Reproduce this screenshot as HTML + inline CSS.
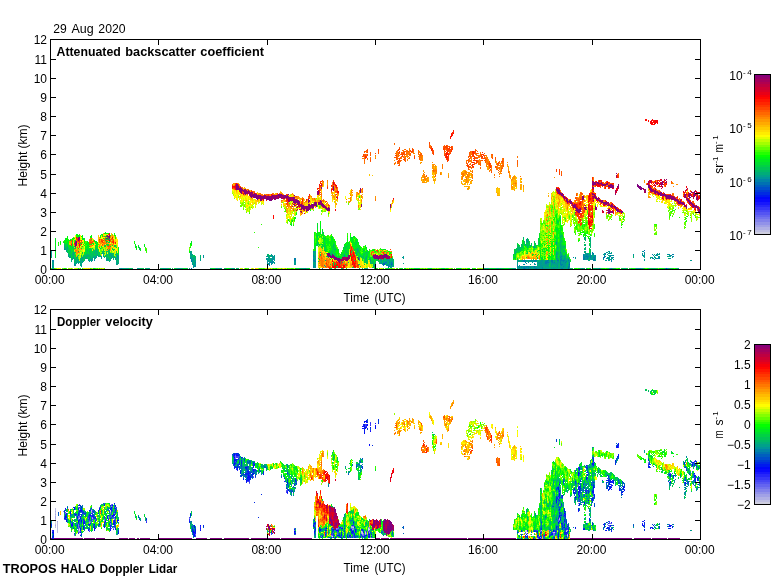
<!DOCTYPE html>
<html><head><meta charset="utf-8"><title>TROPOS HALO Doppler Lidar</title>
<style>html,body{margin:0;padding:0;background:#fff}svg{display:block;will-change:transform}text{font-family:"Liberation Sans",sans-serif;font-size:12px;fill:#000}.b{font-weight:bold}.s{font-size:8px}</style></head><body>
<svg width="780" height="580" viewBox="0 0 780 580">
<rect width="780" height="580" fill="#fff"/>
<defs><linearGradient id="cb" x1="0" y1="1" x2="0" y2="0">
<stop offset="0.0000" stop-color="#cecedf"/><stop offset="0.0156" stop-color="#cecedf"/>
<stop offset="0.0156" stop-color="#bfbfe2"/><stop offset="0.0312" stop-color="#bfbfe2"/>
<stop offset="0.0312" stop-color="#b0b0e4"/><stop offset="0.0469" stop-color="#b0b0e4"/>
<stop offset="0.0469" stop-color="#a1a1e6"/><stop offset="0.0625" stop-color="#a1a1e6"/>
<stop offset="0.0625" stop-color="#9292e9"/><stop offset="0.0781" stop-color="#9292e9"/>
<stop offset="0.0781" stop-color="#8282eb"/><stop offset="0.0938" stop-color="#8282eb"/>
<stop offset="0.0938" stop-color="#7373ed"/><stop offset="0.1094" stop-color="#7373ed"/>
<stop offset="0.1094" stop-color="#6464f0"/><stop offset="0.1250" stop-color="#6464f0"/>
<stop offset="0.1250" stop-color="#5555f2"/><stop offset="0.1406" stop-color="#5555f2"/>
<stop offset="0.1406" stop-color="#4646f4"/><stop offset="0.1562" stop-color="#4646f4"/>
<stop offset="0.1562" stop-color="#3636f7"/><stop offset="0.1719" stop-color="#3636f7"/>
<stop offset="0.1719" stop-color="#2727f9"/><stop offset="0.1875" stop-color="#2727f9"/>
<stop offset="0.1875" stop-color="#1818fb"/><stop offset="0.2031" stop-color="#1818fb"/>
<stop offset="0.2031" stop-color="#0909fe"/><stop offset="0.2188" stop-color="#0909fe"/>
<stop offset="0.2188" stop-color="#0007fa"/><stop offset="0.2344" stop-color="#0007fa"/>
<stop offset="0.2344" stop-color="#0019ee"/><stop offset="0.2500" stop-color="#0019ee"/>
<stop offset="0.2500" stop-color="#002be2"/><stop offset="0.2656" stop-color="#002be2"/>
<stop offset="0.2656" stop-color="#003cd6"/><stop offset="0.2812" stop-color="#003cd6"/>
<stop offset="0.2812" stop-color="#004eca"/><stop offset="0.2969" stop-color="#004eca"/>
<stop offset="0.2969" stop-color="#005fbe"/><stop offset="0.3125" stop-color="#005fbe"/>
<stop offset="0.3125" stop-color="#0071b2"/><stop offset="0.3281" stop-color="#0071b2"/>
<stop offset="0.3281" stop-color="#0083a7"/><stop offset="0.3438" stop-color="#0083a7"/>
<stop offset="0.3438" stop-color="#00949b"/><stop offset="0.3594" stop-color="#00949b"/>
<stop offset="0.3594" stop-color="#00a18a"/><stop offset="0.3750" stop-color="#00a18a"/>
<stop offset="0.3750" stop-color="#00ad79"/><stop offset="0.3906" stop-color="#00ad79"/>
<stop offset="0.3906" stop-color="#00b967"/><stop offset="0.4062" stop-color="#00b967"/>
<stop offset="0.4062" stop-color="#00c555"/><stop offset="0.4219" stop-color="#00c555"/>
<stop offset="0.4219" stop-color="#00d144"/><stop offset="0.4375" stop-color="#00d144"/>
<stop offset="0.4375" stop-color="#00dd32"/><stop offset="0.4531" stop-color="#00dd32"/>
<stop offset="0.4531" stop-color="#00e921"/><stop offset="0.4688" stop-color="#00e921"/>
<stop offset="0.4688" stop-color="#00f50f"/><stop offset="0.4844" stop-color="#00f50f"/>
<stop offset="0.4844" stop-color="#04ff00"/><stop offset="0.5000" stop-color="#04ff00"/>
<stop offset="0.5000" stop-color="#24ff00"/><stop offset="0.5156" stop-color="#24ff00"/>
<stop offset="0.5156" stop-color="#44ff00"/><stop offset="0.5312" stop-color="#44ff00"/>
<stop offset="0.5312" stop-color="#64ff00"/><stop offset="0.5469" stop-color="#64ff00"/>
<stop offset="0.5469" stop-color="#84ff00"/><stop offset="0.5625" stop-color="#84ff00"/>
<stop offset="0.5625" stop-color="#a4ff00"/><stop offset="0.5781" stop-color="#a4ff00"/>
<stop offset="0.5781" stop-color="#c4ff00"/><stop offset="0.5938" stop-color="#c4ff00"/>
<stop offset="0.5938" stop-color="#e4ff00"/><stop offset="0.6094" stop-color="#e4ff00"/>
<stop offset="0.6094" stop-color="#fffd00"/><stop offset="0.6250" stop-color="#fffd00"/>
<stop offset="0.6250" stop-color="#ffec00"/><stop offset="0.6406" stop-color="#ffec00"/>
<stop offset="0.6406" stop-color="#ffdc00"/><stop offset="0.6562" stop-color="#ffdc00"/>
<stop offset="0.6562" stop-color="#ffcb00"/><stop offset="0.6719" stop-color="#ffcb00"/>
<stop offset="0.6719" stop-color="#ffbb00"/><stop offset="0.6875" stop-color="#ffbb00"/>
<stop offset="0.6875" stop-color="#ffaa00"/><stop offset="0.7031" stop-color="#ffaa00"/>
<stop offset="0.7031" stop-color="#ff9900"/><stop offset="0.7188" stop-color="#ff9900"/>
<stop offset="0.7188" stop-color="#ff8900"/><stop offset="0.7344" stop-color="#ff8900"/>
<stop offset="0.7344" stop-color="#ff7800"/><stop offset="0.7500" stop-color="#ff7800"/>
<stop offset="0.7500" stop-color="#ff6800"/><stop offset="0.7656" stop-color="#ff6800"/>
<stop offset="0.7656" stop-color="#ff5800"/><stop offset="0.7812" stop-color="#ff5800"/>
<stop offset="0.7812" stop-color="#ff4700"/><stop offset="0.7969" stop-color="#ff4700"/>
<stop offset="0.7969" stop-color="#ff3700"/><stop offset="0.8125" stop-color="#ff3700"/>
<stop offset="0.8125" stop-color="#ff2600"/><stop offset="0.8281" stop-color="#ff2600"/>
<stop offset="0.8281" stop-color="#ff1600"/><stop offset="0.8438" stop-color="#ff1600"/>
<stop offset="0.8438" stop-color="#ff0600"/><stop offset="0.8594" stop-color="#ff0600"/>
<stop offset="0.8594" stop-color="#f60009"/><stop offset="0.8750" stop-color="#f60009"/>
<stop offset="0.8750" stop-color="#e80017"/><stop offset="0.8906" stop-color="#e80017"/>
<stop offset="0.8906" stop-color="#da0025"/><stop offset="0.9062" stop-color="#da0025"/>
<stop offset="0.9062" stop-color="#cc0033"/><stop offset="0.9219" stop-color="#cc0033"/>
<stop offset="0.9219" stop-color="#be0041"/><stop offset="0.9375" stop-color="#be0041"/>
<stop offset="0.9375" stop-color="#b1004f"/><stop offset="0.9531" stop-color="#b1004f"/>
<stop offset="0.9531" stop-color="#a3005d"/><stop offset="0.9688" stop-color="#a3005d"/>
<stop offset="0.9688" stop-color="#95006b"/><stop offset="0.9844" stop-color="#95006b"/>
<stop offset="0.9844" stop-color="#870079"/><stop offset="1.0000" stop-color="#870079"/>
</linearGradient></defs>
<g shape-rendering="crispEdges">
<g fill="none" stroke-width="1"><path stroke="#0046d0" d="M384.5 264v1M666.5 268v1"/><path stroke="#0063bc" d="M191.5 268v1M383.5 263v2M384.5 263v1M388.5 267v1M391.5 264v1M524.5 261v1M524.5 268v1M534.5 266v1M568.5 268v1M569.5 264v1M594.5 259v1M604.5 257v1M644.5 250v1"/><path stroke="#0080a9" d="M52.5 260v1M52.5 266v1M53.5 260v2M64.5 249v1M74.5 264v1M94.5 260v1M121.5 268v1M190.5 258v1M191.5 259v3M194.5 266v1M195.5 262v1M195.5 266v1M203.5 255v1M266.5 258v1M267.5 262v1M269.5 263v3M270.5 262v1M271.5 262v1M272.5 259v4M294.5 258v3M295.5 258v3M305.5 268v1M313.5 251v1M313.5 255v2M313.5 259v2M313.5 266v2M314.5 260v2M315.5 261v1M322.5 268v1M325.5 266v1M344.5 256v1M370.5 260v1M381.5 263v1M383.5 265v1M385.5 262v2M386.5 262v1M387.5 265v1M388.5 265v2M389.5 262v1M389.5 264v1M389.5 266v1M391.5 262v2M391.5 265v1M392.5 263v2M517.5 265v2M519.5 267v1M521.5 266v2M523.5 260v2M523.5 267v2M524.5 260v1M524.5 264v1M524.5 266v2M525.5 260v1M525.5 262v1M525.5 268v1M526.5 239v1M526.5 266v2M527.5 266v1M528.5 266v3M530.5 267v1M531.5 260v1M534.5 260v2M534.5 267v1M535.5 260v2M535.5 268v1M536.5 260v1M536.5 268v1M542.5 267v2M545.5 261v3M546.5 261v3M547.5 260v3M548.5 260v1M548.5 262v1M551.5 260v2M552.5 260v3M554.5 262v1M557.5 260v1M558.5 260v1M560.5 252v1M560.5 257v1M560.5 259v6M561.5 256v1M561.5 258v3M561.5 264v2M561.5 268v1M562.5 260v1M562.5 264v1M562.5 268v1M563.5 260v2M563.5 266v1M564.5 260v1M565.5 262v1M566.5 261v1M568.5 259v2M568.5 266v2M569.5 262v2M569.5 265v2M573.5 257v1M582.5 268v1M583.5 254v6M584.5 257v3M585.5 256v1M586.5 255v2M587.5 254v1M587.5 256v3M588.5 256v1M590.5 255v3M592.5 252v2M593.5 253v1M593.5 257v1M593.5 259v2M594.5 257v2M594.5 260v1M595.5 256v1M599.5 268v1M603.5 257v2M604.5 256v1M605.5 253v2M605.5 256v1M606.5 258v1M608.5 260v1M610.5 253v1M610.5 255v2M611.5 257v1M611.5 260v2M611.5 268v1M613.5 255v1M613.5 257v1M633.5 254v1M640.5 268v1M642.5 254v1M643.5 251v1M644.5 252v1M652.5 254v1M652.5 257v1M653.5 255v1M653.5 258v1M656.5 254v2M656.5 258v1M658.5 258v1M659.5 257v2M668.5 254v1M671.5 255v1M672.5 254v1M673.5 254v1M673.5 256v1"/><path stroke="#009b94" d="M51.5 251v6M52.5 261v2M52.5 264v2M52.5 267v2M53.5 262v4M53.5 268v1M64.5 247v2M66.5 250v1M67.5 247v1M68.5 254v2M69.5 257v1M70.5 257v1M72.5 259v1M73.5 253v1M73.5 257v2M74.5 263v1M74.5 265v1M75.5 264v2M76.5 263v1M77.5 257v1M77.5 261v2M78.5 263v1M80.5 261v1M80.5 263v1M81.5 264v3M82.5 257v2M82.5 261v2M86.5 258v1M88.5 260v1M89.5 260v2M90.5 259v1M91.5 259v3M92.5 259v2M93.5 257v1M94.5 257v1M94.5 259v1M95.5 256v3M96.5 256v2M97.5 255v1M100.5 255v2M101.5 257v2M106.5 259v2M107.5 259v1M108.5 259v2M109.5 254v1M110.5 253v1M110.5 260v1M111.5 255v1M111.5 257v2M115.5 258v2M116.5 262v3M117.5 255v4M118.5 256v3M118.5 263v1M120.5 268v1M123.5 268v1M126.5 268v1M128.5 268v1M137.5 268v1M138.5 268v1M148.5 268v1M163.5 268v1M165.5 268v1M178.5 268v1M179.5 268v1M189.5 268v1M190.5 251v4M190.5 257v1M191.5 253v3M191.5 257v2M192.5 259v6M193.5 258v3M193.5 264v4M194.5 260v1M194.5 262v1M194.5 264v2M195.5 261v1M195.5 263v3M200.5 259v2M203.5 256v2M216.5 268v1M217.5 268v1M219.5 268v1M220.5 268v1M221.5 268v1M232.5 268v1M233.5 268v1M266.5 256v1M266.5 259v1M267.5 256v1M267.5 258v4M267.5 263v1M268.5 257v5M268.5 263v2M269.5 259v1M269.5 261v2M270.5 259v1M270.5 261v1M271.5 254v3M271.5 258v4M271.5 263v2M272.5 255v4M272.5 263v1M273.5 256v4M273.5 261v2M274.5 255v6M274.5 262v2M294.5 261v4M295.5 261v4M301.5 268v1M303.5 268v1M313.5 252v3M313.5 257v2M313.5 261v2M313.5 264v2M314.5 251v1M314.5 256v4M314.5 264v4M315.5 251v2M315.5 256v1M315.5 258v3M315.5 262v6M324.5 265v1M342.5 268v1M344.5 255v1M359.5 268v1M365.5 268v1M366.5 268v1M374.5 265v1M380.5 259v2M380.5 263v1M381.5 259v4M382.5 264v1M383.5 261v2M384.5 262v1M385.5 261v1M386.5 259v1M386.5 261v1M386.5 263v1M386.5 265v1M387.5 259v2M387.5 264v1M388.5 259v2M388.5 264v1M389.5 260v2M389.5 263v1M389.5 265v1M390.5 262v3M390.5 266v2M391.5 261v1M391.5 266v2M392.5 259v1M392.5 261v2M392.5 265v1M393.5 266v1M402.5 257v1M403.5 256v3M403.5 263v1M485.5 268v1M487.5 268v1M512.5 268v1M514.5 268v1M517.5 260v2M517.5 263v2M517.5 267v2M518.5 260v1M518.5 266v2M519.5 261v1M519.5 265v2M519.5 268v1M520.5 266v3M521.5 260v2M521.5 268v1M522.5 260v2M522.5 266v3M523.5 264v1M523.5 266v1M525.5 244v1M525.5 261v1M525.5 266v2M526.5 240v2M526.5 260v2M526.5 263v1M526.5 268v1M527.5 240v2M527.5 261v1M527.5 267v2M528.5 260v3M529.5 260v1M529.5 266v3M530.5 245v1M530.5 260v2M530.5 266v1M530.5 268v1M531.5 261v1M531.5 267v2M532.5 260v3M532.5 266v2M533.5 260v2M533.5 266v3M534.5 247v1M534.5 263v2M534.5 268v1M535.5 264v1M535.5 266v2M536.5 261v1M536.5 267v1M537.5 263v6M538.5 262v2M538.5 266v3M539.5 262v2M539.5 266v3M540.5 261v8M541.5 260v9M542.5 260v2M542.5 263v1M542.5 265v2M543.5 262v1M543.5 264v2M543.5 268v1M544.5 262v3M544.5 268v1M545.5 260v1M545.5 264v5M546.5 260v1M546.5 264v2M546.5 268v1M547.5 263v4M547.5 268v1M548.5 261v1M548.5 263v2M548.5 266v1M548.5 268v1M549.5 262v1M551.5 262v4M551.5 267v2M552.5 263v1M552.5 268v1M553.5 262v3M553.5 267v2M554.5 260v2M554.5 263v1M554.5 267v2M555.5 263v2M555.5 268v1M556.5 242v2M556.5 253v2M556.5 256v1M556.5 258v1M556.5 263v1M556.5 265v1M556.5 267v1M557.5 261v8M558.5 261v2M560.5 253v1M560.5 255v2M560.5 258v1M560.5 265v4M561.5 254v2M561.5 257v1M561.5 261v3M561.5 266v2M562.5 256v1M562.5 261v3M562.5 265v1M562.5 267v1M563.5 259v1M563.5 262v4M563.5 267v2M564.5 256v4M564.5 261v7M565.5 258v1M565.5 260v2M565.5 263v6M566.5 260v1M566.5 262v1M567.5 267v2M568.5 258v1M568.5 261v2M568.5 264v2M569.5 260v2M569.5 267v1M570.5 268v1M575.5 257v2M584.5 237v2M584.5 254v3M585.5 247v1M585.5 249v1M585.5 251v1M585.5 253v3M585.5 257v3M586.5 253v2M586.5 257v3M587.5 253v1M587.5 255v1M587.5 259v1M588.5 255v1M588.5 257v2M588.5 260v1M589.5 254v3M590.5 237v2M590.5 253v2M590.5 258v2M591.5 255v5M592.5 254v1M592.5 258v2M593.5 254v3M593.5 258v1M594.5 255v2M594.5 268v1M595.5 255v1M595.5 257v2M595.5 260v1M596.5 268v1M603.5 254v1M603.5 259v1M604.5 253v3M605.5 260v1M606.5 252v1M606.5 260v1M607.5 252v1M607.5 254v1M607.5 257v2M608.5 251v1M608.5 253v1M608.5 258v2M609.5 251v3M609.5 255v5M609.5 268v1M610.5 259v1M610.5 268v1M611.5 253v1M611.5 255v1M611.5 258v2M612.5 255v1M612.5 258v1M613.5 259v1M625.5 268v1M636.5 268v1M637.5 268v1M638.5 268v1M639.5 268v1M642.5 251v1M642.5 253v1M642.5 255v1M642.5 268v1M643.5 255v2M644.5 253v5M644.5 259v2M650.5 258v1M652.5 258v1M654.5 257v1M654.5 259v1M655.5 255v1M655.5 258v1M657.5 253v1M657.5 255v1M657.5 258v1M658.5 254v1M658.5 256v2M659.5 253v2M659.5 256v1M667.5 254v1M667.5 268v1M668.5 256v1M668.5 268v1M669.5 254v2M669.5 258v1M670.5 255v2M670.5 258v1M672.5 256v2M678.5 268v1M690.5 260v1M691.5 260v1"/><path stroke="#00af77" d="M51.5 250v1M51.5 257v1M52.5 263v1M53.5 266v2M64.5 245v2M65.5 248v2M66.5 248v2M66.5 251v1M67.5 246v1M67.5 248v2M67.5 252v1M68.5 253v1M68.5 256v1M69.5 256v1M70.5 251v1M70.5 255v2M71.5 259v3M72.5 254v1M72.5 258v1M73.5 252v1M73.5 254v3M74.5 259v1M75.5 259v5M76.5 260v3M77.5 256v1M77.5 258v3M78.5 255v1M78.5 259v4M79.5 261v2M80.5 259v2M80.5 262v1M80.5 264v2M81.5 256v8M82.5 259v2M83.5 256v2M83.5 261v1M85.5 256v3M86.5 255v3M87.5 255v2M87.5 258v1M88.5 255v2M89.5 256v1M89.5 259v1M90.5 256v3M90.5 260v1M91.5 258v1M92.5 257v2M93.5 253v1M93.5 255v2M94.5 256v1M94.5 258v1M95.5 250v4M96.5 249v3M96.5 253v1M96.5 255v1M97.5 251v4M98.5 255v2M99.5 256v1M100.5 248v1M101.5 246v1M101.5 256v1M102.5 251v3M103.5 253v4M104.5 253v1M104.5 257v1M105.5 255v2M106.5 258v1M107.5 255v1M107.5 257v2M107.5 260v1M108.5 258v1M109.5 253v1M109.5 255v2M109.5 261v1M110.5 254v3M110.5 258v1M111.5 253v2M111.5 256v1M112.5 253v1M112.5 255v3M113.5 256v2M113.5 259v1M114.5 256v2M115.5 254v1M115.5 257v1M116.5 254v3M116.5 258v4M117.5 259v6M118.5 255v1M118.5 259v4M119.5 268v1M122.5 268v1M124.5 268v1M125.5 268v1M127.5 268v1M132.5 268v1M139.5 268v1M146.5 268v1M147.5 268v1M149.5 268v1M161.5 268v1M162.5 268v1M164.5 268v1M166.5 268v1M167.5 268v1M168.5 268v1M176.5 268v1M177.5 268v1M180.5 268v1M181.5 268v1M182.5 268v1M190.5 255v2M191.5 251v2M191.5 256v1M192.5 254v5M193.5 257v1M193.5 261v3M194.5 257v3M194.5 261v1M194.5 263v1M195.5 256v3M195.5 260v1M200.5 256v3M210.5 268v1M215.5 268v1M225.5 268v1M231.5 268v1M237.5 268v1M267.5 254v2M268.5 255v2M269.5 255v4M269.5 260v1M270.5 255v2M270.5 258v1M270.5 260v1M299.5 268v1M304.5 268v1M308.5 268v1M313.5 263v1M314.5 252v4M314.5 262v2M315.5 253v3M315.5 257v1M317.5 241v1M317.5 243v1M325.5 260v1M326.5 256v1M331.5 268v1M333.5 245v1M334.5 255v1M335.5 249v1M340.5 261v1M342.5 262v1M343.5 256v1M344.5 254v1M348.5 262v1M354.5 260v1M356.5 253v2M357.5 249v3M358.5 251v1M358.5 257v1M359.5 252v1M359.5 258v2M359.5 264v1M365.5 258v1M366.5 257v4M367.5 268v1M369.5 259v1M370.5 259v1M370.5 261v2M371.5 263v1M372.5 267v1M373.5 264v2M374.5 264v1M374.5 266v1M375.5 262v3M378.5 261v1M379.5 263v1M380.5 261v2M382.5 263v1M383.5 259v2M384.5 259v3M386.5 260v1M386.5 264v1M387.5 261v3M388.5 261v1M388.5 263v1M389.5 259v1M390.5 259v3M390.5 265v1M391.5 260v1M392.5 258v1M392.5 260v1M392.5 266v1M393.5 265v1M488.5 268v1M497.5 268v1M498.5 268v1M500.5 268v1M513.5 268v1M515.5 251v3M515.5 268v1M517.5 247v1M517.5 249v1M517.5 262v1M518.5 247v1M518.5 249v1M518.5 261v1M518.5 268v1M519.5 248v2M519.5 260v1M520.5 260v2M522.5 245v1M523.5 237v1M525.5 245v1M527.5 238v2M527.5 242v1M527.5 245v1M527.5 260v1M528.5 241v2M529.5 261v1M530.5 264v1M531.5 266v1M532.5 268v1M533.5 246v2M534.5 245v2M535.5 243v1M536.5 266v1M537.5 260v3M538.5 260v2M538.5 264v2M539.5 261v1M539.5 264v2M540.5 260v1M542.5 262v1M542.5 264v1M543.5 260v2M543.5 263v1M543.5 266v2M544.5 260v2M544.5 265v3M546.5 266v2M547.5 267v1M548.5 265v1M548.5 267v1M549.5 260v2M549.5 267v2M550.5 260v3M550.5 264v1M550.5 266v3M551.5 266v1M552.5 264v2M552.5 267v1M553.5 260v2M553.5 265v2M554.5 264v3M555.5 260v3M555.5 265v3M556.5 252v1M556.5 255v1M556.5 257v1M556.5 259v4M556.5 264v1M556.5 266v1M556.5 268v1M557.5 247v1M557.5 252v3M557.5 256v1M557.5 258v2M558.5 258v2M558.5 263v6M559.5 257v1M559.5 261v4M559.5 266v3M560.5 236v2M560.5 241v1M560.5 243v1M560.5 245v4M560.5 250v2M560.5 254v1M561.5 240v1M561.5 253v1M562.5 255v1M562.5 257v3M562.5 266v1M563.5 246v1M563.5 250v2M563.5 256v1M563.5 258v1M564.5 247v1M564.5 251v1M564.5 255v1M564.5 268v1M565.5 254v4M565.5 259v1M566.5 259v1M566.5 263v6M567.5 259v3M567.5 264v3M568.5 263v1M569.5 268v1M580.5 268v1M581.5 268v1M584.5 249v1M584.5 251v2M584.5 268v1M585.5 238v3M585.5 244v2M585.5 252v1M586.5 268v1M588.5 253v2M588.5 259v1M589.5 253v1M589.5 257v4M590.5 239v4M590.5 244v3M590.5 268v1M592.5 255v3M595.5 259v1M597.5 268v1M598.5 268v1M600.5 268v1M608.5 255v1M608.5 257v1M609.5 260v1M611.5 252v1M612.5 257v1M624.5 268v1M633.5 255v3M641.5 268v1M649.5 268v1M650.5 257v1M651.5 257v1M651.5 268v1M654.5 254v1M654.5 256v1M654.5 268v1M655.5 257v1M657.5 254v1M665.5 268v1M667.5 256v1M668.5 258v1M669.5 256v1"/><path stroke="#00c25a" d="M64.5 244v1M65.5 245v3M66.5 247v1M67.5 244v2M67.5 250v2M68.5 248v2M69.5 251v2M69.5 255v1M70.5 250v1M70.5 252v1M70.5 254v1M71.5 254v1M71.5 258v1M72.5 252v2M72.5 255v3M73.5 247v1M73.5 251v1M74.5 246v1M74.5 252v3M74.5 257v2M74.5 260v3M75.5 252v1M75.5 255v1M75.5 258v1M76.5 257v3M80.5 258v1M81.5 255v1M82.5 252v2M83.5 255v1M83.5 258v3M84.5 254v1M84.5 256v5M85.5 255v1M86.5 254v1M87.5 249v3M87.5 253v2M87.5 257v1M88.5 254v1M88.5 258v2M89.5 251v2M89.5 254v2M89.5 257v2M90.5 248v2M90.5 251v5M91.5 249v1M91.5 253v5M92.5 253v4M93.5 249v4M93.5 254v1M94.5 251v3M94.5 255v1M95.5 248v2M95.5 254v2M96.5 248v1M96.5 252v1M96.5 254v1M97.5 249v2M99.5 252v4M101.5 253v1M103.5 249v4M104.5 251v1M104.5 256v1M105.5 246v1M106.5 251v7M107.5 249v1M107.5 251v1M107.5 254v1M107.5 256v1M108.5 250v3M108.5 257v1M109.5 242v1M109.5 251v2M109.5 258v1M109.5 260v1M110.5 257v1M110.5 259v1M112.5 254v1M113.5 253v3M113.5 258v1M114.5 245v1M114.5 249v1M116.5 247v1M116.5 253v1M116.5 257v1M117.5 254v1M130.5 268v1M131.5 268v1M139.5 247v2M140.5 268v1M141.5 268v1M142.5 268v1M143.5 268v1M145.5 268v1M160.5 268v1M170.5 268v1M172.5 268v1M185.5 268v1M187.5 268v1M193.5 255v2M194.5 256v1M195.5 259v1M200.5 255v1M218.5 268v1M234.5 268v1M236.5 268v1M268.5 254v1M296.5 268v1M300.5 268v1M302.5 268v1M306.5 268v1M307.5 268v1M316.5 245v1M317.5 236v2M317.5 242v1M317.5 244v2M318.5 244v1M318.5 261v1M319.5 259v1M320.5 252v1M320.5 255v1M322.5 231v2M322.5 245v1M324.5 245v3M325.5 249v2M327.5 256v1M328.5 257v1M330.5 253v2M330.5 264v1M331.5 252v4M332.5 251v1M332.5 253v1M333.5 244v1M333.5 246v2M333.5 258v1M334.5 249v1M334.5 253v2M335.5 248v1M335.5 256v1M335.5 263v1M337.5 266v1M338.5 257v1M340.5 263v1M341.5 258v1M343.5 255v1M345.5 250v2M345.5 255v2M346.5 251v2M347.5 252v1M347.5 254v1M348.5 254v1M351.5 237v1M352.5 267v1M353.5 267v1M355.5 249v1M355.5 253v1M356.5 249v1M356.5 252v1M356.5 255v1M357.5 248v1M357.5 252v1M358.5 248v3M358.5 264v1M359.5 253v2M359.5 256v2M359.5 260v1M360.5 256v1M362.5 256v2M363.5 250v1M363.5 254v1M363.5 256v3M364.5 250v1M364.5 260v3M364.5 264v1M364.5 268v1M365.5 257v1M365.5 259v2M365.5 262v1M366.5 252v1M366.5 256v1M366.5 262v1M367.5 254v3M367.5 261v2M370.5 258v1M370.5 263v1M371.5 262v1M372.5 260v4M373.5 261v3M373.5 266v1M375.5 265v1M376.5 260v1M376.5 268v1M377.5 259v2M379.5 260v1M382.5 260v1M382.5 262v1M385.5 259v2M387.5 268v1M388.5 262v1M391.5 258v2M393.5 260v5M443.5 268v1M460.5 268v1M484.5 268v1M486.5 268v1M491.5 268v1M496.5 268v1M501.5 268v1M503.5 268v1M509.5 268v1M510.5 268v1M513.5 254v1M514.5 253v1M514.5 257v1M515.5 249v2M516.5 248v1M516.5 251v2M517.5 245v1M517.5 248v1M517.5 250v1M517.5 259v1M518.5 245v2M518.5 248v1M518.5 250v2M519.5 246v2M519.5 250v1M520.5 247v4M521.5 244v4M522.5 244v1M522.5 246v2M523.5 238v1M524.5 241v3M526.5 242v1M526.5 244v1M526.5 253v1M527.5 243v2M527.5 246v2M527.5 253v1M528.5 240v1M528.5 243v1M528.5 245v3M529.5 243v3M530.5 252v1M531.5 243v2M533.5 250v1M534.5 241v1M535.5 247v1M536.5 245v1M536.5 247v1M537.5 251v1M538.5 242v2M539.5 260v1M541.5 258v1M542.5 258v1M549.5 255v1M549.5 263v2M549.5 266v1M550.5 263v1M550.5 265v1M552.5 266v1M555.5 242v1M556.5 238v1M556.5 241v1M556.5 244v1M556.5 251v1M557.5 221v1M557.5 243v1M557.5 245v2M557.5 248v2M557.5 251v1M557.5 255v1M557.5 257v1M558.5 247v3M558.5 252v3M559.5 245v1M559.5 255v2M559.5 260v1M559.5 265v1M560.5 217v1M560.5 235v1M560.5 242v1M560.5 244v1M560.5 249v1M561.5 235v2M561.5 241v2M561.5 244v7M561.5 252v1M562.5 235v2M562.5 246v4M562.5 252v3M563.5 247v1M563.5 255v1M563.5 257v1M564.5 246v1M564.5 250v1M565.5 253v1M566.5 258v1M567.5 258v1M567.5 262v2M568.5 257v1M571.5 268v1M583.5 268v1M584.5 239v1M584.5 242v1M584.5 244v2M584.5 248v1M585.5 237v1M585.5 248v1M589.5 244v1M590.5 243v1M590.5 247v1M590.5 249v4M595.5 268v1M612.5 268v1M613.5 268v1M622.5 268v1M623.5 268v1M627.5 268v1M631.5 268v1M635.5 268v1M652.5 268v1M653.5 268v1M655.5 268v1M657.5 268v1M664.5 268v1M669.5 268v1M670.5 268v1M677.5 268v1"/><path stroke="#00d63d" d="M55.5 247v4M55.5 256v1M63.5 242v1M64.5 243v1M65.5 244v1M66.5 244v3M67.5 242v2M68.5 247v1M68.5 250v3M69.5 249v2M69.5 253v2M70.5 245v2M70.5 249v1M70.5 253v1M71.5 247v2M71.5 252v2M71.5 255v3M72.5 242v1M72.5 246v3M72.5 250v2M73.5 248v3M74.5 248v1M74.5 255v2M75.5 240v1M75.5 247v2M75.5 256v2M78.5 243v1M78.5 248v1M78.5 251v1M81.5 248v1M82.5 246v1M84.5 253v1M84.5 255v1M85.5 254v1M86.5 249v5M87.5 252v1M88.5 251v1M88.5 253v1M88.5 257v1M89.5 248v3M89.5 253v1M90.5 250v1M91.5 250v3M92.5 248v1M92.5 251v2M93.5 268v1M94.5 250v1M94.5 254v1M95.5 245v3M96.5 244v1M96.5 246v2M97.5 248v1M98.5 251v4M101.5 234v1M104.5 245v2M105.5 245v1M106.5 241v2M106.5 244v1M107.5 241v1M108.5 242v1M108.5 253v4M109.5 241v1M109.5 250v1M109.5 257v1M109.5 259v1M110.5 246v1M112.5 245v1M112.5 248v2M113.5 249v2M114.5 246v1M115.5 245v2M116.5 251v2M117.5 253v1M118.5 254v1M129.5 268v1M138.5 246v1M139.5 249v1M169.5 268v1M174.5 268v1M175.5 268v1M184.5 268v1M191.5 241v1M194.5 255v1M211.5 268v1M212.5 268v1M214.5 268v1M224.5 268v1M229.5 268v1M230.5 268v1M238.5 268v1M291.5 225v1M314.5 239v2M315.5 248v1M316.5 235v1M316.5 244v1M317.5 226v2M317.5 235v1M317.5 238v3M319.5 244v2M319.5 268v1M320.5 254v1M321.5 244v1M321.5 246v1M322.5 233v1M322.5 238v1M322.5 242v1M322.5 244v1M322.5 246v1M322.5 248v1M323.5 232v2M323.5 237v2M324.5 238v7M324.5 250v1M325.5 236v1M325.5 238v1M325.5 243v1M325.5 245v4M326.5 253v1M330.5 252v1M330.5 259v1M330.5 268v1M331.5 237v2M331.5 246v1M331.5 250v2M332.5 246v5M332.5 252v1M333.5 243v1M333.5 248v2M333.5 251v1M333.5 253v2M333.5 262v4M334.5 243v6M334.5 250v2M335.5 247v1M335.5 250v1M335.5 253v3M335.5 268v1M336.5 256v1M337.5 267v1M338.5 256v1M340.5 257v2M341.5 253v2M341.5 268v1M342.5 254v1M343.5 248v1M343.5 254v1M344.5 246v4M344.5 253v1M345.5 246v4M345.5 252v2M345.5 264v1M346.5 246v3M346.5 250v1M346.5 255v2M347.5 245v2M347.5 250v1M347.5 253v1M347.5 256v1M348.5 243v1M348.5 245v1M348.5 250v1M348.5 252v2M349.5 244v1M349.5 248v1M351.5 251v2M352.5 237v5M352.5 250v1M354.5 242v1M354.5 250v1M355.5 243v3M355.5 248v1M355.5 250v1M356.5 241v4M356.5 248v1M356.5 250v2M357.5 241v1M357.5 245v1M357.5 247v1M357.5 253v1M357.5 255v1M358.5 252v1M358.5 256v1M359.5 245v3M359.5 251v1M359.5 255v1M360.5 254v2M360.5 266v1M361.5 255v3M362.5 258v2M362.5 268v1M363.5 253v1M363.5 255v1M364.5 253v3M364.5 259v1M365.5 252v2M365.5 256v1M365.5 261v1M366.5 247v1M366.5 253v3M366.5 261v1M367.5 250v4M367.5 260v1M367.5 263v1M368.5 252v1M369.5 257v2M370.5 257v1M371.5 261v1M372.5 256v2M373.5 258v3M373.5 267v1M374.5 249v2M374.5 259v2M374.5 263v1M374.5 267v2M375.5 259v1M375.5 261v1M378.5 260v1M379.5 261v2M381.5 249v1M382.5 261v1M384.5 249v1M384.5 258v1M385.5 258v1M385.5 264v1M390.5 258v1M393.5 259v1M401.5 268v1M414.5 268v1M416.5 268v1M417.5 268v1M430.5 268v1M489.5 268v1M492.5 268v1M494.5 268v1M495.5 268v1M499.5 268v1M502.5 268v1M506.5 268v1M508.5 268v1M511.5 268v1M513.5 255v1M513.5 257v1M514.5 249v4M515.5 254v1M515.5 257v1M515.5 259v1M516.5 249v2M517.5 243v2M517.5 246v1M517.5 251v1M517.5 258v1M518.5 252v1M519.5 251v1M521.5 248v3M522.5 240v1M522.5 242v2M523.5 239v1M523.5 241v1M523.5 243v1M523.5 247v2M524.5 244v1M526.5 243v1M526.5 245v2M527.5 249v1M528.5 239v1M528.5 244v1M529.5 251v1M530.5 246v1M531.5 245v2M534.5 242v3M535.5 244v2M537.5 257v2M538.5 238v4M538.5 244v1M539.5 241v3M539.5 250v1M542.5 249v1M544.5 248v1M544.5 251v1M549.5 253v1M549.5 265v1M550.5 235v1M551.5 255v1M555.5 243v1M555.5 254v1M555.5 256v1M555.5 258v1M556.5 229v1M556.5 240v1M556.5 249v2M557.5 220v1M557.5 222v1M557.5 229v1M557.5 238v1M557.5 240v3M557.5 244v1M558.5 221v2M558.5 250v2M558.5 256v1M559.5 243v2M559.5 246v2M559.5 251v4M559.5 258v2M560.5 218v2M560.5 230v1M560.5 232v3M560.5 238v3M561.5 234v1M561.5 237v3M561.5 251v1M562.5 237v1M562.5 240v3M562.5 244v2M562.5 250v2M563.5 245v1M563.5 248v2M563.5 252v1M563.5 254v1M564.5 245v1M564.5 248v2M564.5 252v1M565.5 246v1M565.5 252v1M566.5 254v4M567.5 257v1M568.5 256v1M569.5 259v1M570.5 261v1M572.5 268v1M578.5 268v1M589.5 238v1M589.5 240v1M589.5 245v1M589.5 248v1M589.5 268v1M593.5 268v1M607.5 268v1M614.5 268v1M615.5 268v1M621.5 268v1M629.5 268v1M643.5 268v1M644.5 268v1M650.5 268v1M659.5 268v1M662.5 268v1M672.5 268v1M676.5 268v1"/><path stroke="#00e920" d="M55.5 238v7M55.5 246v1M55.5 251v2M55.5 254v2M55.5 257v1M58.5 245v1M64.5 242v1M65.5 238v3M65.5 243v1M65.5 268v1M66.5 243v1M67.5 240v2M68.5 246v1M69.5 245v4M70.5 239v2M70.5 247v2M71.5 246v1M71.5 249v3M72.5 241v1M72.5 243v3M72.5 249v1M78.5 268v1M79.5 236v1M80.5 243v1M80.5 245v1M81.5 243v1M82.5 238v2M82.5 242v1M83.5 238v2M83.5 244v1M84.5 238v1M84.5 243v1M84.5 252v1M85.5 249v5M86.5 247v2M87.5 241v2M87.5 245v4M88.5 245v6M88.5 252v1M89.5 246v1M90.5 237v1M90.5 244v1M91.5 244v1M94.5 268v1M95.5 241v3M96.5 241v3M96.5 245v1M97.5 242v1M97.5 246v2M98.5 249v2M99.5 247v1M100.5 236v2M103.5 238v1M104.5 236v1M105.5 233v1M105.5 236v1M105.5 238v3M106.5 235v1M106.5 239v1M107.5 239v1M107.5 244v2M108.5 244v2M109.5 239v1M109.5 249v1M118.5 247v1M118.5 251v3M135.5 244v1M135.5 246v2M136.5 246v1M136.5 249v1M138.5 245v1M138.5 247v1M140.5 248v3M144.5 245v2M183.5 268v1M186.5 268v1M191.5 242v2M213.5 268v1M226.5 268v1M228.5 268v1M288.5 219v2M291.5 224v1M292.5 220v2M294.5 220v1M295.5 268v1M297.5 268v1M298.5 268v1M314.5 232v1M314.5 234v1M314.5 241v2M314.5 246v5M315.5 245v3M315.5 249v2M316.5 233v2M316.5 236v2M316.5 239v1M316.5 243v1M317.5 223v3M317.5 228v1M317.5 232v2M318.5 232v1M318.5 235v1M318.5 243v1M318.5 246v1M318.5 258v1M319.5 235v3M320.5 225v3M320.5 232v3M320.5 236v1M321.5 237v1M321.5 247v1M322.5 230v1M322.5 234v2M322.5 247v1M323.5 234v3M323.5 239v2M323.5 242v1M323.5 244v3M324.5 237v1M324.5 248v2M325.5 237v1M325.5 239v2M325.5 242v1M325.5 244v1M325.5 251v1M326.5 240v1M326.5 248v4M327.5 239v5M327.5 245v1M328.5 239v5M329.5 250v1M329.5 252v1M330.5 242v3M330.5 250v2M331.5 239v7M331.5 247v2M331.5 258v1M332.5 236v6M332.5 245v1M333.5 241v2M333.5 250v1M333.5 252v1M334.5 242v1M334.5 252v1M335.5 245v2M335.5 251v1M335.5 264v1M336.5 249v1M336.5 255v1M336.5 266v1M337.5 257v1M338.5 249v7M339.5 256v2M340.5 256v1M341.5 255v1M341.5 257v1M342.5 252v2M342.5 255v2M343.5 247v1M343.5 249v5M344.5 244v2M344.5 250v3M345.5 243v1M345.5 245v1M345.5 254v1M346.5 242v2M346.5 245v1M346.5 249v1M346.5 253v1M347.5 240v1M347.5 243v2M347.5 247v3M347.5 251v1M347.5 255v1M348.5 242v1M348.5 244v1M348.5 246v4M348.5 251v1M349.5 245v3M350.5 237v1M350.5 256v1M351.5 238v2M351.5 242v1M352.5 242v1M352.5 244v1M352.5 246v1M352.5 255v1M353.5 242v3M353.5 246v1M354.5 236v2M354.5 244v1M354.5 246v1M354.5 248v2M355.5 239v4M355.5 246v2M355.5 251v2M356.5 238v3M356.5 246v2M357.5 242v1M357.5 246v1M357.5 254v1M358.5 242v1M358.5 244v1M358.5 246v2M358.5 253v1M358.5 255v1M359.5 197v1M359.5 248v3M360.5 248v2M362.5 255v1M362.5 260v1M363.5 249v1M363.5 251v2M364.5 249v1M364.5 251v2M364.5 256v3M365.5 247v1M365.5 254v2M366.5 251v1M366.5 263v1M367.5 257v1M368.5 251v1M368.5 253v1M369.5 256v1M371.5 260v1M372.5 258v2M373.5 249v1M374.5 261v2M375.5 251v1M375.5 260v1M375.5 268v1M376.5 259v1M383.5 249v1M386.5 268v1M389.5 268v1M400.5 268v1M409.5 268v1M415.5 268v1M418.5 268v1M419.5 268v1M428.5 268v1M429.5 268v1M431.5 268v1M441.5 268v1M442.5 268v1M444.5 268v1M456.5 268v1M458.5 268v1M472.5 268v1M490.5 268v1M493.5 268v1M504.5 268v1M505.5 268v1M507.5 268v1M513.5 256v1M513.5 258v1M514.5 254v3M514.5 258v1M515.5 255v2M515.5 258v1M517.5 252v1M518.5 244v1M519.5 245v1M520.5 251v1M522.5 241v1M522.5 248v3M522.5 252v1M523.5 240v1M523.5 242v1M523.5 244v3M523.5 249v1M524.5 245v1M526.5 247v1M526.5 257v1M527.5 248v1M527.5 251v2M529.5 241v2M530.5 247v1M532.5 255v1M533.5 254v1M534.5 248v2M535.5 246v1M535.5 254v1M536.5 246v1M537.5 255v1M538.5 245v1M539.5 233v8M539.5 244v3M540.5 245v1M540.5 250v1M540.5 252v2M540.5 255v3M541.5 257v1M541.5 259v1M542.5 245v1M542.5 250v2M542.5 253v1M542.5 259v1M543.5 248v1M543.5 251v1M544.5 244v1M544.5 252v1M544.5 254v1M544.5 256v1M545.5 258v1M546.5 233v1M546.5 248v1M546.5 250v1M548.5 259v1M549.5 256v1M550.5 237v1M551.5 254v1M551.5 256v4M552.5 243v2M552.5 258v2M553.5 248v1M554.5 219v1M554.5 235v3M555.5 236v1M555.5 244v1M555.5 251v3M555.5 255v1M555.5 257v1M556.5 215v3M556.5 223v1M556.5 227v2M556.5 230v2M556.5 236v2M556.5 239v1M556.5 245v1M556.5 248v1M557.5 223v1M557.5 228v1M557.5 230v6M557.5 237v1M557.5 239v1M557.5 250v1M558.5 220v1M558.5 223v1M558.5 230v1M558.5 242v5M558.5 255v1M558.5 257v1M559.5 219v1M559.5 232v6M559.5 241v2M559.5 248v1M559.5 250v1M560.5 220v1M560.5 227v3M560.5 231v1M561.5 225v1M561.5 228v2M561.5 233v1M561.5 243v1M562.5 234v1M562.5 238v2M562.5 243v1M563.5 241v2M563.5 244v1M563.5 253v1M564.5 242v1M564.5 253v2M565.5 245v1M565.5 247v1M565.5 251v1M566.5 253v1M567.5 256v1M568.5 255v1M569.5 258v1M570.5 260v1M574.5 268v1M579.5 268v1M583.5 236v1M585.5 234v2M587.5 268v1M589.5 239v1M589.5 241v1M589.5 243v1M589.5 249v4M601.5 268v1M602.5 268v1M604.5 268v1M608.5 268v1M626.5 268v1M648.5 268v1M656.5 268v1M671.5 268v1M675.5 268v1"/><path stroke="#00fd03" d="M55.5 245v1M55.5 253v1M58.5 242v1M60.5 241v3M64.5 240v2M64.5 268v1M65.5 241v2M66.5 238v5M67.5 236v4M68.5 240v6M69.5 240v1M72.5 238v3M73.5 238v1M74.5 238v1M74.5 242v1M76.5 234v2M77.5 234v4M78.5 235v2M79.5 235v1M80.5 268v1M81.5 236v1M82.5 235v3M84.5 239v4M84.5 245v1M85.5 244v1M85.5 246v3M86.5 243v2M86.5 246v1M87.5 243v2M88.5 242v3M89.5 244v1M90.5 236v1M91.5 235v3M91.5 239v1M92.5 243v1M93.5 243v2M94.5 240v2M97.5 243v3M100.5 235v1M102.5 234v3M104.5 233v1M105.5 232v1M106.5 233v1M107.5 233v1M107.5 237v1M108.5 233v1M108.5 238v1M110.5 235v1M114.5 233v1M114.5 235v1M115.5 235v1M115.5 237v2M118.5 248v3M134.5 241v1M134.5 243v1M135.5 245v1M136.5 247v2M144.5 244v1M189.5 251v2M190.5 243v2M190.5 247v1M191.5 244v2M227.5 268v1M245.5 268v1M276.5 268v1M290.5 224v1M291.5 223v1M293.5 225v1M294.5 217v3M295.5 217v2M296.5 213v2M309.5 268v1M310.5 210v1M314.5 233v1M314.5 235v4M314.5 243v3M315.5 243v2M316.5 238v1M316.5 240v3M317.5 229v3M317.5 234v1M318.5 233v2M318.5 238v2M318.5 242v1M319.5 232v3M320.5 221v4M320.5 228v4M321.5 235v2M322.5 229v1M323.5 241v1M323.5 243v1M324.5 235v1M325.5 241v1M326.5 238v2M326.5 241v3M326.5 245v3M327.5 236v1M327.5 238v1M327.5 244v1M327.5 249v1M327.5 251v1M328.5 213v1M328.5 238v1M328.5 244v2M328.5 252v1M329.5 241v3M329.5 246v1M329.5 248v1M329.5 251v1M330.5 237v1M330.5 241v1M330.5 245v1M330.5 248v2M331.5 234v1M331.5 236v1M331.5 249v1M332.5 242v3M333.5 239v2M334.5 239v3M335.5 241v1M335.5 244v1M335.5 252v1M336.5 248v1M336.5 250v5M337.5 249v5M337.5 256v1M340.5 254v1M341.5 252v1M341.5 256v1M342.5 250v1M345.5 244v1M346.5 244v1M346.5 254v1M346.5 268v1M347.5 236v1M347.5 238v2M347.5 241v2M349.5 242v2M350.5 233v1M350.5 235v2M350.5 238v3M351.5 240v2M352.5 243v1M352.5 245v1M353.5 236v2M353.5 239v3M353.5 245v1M353.5 247v2M354.5 238v1M354.5 243v1M354.5 245v1M354.5 247v1M356.5 245v1M357.5 239v2M357.5 243v2M358.5 243v1M358.5 245v1M358.5 254v1M360.5 247v1M360.5 250v1M360.5 252v2M361.5 247v1M361.5 254v1M362.5 249v1M362.5 251v1M362.5 253v2M363.5 246v1M363.5 248v1M364.5 248v1M365.5 245v2M365.5 248v1M365.5 251v1M366.5 248v3M367.5 258v2M368.5 254v4M368.5 259v1M369.5 249v1M369.5 251v5M371.5 257v3M372.5 250v1M373.5 250v1M381.5 254v1M384.5 251v1M385.5 249v1M388.5 251v1M388.5 255v1M388.5 268v1M389.5 251v1M389.5 253v2M390.5 252v2M402.5 268v1M404.5 268v1M405.5 268v1M411.5 268v1M446.5 268v1M447.5 268v1M457.5 268v1M459.5 268v1M468.5 268v1M469.5 268v1M474.5 268v1M483.5 268v1M513.5 259v1M519.5 252v1M523.5 250v2M524.5 248v1M525.5 246v1M526.5 250v2M529.5 246v2M532.5 254v1M533.5 249v1M533.5 259v1M536.5 256v1M537.5 245v1M538.5 250v1M538.5 254v1M540.5 243v2M540.5 246v1M540.5 248v1M540.5 251v1M540.5 254v1M541.5 244v1M542.5 243v1M542.5 256v2M543.5 235v1M543.5 259v1M544.5 241v1M544.5 245v1M544.5 249v1M544.5 257v2M545.5 225v1M545.5 248v1M545.5 251v1M546.5 225v1M546.5 235v1M546.5 243v1M546.5 249v1M547.5 245v1M547.5 247v1M547.5 250v1M547.5 257v1M548.5 245v7M548.5 255v1M548.5 257v2M549.5 235v1M549.5 238v1M549.5 245v1M549.5 247v1M549.5 257v2M550.5 233v1M550.5 239v1M550.5 241v1M550.5 246v1M550.5 252v1M550.5 256v2M551.5 243v4M552.5 207v1M552.5 222v2M552.5 242v1M552.5 245v1M552.5 249v3M552.5 254v4M553.5 219v1M553.5 241v1M553.5 245v2M553.5 255v2M553.5 258v1M554.5 218v1M554.5 239v1M554.5 241v1M554.5 244v11M554.5 259v1M555.5 215v2M555.5 227v4M555.5 237v2M555.5 240v2M555.5 250v1M555.5 259v1M556.5 214v1M556.5 218v5M556.5 225v1M556.5 232v4M556.5 247v1M557.5 219v1M557.5 224v1M557.5 227v1M557.5 236v1M558.5 224v1M558.5 228v2M558.5 231v3M558.5 237v2M559.5 217v2M559.5 220v1M559.5 228v1M559.5 230v2M559.5 238v3M559.5 249v1M560.5 216v1M560.5 221v6M561.5 226v2M561.5 230v1M561.5 232v1M562.5 228v3M562.5 233v1M563.5 232v1M563.5 237v4M563.5 243v1M564.5 240v2M564.5 243v2M565.5 241v1M565.5 244v1M565.5 248v1M565.5 250v1M566.5 252v1M575.5 268v1M576.5 226v2M576.5 268v1M578.5 240v1M579.5 240v1M580.5 232v1M581.5 232v1M581.5 234v1M582.5 225v2M582.5 232v1M583.5 228v1M583.5 231v2M583.5 234v2M584.5 224v3M584.5 233v2M585.5 233v1M585.5 236v1M586.5 222v1M586.5 224v1M586.5 235v1M587.5 231v3M587.5 236v1M588.5 237v2M589.5 236v1M590.5 235v1M594.5 234v1M603.5 268v1M606.5 268v1M618.5 268v1M619.5 268v1M621.5 227v1M623.5 221v1M632.5 268v1M633.5 268v1M634.5 268v1M647.5 268v1M660.5 268v1M661.5 268v1M663.5 268v1M670.5 215v1M673.5 268v1M686.5 221v1M687.5 216v1"/><path stroke="#2fff00" d="M51.5 268v1M54.5 268v1M58.5 243v2M60.5 244v1M63.5 241v1M68.5 239v1M71.5 239v1M73.5 237v1M73.5 239v1M73.5 246v1M74.5 240v2M75.5 254v1M76.5 236v1M79.5 234v1M82.5 268v1M85.5 241v3M85.5 245v1M86.5 242v1M86.5 245v1M90.5 268v1M91.5 248v1M95.5 268v1M97.5 268v1M98.5 244v1M99.5 268v1M101.5 247v2M101.5 251v1M102.5 247v1M104.5 268v1M114.5 234v1M115.5 236v1M134.5 242v1M145.5 247v4M146.5 249v4M189.5 250v1M190.5 245v2M246.5 268v1M248.5 268v1M249.5 213v1M254.5 232v1M258.5 247v1M259.5 268v1M260.5 268v1M261.5 224v1M261.5 268v1M263.5 268v1M273.5 268v1M275.5 268v1M281.5 207v1M285.5 209v1M285.5 211v1M287.5 268v1M289.5 203v1M289.5 221v1M291.5 220v3M291.5 268v1M292.5 268v1M293.5 224v1M296.5 212v1M310.5 209v1M313.5 249v2M315.5 232v4M315.5 238v5M317.5 205v2M319.5 206v2M320.5 244v1M321.5 210v1M321.5 234v1M324.5 236v1M326.5 236v2M326.5 244v1M327.5 235v1M327.5 237v1M327.5 246v3M327.5 250v1M328.5 235v3M328.5 246v4M328.5 251v1M329.5 237v1M329.5 239v1M329.5 244v2M329.5 247v1M329.5 249v1M330.5 236v1M330.5 238v3M330.5 246v2M331.5 235v1M333.5 238v1M335.5 242v2M336.5 247v1M337.5 248v1M337.5 254v2M339.5 255v1M340.5 255v1M342.5 251v1M347.5 233v3M347.5 237v1M349.5 241v1M350.5 234v1M353.5 238v1M354.5 240v2M355.5 237v2M359.5 196v1M360.5 246v1M360.5 251v1M361.5 248v4M361.5 253v1M362.5 248v1M362.5 250v1M364.5 246v1M365.5 249v1M368.5 258v1M369.5 250v1M371.5 250v1M372.5 249v1M374.5 251v2M375.5 252v1M376.5 251v1M378.5 250v2M379.5 268v1M380.5 248v2M380.5 251v1M381.5 251v1M382.5 249v2M383.5 268v1M385.5 251v1M385.5 268v1M386.5 252v2M387.5 250v1M389.5 252v1M391.5 252v1M391.5 268v1M392.5 257v1M397.5 268v1M399.5 268v1M412.5 268v1M413.5 268v1M422.5 268v1M425.5 268v1M427.5 268v1M436.5 268v1M439.5 268v1M440.5 268v1M445.5 268v1M448.5 268v1M451.5 268v1M461.5 268v1M465.5 268v1M467.5 268v1M473.5 268v1M475.5 268v1M514.5 259v1M516.5 253v2M519.5 254v2M523.5 253v1M524.5 247v1M524.5 249v2M525.5 247v3M526.5 248v2M528.5 248v2M530.5 251v1M533.5 248v1M535.5 248v2M536.5 248v1M538.5 246v1M540.5 237v1M540.5 241v2M540.5 247v1M540.5 249v1M540.5 258v2M541.5 223v2M541.5 234v1M541.5 245v3M541.5 249v1M541.5 255v1M542.5 223v2M542.5 239v1M542.5 246v1M543.5 222v1M543.5 231v1M543.5 241v1M543.5 243v1M543.5 249v1M544.5 223v1M544.5 237v1M544.5 250v1M544.5 259v1M545.5 233v2M545.5 244v1M545.5 253v1M545.5 256v1M546.5 237v1M546.5 241v1M547.5 220v2M547.5 225v2M547.5 237v1M547.5 249v1M547.5 254v1M548.5 235v3M548.5 240v3M548.5 256v1M549.5 216v1M549.5 232v1M549.5 243v1M549.5 248v1M549.5 250v2M549.5 259v1M550.5 258v2M551.5 209v3M551.5 221v3M551.5 228v4M551.5 235v1M551.5 241v2M551.5 247v1M551.5 249v3M551.5 253v1M552.5 206v1M552.5 221v1M552.5 231v1M552.5 239v1M552.5 241v1M552.5 246v1M552.5 248v1M552.5 252v2M553.5 217v1M553.5 231v1M553.5 239v1M553.5 257v1M553.5 259v1M554.5 206v3M554.5 217v1M554.5 220v2M554.5 229v3M554.5 234v1M554.5 238v1M554.5 240v1M554.5 242v2M554.5 255v1M554.5 258v1M555.5 211v2M555.5 214v1M555.5 217v1M555.5 223v1M555.5 226v1M555.5 231v1M555.5 235v1M555.5 239v1M555.5 249v1M556.5 211v1M556.5 213v1M556.5 224v1M556.5 226v1M556.5 246v1M557.5 213v2M557.5 218v1M557.5 225v2M558.5 218v2M558.5 225v1M558.5 234v3M558.5 239v3M559.5 216v1M559.5 221v1M559.5 224v4M559.5 229v1M561.5 231v1M562.5 225v1M562.5 227v1M562.5 231v2M563.5 233v1M563.5 236v1M564.5 238v2M565.5 218v1M565.5 220v1M565.5 242v2M565.5 249v1M567.5 255v1M568.5 254v1M569.5 216v2M569.5 257v1M570.5 259v1M572.5 215v2M572.5 219v1M574.5 225v1M574.5 231v2M575.5 226v3M575.5 233v2M576.5 221v1M576.5 225v1M576.5 228v2M577.5 225v1M577.5 228v4M577.5 268v1M578.5 224v1M578.5 241v1M579.5 224v3M579.5 230v1M580.5 230v2M580.5 233v1M582.5 220v1M582.5 222v3M582.5 227v2M582.5 230v1M583.5 222v1M583.5 224v4M583.5 229v1M584.5 220v1M584.5 222v1M584.5 230v3M584.5 235v1M585.5 224v2M585.5 232v1M586.5 218v1M586.5 223v1M586.5 225v1M586.5 231v3M587.5 211v2M587.5 222v1M587.5 227v1M587.5 229v2M588.5 268v1M589.5 229v1M589.5 234v1M590.5 230v2M590.5 234v1M592.5 268v1M594.5 224v5M594.5 233v1M594.5 235v2M595.5 205v1M605.5 268v1M607.5 216v1M611.5 214v1M611.5 219v1M616.5 268v1M617.5 268v1M619.5 218v1M620.5 218v1M621.5 223v3M622.5 222v1M622.5 224v1M623.5 216v4M630.5 268v1M645.5 268v1M646.5 268v1M654.5 224v1M655.5 224v1M656.5 224v2M656.5 234v1M669.5 207v1M669.5 216v2M670.5 214v1M671.5 211v2M672.5 210v2M672.5 216v1M673.5 208v1M673.5 210v1M673.5 214v1M674.5 210v1M674.5 268v1M675.5 209v1M679.5 217v1M685.5 217v3M685.5 221v1M685.5 227v1M686.5 216v1M686.5 218v1M686.5 220v1M690.5 215v1M690.5 217v1M693.5 214v1M695.5 217v1"/><path stroke="#63ff00" d="M55.5 268v1M62.5 268v1M63.5 268v1M66.5 268v1M71.5 268v1M75.5 253v1M77.5 255v1M78.5 257v2M81.5 254v1M82.5 256v1M86.5 241v1M91.5 268v1M96.5 268v1M100.5 249v3M100.5 253v2M101.5 250v1M102.5 248v1M105.5 248v1M110.5 252v1M111.5 251v2M112.5 234v1M115.5 255v2M116.5 245v2M146.5 248v1M189.5 247v1M189.5 249v1M240.5 205v2M241.5 205v2M242.5 203v2M243.5 208v2M244.5 202v1M244.5 205v2M246.5 212v1M247.5 268v1M248.5 203v1M249.5 207v1M249.5 211v2M251.5 207v1M262.5 268v1M264.5 268v1M270.5 268v1M272.5 268v1M274.5 268v1M281.5 206v1M281.5 268v1M282.5 202v1M284.5 208v1M284.5 211v1M285.5 210v1M285.5 268v1M287.5 222v1M288.5 268v1M289.5 220v1M289.5 268v1M290.5 222v2M290.5 268v1M291.5 201v1M291.5 219v1M292.5 219v1M293.5 218v1M293.5 220v1M293.5 223v1M293.5 268v1M294.5 210v1M294.5 221v1M311.5 208v1M313.5 210v1M315.5 236v2M316.5 198v1M318.5 236v2M320.5 205v3M320.5 235v1M320.5 237v1M320.5 243v1M320.5 245v1M321.5 211v1M321.5 238v2M321.5 243v1M322.5 210v2M322.5 250v1M324.5 211v1M324.5 253v1M325.5 209v1M325.5 211v1M328.5 214v1M328.5 250v1M329.5 236v1M329.5 238v1M329.5 240v1M330.5 235v1M333.5 237v1M336.5 245v2M337.5 247v1M339.5 253v2M348.5 203v2M350.5 241v1M354.5 239v1M357.5 258v1M358.5 209v1M359.5 208v1M361.5 252v1M362.5 252v1M363.5 247v1M363.5 259v2M364.5 247v1M365.5 250v1M370.5 250v2M370.5 254v3M371.5 251v1M371.5 255v2M376.5 252v1M377.5 252v1M377.5 268v1M378.5 253v2M379.5 253v2M379.5 259v1M380.5 252v2M382.5 254v1M384.5 253v1M386.5 251v1M387.5 251v1M390.5 255v1M390.5 268v1M391.5 253v1M392.5 256v1M392.5 268v1M396.5 268v1M407.5 268v1M410.5 268v1M420.5 268v1M421.5 268v1M423.5 268v1M432.5 268v1M433.5 268v1M434.5 268v1M438.5 268v1M452.5 268v1M454.5 268v1M463.5 268v1M479.5 268v1M480.5 268v1M516.5 255v3M517.5 253v1M518.5 253v1M519.5 253v1M519.5 256v2M520.5 254v2M521.5 251v4M522.5 251v1M522.5 253v1M523.5 252v1M523.5 254v1M524.5 246v1M525.5 250v1M526.5 252v1M527.5 250v1M529.5 249v2M530.5 249v2M531.5 247v3M531.5 251v1M532.5 246v2M533.5 251v1M534.5 250v1M536.5 249v1M537.5 246v2M539.5 247v3M539.5 251v2M539.5 259v1M540.5 221v1M540.5 223v1M540.5 227v3M540.5 231v6M540.5 239v1M541.5 225v2M541.5 232v1M541.5 235v1M541.5 237v3M541.5 251v1M541.5 253v1M541.5 256v1M542.5 230v3M542.5 235v1M542.5 240v1M542.5 244v1M542.5 247v1M542.5 254v2M543.5 221v1M543.5 223v1M543.5 230v1M543.5 242v1M543.5 250v1M543.5 252v6M544.5 220v3M544.5 233v1M544.5 238v1M544.5 242v2M544.5 253v1M544.5 255v1M545.5 223v2M545.5 226v2M545.5 232v1M545.5 238v1M545.5 241v2M545.5 247v1M545.5 249v2M545.5 252v1M545.5 257v1M546.5 217v1M546.5 228v1M546.5 245v2M547.5 211v1M547.5 217v1M547.5 229v1M547.5 235v1M547.5 240v1M548.5 217v4M548.5 226v1M548.5 230v3M548.5 234v1M548.5 238v1M548.5 243v2M548.5 252v3M549.5 220v1M549.5 225v1M549.5 227v1M549.5 231v1M549.5 249v1M550.5 205v1M550.5 207v1M550.5 217v2M550.5 243v1M551.5 205v4M551.5 213v1M551.5 218v1M551.5 224v4M551.5 232v3M551.5 236v1M551.5 239v2M551.5 248v1M551.5 252v1M552.5 205v1M552.5 208v2M552.5 211v1M552.5 215v1M552.5 224v1M552.5 228v3M552.5 232v2M552.5 236v1M552.5 240v1M552.5 247v1M553.5 201v1M553.5 209v1M553.5 220v1M553.5 226v1M553.5 238v1M554.5 199v3M554.5 204v2M554.5 209v1M554.5 213v1M554.5 222v1M554.5 256v2M555.5 209v2M555.5 213v1M555.5 221v2M555.5 225v1M555.5 248v1M556.5 210v1M556.5 212v1M557.5 210v2M557.5 215v3M558.5 226v2M559.5 215v1M559.5 222v2M560.5 209v1M560.5 215v1M561.5 207v1M562.5 226v1M563.5 217v1M563.5 225v1M563.5 234v2M564.5 217v2M564.5 223v2M565.5 219v1M565.5 221v1M566.5 250v2M567.5 254v1M568.5 253v1M569.5 215v1M569.5 218v1M570.5 224v1M570.5 226v1M571.5 221v1M572.5 217v1M573.5 216v2M573.5 221v1M573.5 223v1M574.5 212v4M574.5 217v4M574.5 222v3M574.5 227v2M575.5 215v1M575.5 219v3M575.5 229v4M576.5 222v3M577.5 223v2M577.5 226v2M578.5 225v1M578.5 229v3M578.5 233v1M578.5 235v1M578.5 239v1M579.5 227v3M579.5 231v1M579.5 233v3M579.5 238v2M580.5 226v4M580.5 234v1M581.5 225v4M582.5 219v1M582.5 221v1M582.5 231v1M583.5 220v2M584.5 227v3M585.5 216v3M585.5 222v2M585.5 226v1M585.5 230v2M586.5 217v1M586.5 219v3M586.5 226v1M586.5 230v1M587.5 210v1M587.5 213v1M587.5 221v1M587.5 223v1M587.5 228v1M588.5 236v1M589.5 232v2M591.5 231v1M591.5 234v2M592.5 225v1M592.5 229v3M593.5 214v1M593.5 219v2M593.5 225v4M594.5 212v3M594.5 216v1M595.5 204v1M606.5 214v1M606.5 216v1M607.5 215v1M607.5 217v1M608.5 215v2M608.5 220v1M610.5 216v1M610.5 218v1M611.5 215v2M619.5 216v2M619.5 219v2M620.5 219v2M623.5 212v2M624.5 216v2M654.5 225v2M654.5 230v1M654.5 233v2M655.5 225v2M655.5 233v2M656.5 226v1M656.5 228v1M656.5 232v2M658.5 268v1M668.5 210v2M669.5 208v3M669.5 212v4M669.5 218v1M670.5 208v1M670.5 211v3M672.5 209v1M673.5 207v1M673.5 213v1M682.5 212v1M683.5 212v1M684.5 219v1M684.5 222v3M684.5 226v3M685.5 222v4M686.5 210v2M686.5 213v1M687.5 214v1M688.5 215v1M693.5 213v1M694.5 215v1M695.5 215v2M698.5 217v1M699.5 217v1"/><path stroke="#97ff00" d="M56.5 268v1M68.5 268v1M69.5 268v1M73.5 244v2M74.5 251v1M76.5 248v2M77.5 254v1M77.5 268v1M78.5 249v1M78.5 254v1M78.5 256v1M79.5 253v3M79.5 259v1M79.5 268v1M80.5 250v2M81.5 247v1M81.5 251v1M81.5 253v1M82.5 247v2M82.5 254v2M83.5 246v3M83.5 254v1M93.5 248v1M94.5 249v1M100.5 252v1M101.5 235v1M101.5 249v1M101.5 252v1M101.5 268v1M103.5 247v2M104.5 252v1M104.5 254v1M105.5 247v1M105.5 249v3M106.5 237v1M106.5 247v1M111.5 243v1M111.5 245v1M111.5 250v1M114.5 252v1M115.5 247v1M189.5 248v1M232.5 193v1M233.5 194v1M234.5 198v1M238.5 195v3M240.5 202v2M241.5 203v2M242.5 202v1M242.5 205v1M243.5 200v8M244.5 204v1M245.5 203v2M245.5 206v2M245.5 209v1M246.5 211v1M247.5 203v1M247.5 208v3M248.5 201v2M248.5 204v1M249.5 206v1M249.5 208v3M252.5 205v1M252.5 268v1M254.5 203v1M258.5 268v1M259.5 202v1M277.5 268v1M278.5 268v1M283.5 206v1M285.5 207v1M286.5 215v1M286.5 222v1M287.5 220v2M287.5 223v1M288.5 214v1M289.5 219v1M290.5 195v1M290.5 203v1M291.5 214v1M292.5 212v1M292.5 218v1M293.5 216v2M293.5 222v1M294.5 209v1M294.5 211v1M295.5 213v3M297.5 210v1M307.5 212v1M313.5 202v1M318.5 245v1M319.5 205v1M319.5 208v1M320.5 242v1M320.5 246v1M321.5 213v2M321.5 240v3M321.5 245v1M322.5 236v2M322.5 239v3M322.5 249v1M323.5 211v1M324.5 208v3M324.5 254v1M325.5 210v1M328.5 215v1M343.5 261v1M346.5 202v1M348.5 202v1M355.5 254v1M356.5 256v2M357.5 200v1M357.5 259v2M358.5 196v1M358.5 202v1M359.5 195v1M359.5 209v1M360.5 257v1M361.5 203v1M363.5 261v1M366.5 264v1M366.5 266v1M369.5 260v2M370.5 252v2M371.5 264v2M372.5 253v2M372.5 265v1M373.5 253v1M375.5 253v1M376.5 253v1M377.5 249v1M379.5 249v1M379.5 252v1M391.5 207v1M393.5 268v1M406.5 268v1M424.5 268v1M426.5 268v1M435.5 268v1M437.5 268v1M449.5 268v1M450.5 268v1M462.5 268v1M464.5 268v1M466.5 268v1M477.5 268v1M478.5 268v1M481.5 268v1M482.5 268v1M516.5 258v2M517.5 254v1M517.5 257v1M518.5 254v1M518.5 257v3M519.5 258v1M520.5 252v2M520.5 256v2M521.5 255v1M522.5 254v1M525.5 252v2M528.5 250v2M529.5 248v1M530.5 248v1M530.5 253v1M531.5 250v1M532.5 249v1M534.5 251v2M537.5 248v3M537.5 252v1M538.5 251v2M539.5 253v1M540.5 219v2M540.5 222v1M540.5 224v3M540.5 230v1M540.5 238v1M540.5 240v1M541.5 218v1M541.5 221v2M541.5 227v2M541.5 231v1M541.5 233v1M541.5 236v1M541.5 240v1M541.5 243v1M541.5 248v1M541.5 250v1M541.5 252v1M541.5 254v1M542.5 225v4M542.5 233v2M542.5 236v3M542.5 241v2M542.5 248v1M542.5 252v1M543.5 220v1M543.5 225v1M543.5 232v3M543.5 236v2M543.5 239v1M543.5 244v1M543.5 247v1M543.5 258v1M544.5 224v1M544.5 226v1M544.5 231v2M544.5 234v3M544.5 239v2M544.5 246v2M545.5 221v2M545.5 228v1M545.5 235v1M545.5 237v1M545.5 240v1M545.5 243v1M545.5 254v2M545.5 259v1M546.5 206v2M546.5 222v1M546.5 230v1M547.5 206v2M547.5 222v1M547.5 224v1M547.5 232v2M547.5 241v1M548.5 206v2M548.5 209v1M548.5 211v1M548.5 216v1M548.5 221v1M548.5 225v1M548.5 227v3M548.5 233v1M548.5 239v1M549.5 224v1M549.5 228v1M549.5 254v1M550.5 206v1M550.5 210v1M550.5 224v1M550.5 236v1M550.5 254v1M551.5 202v2M551.5 212v1M551.5 214v2M551.5 217v1M551.5 219v2M551.5 237v2M552.5 195v2M552.5 210v1M552.5 212v3M552.5 216v3M552.5 225v3M552.5 234v2M552.5 237v2M553.5 198v1M553.5 216v1M553.5 227v1M553.5 252v1M554.5 196v3M554.5 202v2M554.5 210v3M554.5 214v2M554.5 223v6M554.5 232v2M555.5 192v1M555.5 218v3M555.5 224v1M555.5 232v3M555.5 245v2M557.5 206v1M557.5 209v1M557.5 212v1M558.5 215v3M559.5 214v1M560.5 208v1M560.5 213v1M561.5 203v1M561.5 205v1M561.5 209v1M561.5 213v2M562.5 207v1M562.5 221v1M562.5 223v1M563.5 212v1M563.5 224v1M564.5 209v1M564.5 219v1M565.5 217v1M568.5 211v2M568.5 215v3M569.5 214v1M569.5 219v1M570.5 223v1M571.5 220v1M571.5 225v1M572.5 214v1M573.5 215v1M573.5 218v1M573.5 220v1M573.5 222v1M574.5 229v2M575.5 218v1M575.5 222v2M576.5 219v2M577.5 220v3M578.5 226v1M578.5 228v1M578.5 238v1M579.5 223v1M580.5 222v1M581.5 218v1M581.5 229v2M582.5 229v1M584.5 214v1M584.5 216v1M585.5 219v3M585.5 227v2M586.5 215v1M586.5 227v3M587.5 218v1M587.5 220v1M587.5 224v3M588.5 227v3M588.5 231v4M589.5 230v2M590.5 211v1M591.5 229v2M591.5 232v1M592.5 223v1M592.5 226v1M593.5 208v1M593.5 212v2M593.5 221v1M593.5 224v1M593.5 229v2M594.5 208v1M594.5 210v1M594.5 215v1M594.5 217v1M606.5 215v1M606.5 217v2M607.5 218v1M608.5 214v1M608.5 219v1M609.5 216v4M610.5 217v1M611.5 217v1M612.5 215v1M620.5 216v1M621.5 222v1M622.5 221v1M624.5 215v1M624.5 219v2M654.5 227v3M655.5 229v2M655.5 232v1M656.5 227v1M656.5 231v1M667.5 207v1M669.5 206v1M669.5 219v1M670.5 207v1M670.5 209v1M671.5 204v1M671.5 213v1M672.5 203v1M672.5 206v3M672.5 213v1M672.5 215v1M673.5 205v1M674.5 203v1M674.5 205v1M674.5 211v2M675.5 205v2M683.5 210v2M684.5 212v2M684.5 217v1M685.5 210v1M685.5 212v1M687.5 211v3M688.5 213v1M690.5 213v1M691.5 211v1M691.5 218v4M692.5 213v1M693.5 212v1M695.5 214v1M696.5 217v1M696.5 219v2M697.5 214v1M697.5 216v2"/><path stroke="#cbff00" d="M70.5 268v1M72.5 268v1M74.5 250v1M75.5 239v1M75.5 268v1M76.5 246v1M76.5 268v1M77.5 245v1M78.5 246v1M78.5 253v1M79.5 248v1M79.5 250v1M79.5 256v3M79.5 260v1M80.5 238v2M80.5 247v1M80.5 253v1M80.5 255v3M81.5 238v1M81.5 250v1M81.5 252v1M82.5 243v1M82.5 249v3M83.5 245v1M83.5 249v1M83.5 252v2M83.5 268v1M84.5 248v1M84.5 268v1M86.5 268v1M89.5 247v1M92.5 247v1M92.5 249v1M92.5 268v1M93.5 239v1M93.5 247v1M94.5 247v2M95.5 244v1M98.5 268v1M99.5 251v1M100.5 238v1M100.5 246v2M100.5 268v1M102.5 249v2M103.5 268v1M104.5 248v2M104.5 255v1M105.5 234v2M105.5 252v3M106.5 234v1M107.5 252v1M108.5 241v1M110.5 238v1M111.5 240v1M112.5 247v1M112.5 251v2M113.5 252v1M114.5 250v2M114.5 253v3M115.5 253v1M116.5 244v1M117.5 243v1M117.5 248v2M232.5 191v2M233.5 192v1M233.5 195v1M235.5 195v1M239.5 199v1M240.5 200v2M240.5 268v1M241.5 198v1M241.5 202v1M241.5 268v1M242.5 268v1M243.5 198v2M244.5 200v1M244.5 268v1M245.5 197v2M245.5 202v1M245.5 205v1M246.5 209v2M247.5 202v1M248.5 199v2M248.5 207v2M248.5 210v2M249.5 201v1M250.5 207v1M250.5 209v1M251.5 205v2M252.5 206v3M253.5 200v1M253.5 204v1M253.5 206v2M254.5 202v1M255.5 206v2M256.5 204v1M258.5 203v1M261.5 202v3M262.5 203v1M263.5 204v1M265.5 268v1M266.5 268v1M268.5 268v1M279.5 268v1M280.5 268v1M282.5 268v1M283.5 202v1M284.5 207v1M285.5 205v2M285.5 208v1M286.5 214v1M286.5 216v1M286.5 218v1M286.5 268v1M287.5 214v1M287.5 219v1M288.5 210v2M289.5 202v1M290.5 194v1M290.5 202v1M290.5 220v2M291.5 212v1M291.5 215v1M292.5 201v1M292.5 211v1M292.5 217v1M293.5 203v1M293.5 211v1M293.5 219v1M293.5 221v1M294.5 208v1M294.5 212v1M294.5 268v1M295.5 206v1M295.5 212v1M296.5 205v2M296.5 208v1M296.5 211v1M297.5 208v1M298.5 207v1M311.5 203v1M312.5 209v1M313.5 203v1M317.5 199v1M317.5 204v1M318.5 240v2M318.5 252v2M318.5 255v1M319.5 198v2M319.5 238v3M319.5 242v2M319.5 246v2M320.5 198v1M320.5 238v4M321.5 208v1M322.5 243v1M324.5 203v1M326.5 210v1M328.5 212v1M328.5 216v1M334.5 202v1M337.5 201v1M342.5 266v1M348.5 260v2M348.5 263v2M349.5 249v3M349.5 253v1M351.5 244v1M354.5 251v1M356.5 199v1M356.5 258v1M357.5 196v1M357.5 256v1M358.5 201v1M358.5 203v1M358.5 208v1M358.5 260v3M359.5 203v1M359.5 205v1M359.5 207v1M359.5 261v3M359.5 265v2M360.5 196v2M360.5 258v2M361.5 258v1M363.5 262v2M364.5 263v1M366.5 265v1M366.5 267v1M367.5 264v4M370.5 264v1M371.5 266v1M372.5 264v1M372.5 266v1M374.5 253v1M377.5 253v2M379.5 251v1M381.5 268v1M382.5 268v1M394.5 268v1M408.5 268v1M517.5 255v2M518.5 255v1M520.5 258v1M521.5 259v1M525.5 251v1M525.5 254v1M526.5 254v1M527.5 254v1M532.5 248v1M532.5 250v2M533.5 252v1M536.5 250v2M537.5 253v1M538.5 247v1M538.5 253v1M540.5 218v1M541.5 219v1M541.5 229v2M542.5 229v1M543.5 224v1M543.5 238v1M543.5 240v1M543.5 245v2M544.5 212v1M544.5 218v2M544.5 225v1M544.5 227v4M545.5 215v6M545.5 229v3M545.5 239v1M546.5 204v2M546.5 214v1M546.5 221v1M547.5 205v1M547.5 209v2M547.5 212v2M547.5 234v1M548.5 208v1M548.5 210v1M548.5 212v2M548.5 215v1M549.5 202v1M549.5 204v2M549.5 236v1M550.5 253v1M550.5 255v1M551.5 204v1M551.5 216v1M552.5 192v3M552.5 199v2M552.5 204v1M552.5 219v2M553.5 191v2M554.5 192v1M554.5 195v1M554.5 216v1M555.5 191v1M555.5 193v1M555.5 195v1M555.5 200v1M555.5 202v3M555.5 207v2M555.5 247v1M556.5 203v2M556.5 209v1M557.5 205v1M557.5 207v1M559.5 211v3M560.5 197v1M560.5 204v1M560.5 207v1M560.5 210v3M561.5 204v1M561.5 208v1M561.5 210v3M562.5 200v1M562.5 209v1M562.5 213v2M562.5 220v1M562.5 222v1M563.5 202v1M563.5 209v3M563.5 213v1M563.5 216v1M563.5 219v1M563.5 222v1M564.5 208v1M564.5 210v2M564.5 213v1M564.5 215v2M564.5 222v1M565.5 213v1M565.5 215v2M566.5 249v1M568.5 210v1M568.5 213v2M568.5 218v1M568.5 220v1M569.5 209v1M569.5 211v1M570.5 210v2M570.5 215v2M570.5 218v1M570.5 220v1M570.5 222v1M570.5 225v1M571.5 215v2M571.5 219v1M573.5 212v3M573.5 219v1M574.5 210v2M575.5 217v1M576.5 216v1M576.5 218v1M577.5 219v1M578.5 219v1M578.5 227v1M583.5 218v2M584.5 215v1M584.5 218v1M585.5 214v2M585.5 229v1M586.5 204v2M586.5 214v1M587.5 208v2M587.5 214v1M587.5 217v1M588.5 226v1M591.5 204v1M591.5 218v1M591.5 226v1M591.5 233v1M592.5 232v1M593.5 209v3M593.5 215v1M593.5 218v1M593.5 223v1M594.5 209v1M594.5 211v1M595.5 203v1M597.5 206v1M601.5 206v1M617.5 213v2M618.5 212v2M619.5 215v1M621.5 221v1M622.5 214v1M622.5 216v1M622.5 218v2M624.5 213v2M652.5 194v1M653.5 194v1M653.5 196v1M656.5 197v1M656.5 201v1M657.5 198v1M657.5 201v1M659.5 196v2M659.5 201v1M664.5 197v1M664.5 203v1M665.5 203v1M668.5 205v1M668.5 208v1M670.5 206v1M671.5 205v2M671.5 209v1M672.5 205v1M673.5 206v1M674.5 201v2M675.5 203v2M682.5 208v1M682.5 210v1M684.5 210v1M684.5 214v2M685.5 213v1M685.5 215v1M686.5 209v1M687.5 210v1M688.5 212v1M688.5 214v1M690.5 211v1M690.5 214v1M691.5 212v6M692.5 211v2M695.5 213v1M696.5 214v1M696.5 216v1M696.5 218v1M697.5 219v1M699.5 214v2"/><path stroke="#ffff00" d="M57.5 268v1M59.5 268v1M60.5 268v1M73.5 242v2M74.5 268v1M75.5 235v2M75.5 238v1M80.5 237v1M80.5 241v1M80.5 246v1M80.5 252v1M80.5 254v1M81.5 237v1M81.5 239v1M81.5 245v1M82.5 240v2M82.5 244v2M83.5 240v1M83.5 250v2M84.5 246v2M84.5 249v2M92.5 246v1M93.5 246v1M94.5 246v1M99.5 243v1M99.5 249v2M101.5 236v3M101.5 244v1M101.5 255v1M102.5 238v1M103.5 237v1M104.5 237v1M104.5 250v1M105.5 244v1M107.5 234v1M107.5 253v1M110.5 242v2M111.5 249v1M112.5 246v1M112.5 250v1M113.5 238v1M113.5 248v1M113.5 251v1M114.5 238v2M114.5 244v1M115.5 248v2M116.5 239v2M116.5 242v2M116.5 248v2M117.5 239v1M117.5 242v1M117.5 244v1M117.5 247v1M117.5 251v2M232.5 189v2M233.5 190v2M233.5 193v1M234.5 194v2M234.5 197v1M235.5 191v4M235.5 196v2M236.5 194v3M236.5 198v2M237.5 195v5M238.5 190v3M238.5 194v1M239.5 197v1M240.5 198v1M241.5 196v2M241.5 201v1M242.5 194v1M242.5 198v4M243.5 196v2M244.5 197v3M245.5 196v1M246.5 197v1M246.5 202v3M246.5 207v2M247.5 196v4M247.5 201v1M247.5 204v1M247.5 207v1M247.5 211v1M248.5 205v2M248.5 209v1M249.5 198v1M249.5 202v1M249.5 205v1M250.5 201v2M250.5 205v2M250.5 208v1M251.5 201v2M251.5 204v1M251.5 268v1M252.5 204v1M253.5 199v1M253.5 201v1M253.5 268v1M254.5 200v2M255.5 205v1M259.5 201v1M261.5 201v1M262.5 202v1M263.5 203v1M281.5 205v1M283.5 268v1M286.5 217v1M286.5 220v2M287.5 215v2M288.5 209v1M288.5 212v2M288.5 215v3M289.5 212v1M289.5 214v2M289.5 218v1M291.5 202v2M291.5 213v1M291.5 216v1M291.5 218v1M292.5 195v1M292.5 213v1M294.5 215v1M298.5 208v1M299.5 200v1M299.5 208v1M305.5 211v1M305.5 213v1M306.5 212v1M310.5 204v1M311.5 201v2M311.5 209v1M313.5 201v1M317.5 195v1M317.5 197v1M317.5 203v1M318.5 205v1M318.5 207v2M318.5 248v4M318.5 254v1M318.5 260v1M319.5 197v1M319.5 241v1M319.5 264v1M319.5 266v1M320.5 197v1M320.5 199v1M320.5 208v1M320.5 253v1M321.5 267v1M322.5 209v1M322.5 212v1M323.5 186v1M323.5 208v1M323.5 210v1M324.5 202v1M324.5 204v1M325.5 254v2M326.5 252v1M327.5 206v1M327.5 252v1M329.5 212v2M330.5 258v1M331.5 259v1M332.5 201v1M333.5 259v2M335.5 197v1M344.5 260v1M345.5 196v3M345.5 261v1M348.5 265v1M348.5 267v1M349.5 252v1M349.5 254v1M350.5 190v1M351.5 243v1M351.5 245v1M356.5 259v1M356.5 267v1M357.5 199v1M358.5 195v1M358.5 197v1M358.5 204v1M358.5 263v1M359.5 202v1M359.5 204v1M359.5 206v1M359.5 267v1M360.5 195v1M360.5 198v2M360.5 201v1M360.5 203v1M361.5 259v2M362.5 261v4M363.5 264v1M364.5 265v1M365.5 263v2M365.5 266v2M368.5 260v1M368.5 262v1M369.5 262v1M370.5 265v2M371.5 267v1M376.5 254v1M379.5 250v1M380.5 268v1M384.5 250v1M390.5 210v2M391.5 203v1M393.5 202v1M518.5 256v1M521.5 258v1M522.5 255v1M523.5 255v1M524.5 251v4M525.5 256v3M529.5 252v1M530.5 254v2M532.5 256v1M534.5 253v1M538.5 248v2M539.5 254v1M541.5 220v1M541.5 241v2M543.5 226v1M543.5 229v1M544.5 213v3M544.5 217v1M545.5 210v2M545.5 214v1M545.5 236v1M545.5 245v2M546.5 210v1M546.5 256v2M547.5 208v1M547.5 246v1M547.5 259v1M548.5 205v1M548.5 214v1M548.5 222v3M549.5 203v1M549.5 237v1M549.5 246v1M550.5 227v1M550.5 234v1M550.5 238v1M552.5 197v2M552.5 201v1M552.5 203v1M553.5 193v1M553.5 195v1M553.5 230v1M553.5 247v1M553.5 249v1M554.5 193v2M555.5 190v1M555.5 199v1M555.5 201v1M555.5 205v1M556.5 200v1M556.5 202v1M556.5 208v1M557.5 200v1M557.5 204v1M557.5 208v1M558.5 213v2M559.5 208v3M560.5 205v2M561.5 199v2M561.5 202v1M562.5 198v2M562.5 206v1M562.5 210v1M562.5 215v1M563.5 201v1M563.5 203v1M563.5 208v1M563.5 214v2M563.5 220v1M564.5 203v1M564.5 205v1M564.5 207v1M564.5 214v1M564.5 220v2M565.5 209v1M565.5 211v2M565.5 214v1M566.5 211v1M566.5 213v1M566.5 217v2M567.5 217v1M567.5 222v1M568.5 206v4M568.5 219v1M569.5 208v1M569.5 212v2M570.5 209v1M570.5 213v2M570.5 217v1M570.5 219v1M570.5 221v1M571.5 217v2M571.5 222v2M572.5 213v1M573.5 211v1M574.5 209v1M575.5 211v1M575.5 216v1M576.5 217v1M580.5 218v1M582.5 206v1M582.5 214v1M583.5 217v1M584.5 203v1M584.5 213v1M584.5 217v1M585.5 203v1M585.5 213v1M586.5 200v1M586.5 206v1M586.5 210v2M586.5 213v1M587.5 200v1M587.5 202v1M587.5 204v2M588.5 225v1M588.5 230v1M589.5 202v1M590.5 190v2M592.5 204v1M592.5 227v2M593.5 204v4M593.5 216v2M593.5 222v1M594.5 199v1M594.5 203v2M594.5 207v1M595.5 200v2M597.5 205v1M601.5 205v1M602.5 206v1M605.5 206v1M609.5 206v1M609.5 214v1M610.5 209v1M611.5 208v1M618.5 215v1M619.5 213v1M620.5 214v2M621.5 217v1M621.5 219v1M622.5 213v1M622.5 215v1M652.5 195v1M656.5 196v1M656.5 199v2M657.5 197v1M657.5 199v1M658.5 197v1M659.5 195v1M659.5 198v2M660.5 197v1M660.5 199v1M661.5 201v1M664.5 198v2M664.5 202v1M665.5 202v1M666.5 202v2M667.5 200v2M667.5 204v1M667.5 206v1M668.5 200v2M668.5 203v2M668.5 206v2M669.5 200v2M670.5 199v1M670.5 201v1M670.5 203v3M671.5 208v1M680.5 207v1M683.5 208v2M685.5 209v1M685.5 214v1M687.5 209v1M688.5 211v1M689.5 211v1M693.5 210v2M694.5 210v1M694.5 212v1M695.5 212v1M697.5 218v1M698.5 214v1"/><path stroke="#ffe300" d="M58.5 268v1M74.5 237v1M74.5 239v1M75.5 237v1M80.5 235v2M83.5 241v3M84.5 244v1M84.5 251v1M85.5 268v1M87.5 268v1M89.5 268v1M91.5 247v1M92.5 238v1M92.5 240v1M92.5 244v1M92.5 250v1M93.5 245v1M94.5 244v2M98.5 241v3M98.5 245v1M98.5 247v2M99.5 248v1M101.5 254v1M102.5 237v1M102.5 246v1M102.5 268v1M103.5 235v1M103.5 239v1M103.5 241v1M103.5 246v1M104.5 234v2M106.5 248v1M108.5 235v1M110.5 251v1M111.5 237v1M112.5 243v1M113.5 235v1M114.5 237v1M114.5 240v1M114.5 247v2M115.5 244v1M115.5 251v2M116.5 237v1M116.5 241v1M116.5 250v1M117.5 240v2M117.5 245v2M117.5 250v1M234.5 190v4M234.5 196v1M235.5 190v1M236.5 193v1M236.5 197v1M237.5 190v5M237.5 200v1M238.5 193v1M239.5 192v3M239.5 198v1M240.5 193v2M240.5 197v1M241.5 194v2M241.5 199v2M242.5 195v3M244.5 196v1M245.5 199v1M245.5 201v1M246.5 195v2M246.5 198v2M246.5 201v1M246.5 205v2M247.5 200v1M247.5 206v1M248.5 196v3M249.5 196v2M249.5 199v1M249.5 203v1M250.5 200v1M251.5 200v1M252.5 201v1M252.5 203v1M253.5 202v2M255.5 199v1M255.5 201v1M255.5 204v1M256.5 202v2M256.5 268v1M257.5 193v1M257.5 268v1M258.5 202v1M259.5 199v2M260.5 201v1M262.5 201v1M263.5 201v2M269.5 268v1M271.5 268v1M280.5 191v1M283.5 201v1M283.5 203v1M283.5 205v1M284.5 203v2M284.5 206v1M287.5 218v1M289.5 195v2M289.5 207v2M289.5 213v1M289.5 216v2M290.5 196v1M290.5 201v1M290.5 204v1M290.5 214v1M290.5 216v1M290.5 219v1M291.5 195v2M291.5 204v1M291.5 211v1M292.5 202v1M292.5 205v1M292.5 210v1M293.5 213v1M294.5 213v1M295.5 211v1M296.5 203v1M299.5 199v1M300.5 207v1M300.5 215v1M304.5 199v2M304.5 211v1M305.5 203v1M305.5 205v1M305.5 210v1M305.5 212v1M306.5 204v1M307.5 202v1M307.5 204v2M307.5 211v1M310.5 197v4M310.5 203v1M311.5 199v2M312.5 201v1M313.5 209v1M316.5 199v2M317.5 198v1M318.5 196v2M318.5 206v1M318.5 247v1M318.5 256v1M318.5 259v1M318.5 262v1M318.5 266v2M319.5 250v1M320.5 266v1M321.5 207v1M322.5 202v1M322.5 251v1M323.5 203v1M323.5 209v1M323.5 247v3M323.5 251v1M323.5 253v1M324.5 252v1M325.5 256v2M326.5 255v1M326.5 257v1M331.5 260v1M331.5 266v1M332.5 199v2M332.5 258v1M333.5 192v2M333.5 198v2M334.5 193v1M334.5 195v1M335.5 198v3M335.5 207v1M338.5 195v1M345.5 262v1M347.5 266v2M348.5 266v1M349.5 193v1M349.5 259v1M349.5 262v5M350.5 191v1M350.5 242v2M350.5 257v3M351.5 198v1M351.5 200v1M351.5 261v1M351.5 267v1M357.5 195v1M357.5 198v1M359.5 194v1M359.5 200v1M360.5 200v1M360.5 202v1M360.5 204v2M360.5 209v1M360.5 260v6M361.5 261v4M361.5 266v2M363.5 265v3M364.5 266v2M365.5 265v1M368.5 261v1M368.5 263v4M369.5 263v2M370.5 267v1M388.5 254v1M393.5 201v1M433.5 177v1M434.5 183v1M515.5 188v1M516.5 188v1M520.5 259v1M521.5 256v2M524.5 255v1M525.5 255v1M528.5 252v3M529.5 253v3M530.5 256v1M531.5 256v1M532.5 252v1M535.5 250v1M535.5 252v2M536.5 252v1M537.5 254v1M537.5 256v1M538.5 255v2M543.5 227v2M544.5 216v1M545.5 213v1M546.5 208v2M546.5 213v1M546.5 224v1M546.5 226v1M546.5 234v1M546.5 242v1M546.5 244v1M546.5 258v1M547.5 248v1M547.5 255v1M547.5 258v1M549.5 217v1M549.5 234v1M549.5 239v1M549.5 244v1M550.5 204v1M550.5 214v3M550.5 221v1M550.5 228v2M550.5 231v2M550.5 240v1M550.5 245v1M550.5 247v4M551.5 194v2M551.5 200v2M552.5 202v1M553.5 194v1M553.5 218v1M553.5 229v1M553.5 235v2M555.5 189v1M555.5 194v1M555.5 196v1M555.5 198v1M555.5 206v1M556.5 193v1M556.5 201v1M556.5 207v1M557.5 198v2M557.5 201v1M558.5 200v2M558.5 209v3M559.5 196v1M559.5 204v2M560.5 198v6M561.5 198v1M561.5 201v1M562.5 202v3M562.5 211v2M562.5 216v1M562.5 218v2M563.5 204v2M563.5 207v1M564.5 201v2M564.5 204v1M564.5 206v1M565.5 207v2M565.5 210v1M566.5 214v3M566.5 219v3M567.5 211v2M567.5 215v2M567.5 218v1M567.5 220v2M569.5 205v2M570.5 212v1M571.5 214v1M571.5 224v1M573.5 210v1M574.5 208v1M577.5 201v1M578.5 197v1M585.5 197v1M585.5 201v1M585.5 206v1M585.5 210v3M586.5 195v1M586.5 199v1M586.5 202v1M586.5 212v1M587.5 198v2M587.5 201v1M587.5 207v1M587.5 216v1M591.5 191v1M592.5 202v1M593.5 203v1M594.5 192v1M594.5 200v3M594.5 205v2M595.5 199v1M597.5 202v1M597.5 204v1M598.5 201v2M599.5 202v1M600.5 205v2M602.5 204v1M603.5 206v1M606.5 205v2M607.5 208v1M608.5 206v2M609.5 207v1M614.5 209v2M616.5 214v1M621.5 215v1M621.5 220v1M648.5 188v2M648.5 193v1M649.5 190v1M651.5 193v1M656.5 195v1M657.5 196v1M658.5 196v1M658.5 198v1M661.5 197v1M661.5 199v1M661.5 202v1M662.5 202v1M663.5 200v1M664.5 200v1M665.5 199v3M668.5 202v1M669.5 202v1M669.5 205v1M671.5 200v2M676.5 205v1M678.5 207v2M680.5 205v1M683.5 206v2M684.5 208v2M685.5 208v1M687.5 191v1M689.5 209v1M690.5 209v1M691.5 209v1M694.5 211v1M695.5 211v1M696.5 213v1"/><path stroke="#ffc800" d="M69.5 243v1M70.5 244v1M73.5 240v2M74.5 247v1M80.5 249v1M88.5 268v1M90.5 247v1M92.5 239v1M93.5 242v1M94.5 242v2M98.5 235v5M98.5 246v1M99.5 238v1M100.5 245v1M102.5 243v1M103.5 234v1M106.5 246v1M106.5 249v1M107.5 247v1M109.5 243v1M111.5 233v2M111.5 236v1M111.5 246v3M113.5 236v2M114.5 236v1M114.5 241v1M114.5 243v1M115.5 239v3M115.5 250v1M116.5 238v1M233.5 184v1M236.5 192v1M239.5 196v1M240.5 195v1M243.5 188v1M243.5 195v1M244.5 188v1M245.5 195v1M245.5 200v1M246.5 194v1M247.5 195v1M247.5 205v1M249.5 204v1M250.5 190v1M250.5 198v2M250.5 203v2M251.5 199v1M252.5 199v2M252.5 202v1M254.5 199v1M255.5 200v1M255.5 202v2M255.5 268v1M256.5 200v2M257.5 192v1M257.5 201v1M258.5 201v1M262.5 200v1M267.5 268v1M275.5 193v1M282.5 201v1M283.5 200v1M283.5 204v1M284.5 200v1M284.5 268v1M285.5 203v2M286.5 209v1M287.5 213v1M287.5 217v1M288.5 195v1M288.5 208v1M289.5 209v3M290.5 211v3M290.5 217v2M291.5 210v1M292.5 196v1M292.5 204v1M292.5 209v1M293.5 194v1M293.5 207v1M294.5 214v1M295.5 198v1M295.5 204v1M295.5 208v1M296.5 209v1M300.5 199v3M300.5 214v1M301.5 213v1M302.5 210v3M303.5 201v1M303.5 203v1M305.5 204v1M305.5 209v1M306.5 203v1M306.5 205v1M307.5 201v1M307.5 203v1M310.5 195v1M310.5 202v1M311.5 198v1M314.5 201v1M314.5 206v1M315.5 198v1M316.5 201v1M317.5 196v1M318.5 195v1M318.5 199v1M318.5 257v1M318.5 263v3M319.5 248v2M319.5 251v1M319.5 267v1M320.5 196v1M320.5 247v5M320.5 267v1M321.5 190v3M321.5 249v3M322.5 252v1M323.5 183v3M323.5 252v1M324.5 201v1M324.5 251v1M324.5 255v1M325.5 205v1M325.5 253v1M325.5 258v2M325.5 261v1M326.5 254v1M327.5 204v1M327.5 207v1M328.5 211v1M328.5 258v1M329.5 211v1M329.5 257v1M330.5 260v2M331.5 193v1M331.5 195v1M332.5 196v1M332.5 198v1M332.5 262v1M334.5 191v2M334.5 194v1M335.5 196v1M335.5 201v2M335.5 204v3M336.5 260v1M337.5 200v1M346.5 201v1M346.5 261v1M348.5 198v1M349.5 198v1M349.5 260v2M349.5 267v1M350.5 192v2M350.5 260v1M350.5 266v2M351.5 194v1M351.5 196v1M351.5 199v1M351.5 262v1M352.5 194v1M356.5 193v1M356.5 198v1M358.5 200v1M359.5 193v1M360.5 206v2M360.5 267v1M361.5 192v1M361.5 265v1M362.5 198v1M362.5 265v3M369.5 174v2M369.5 265v3M372.5 175v1M375.5 249v2M381.5 253v1M383.5 250v1M385.5 250v1M388.5 253v1M389.5 255v1M392.5 202v1M420.5 162v1M422.5 179v2M432.5 172v1M432.5 176v1M433.5 173v4M433.5 178v1M434.5 167v1M434.5 174v1M434.5 182v1M436.5 167v1M462.5 183v1M463.5 170v1M463.5 181v1M464.5 180v1M465.5 175v2M465.5 184v1M465.5 186v1M467.5 183v1M469.5 180v1M469.5 187v2M470.5 174v2M470.5 179v1M471.5 182v1M496.5 189v3M497.5 187v6M497.5 194v1M498.5 188v5M498.5 194v1M499.5 189v6M511.5 182v2M511.5 189v1M512.5 181v3M513.5 186v1M513.5 188v1M514.5 175v1M514.5 180v1M514.5 184v1M514.5 186v1M514.5 188v1M516.5 177v2M516.5 181v1M516.5 187v1M520.5 179v3M521.5 188v2M523.5 190v1M523.5 256v2M524.5 256v2M526.5 255v2M526.5 258v1M527.5 255v1M529.5 256v1M530.5 257v1M531.5 252v1M531.5 255v1M532.5 257v2M533.5 253v1M533.5 256v1M534.5 254v1M534.5 256v2M535.5 251v1M535.5 255v1M536.5 253v1M536.5 257v1M538.5 257v1M539.5 255v1M545.5 212v1M546.5 211v2M546.5 223v1M546.5 227v1M546.5 231v2M546.5 236v1M546.5 238v1M546.5 251v2M546.5 259v1M547.5 218v2M547.5 236v1M547.5 244v1M547.5 251v1M547.5 256v1M548.5 193v1M549.5 214v2M549.5 219v1M549.5 221v1M549.5 233v1M549.5 240v2M549.5 252v1M550.5 208v2M550.5 211v3M550.5 219v2M550.5 222v2M550.5 230v1M550.5 244v1M550.5 251v1M551.5 196v1M551.5 199v1M553.5 200v1M553.5 205v2M553.5 213v2M553.5 221v1M553.5 223v3M553.5 237v1M553.5 242v3M553.5 250v1M553.5 253v2M555.5 197v1M556.5 195v2M556.5 198v2M556.5 205v2M557.5 195v3M557.5 202v1M558.5 199v1M558.5 206v2M558.5 212v1M559.5 197v2M559.5 203v1M559.5 206v1M561.5 197v1M562.5 201v1M562.5 217v1M563.5 200v1M563.5 206v1M565.5 204v3M566.5 204v4M566.5 209v2M567.5 210v1M567.5 213v1M570.5 208v1M571.5 207v4M571.5 213v1M572.5 208v4M579.5 194v2M583.5 203v1M584.5 199v1M585.5 196v1M585.5 200v1M586.5 196v3M586.5 208v1M587.5 196v2M588.5 203v1M591.5 189v2M593.5 202v1M596.5 202v1M598.5 203v1M599.5 204v1M602.5 203v1M604.5 206v1M615.5 215v1M616.5 213v1M648.5 190v1M648.5 194v2M649.5 194v1M650.5 194v1M653.5 181v1M654.5 194v1M655.5 195v1M657.5 195v1M661.5 198v1M662.5 199v3M666.5 200v2M667.5 202v1M669.5 203v2M680.5 206v1M682.5 205v1M684.5 207v1M685.5 207v1M688.5 209v1M690.5 207v2M691.5 207v2M696.5 212v1"/><path stroke="#ffad00" d="M69.5 244v1M70.5 243v1M76.5 254v2M77.5 243v2M78.5 247v1M79.5 251v1M91.5 246v1M98.5 240v1M99.5 237v1M100.5 240v1M100.5 244v1M101.5 245v1M103.5 233v1M103.5 244v2M104.5 247v1M106.5 250v1M107.5 248v1M107.5 250v1M108.5 243v1M110.5 250v1M111.5 235v1M113.5 245v3M114.5 242v1M233.5 185v1M233.5 189v1M234.5 184v1M236.5 191v1M238.5 183v1M239.5 184v1M240.5 196v1M244.5 187v1M244.5 195v1M245.5 188v1M246.5 189v1M246.5 200v1M250.5 191v1M250.5 197v1M251.5 198v1M252.5 197v1M257.5 194v1M257.5 200v1M258.5 193v1M258.5 199v2M265.5 194v1M275.5 194v1M276.5 193v1M281.5 204v1M282.5 193v1M283.5 194v1M284.5 201v1M284.5 205v1M286.5 211v2M287.5 208v5M290.5 208v3M292.5 194v1M292.5 208v1M293.5 196v1M293.5 206v1M295.5 210v1M296.5 198v1M299.5 197v2M300.5 203v1M300.5 208v1M300.5 210v1M300.5 213v1M301.5 198v2M301.5 210v1M303.5 202v1M303.5 211v1M304.5 203v3M305.5 202v1M306.5 202v1M307.5 200v1M308.5 203v1M309.5 202v2M310.5 196v1M310.5 201v1M311.5 197v1M312.5 200v1M312.5 202v1M313.5 198v3M313.5 208v1M314.5 200v1M315.5 206v2M317.5 200v2M318.5 198v1M318.5 201v1M319.5 195v1M320.5 188v1M321.5 198v1M321.5 248v1M322.5 208v1M322.5 255v2M322.5 267v1M323.5 202v1M323.5 250v1M323.5 257v2M324.5 200v1M324.5 258v1M324.5 262v2M324.5 266v2M325.5 204v1M325.5 252v1M325.5 262v1M325.5 264v2M326.5 204v1M327.5 183v2M327.5 202v1M327.5 205v1M327.5 257v1M327.5 267v1M329.5 263v2M330.5 262v1M331.5 263v1M332.5 193v1M332.5 195v1M332.5 197v1M333.5 195v1M333.5 197v1M334.5 198v1M334.5 201v1M334.5 260v1M335.5 188v2M335.5 203v1M335.5 260v2M336.5 199v2M336.5 203v1M337.5 194v1M337.5 199v1M337.5 261v1M338.5 194v1M346.5 262v1M347.5 261v1M348.5 201v1M350.5 261v2M351.5 190v1M351.5 193v1M351.5 195v1M351.5 197v1M351.5 263v1M351.5 266v1M352.5 265v2M356.5 192v1M356.5 197v1M357.5 194v1M358.5 198v1M361.5 191v1M361.5 199v1M361.5 202v1M362.5 194v1M362.5 196v2M375.5 157v1M381.5 250v1M382.5 253v1M385.5 252v1M387.5 254v1M390.5 209v1M390.5 251v1M391.5 204v1M391.5 206v1M393.5 200v1M421.5 178v2M422.5 177v1M422.5 181v1M423.5 170v1M423.5 181v1M424.5 180v2M425.5 177v1M425.5 182v1M426.5 180v3M427.5 179v1M427.5 181v1M428.5 177v3M428.5 181v1M432.5 165v1M432.5 171v1M432.5 173v2M432.5 177v1M433.5 167v1M433.5 179v1M434.5 166v1M434.5 168v1M434.5 172v2M434.5 177v1M434.5 179v3M435.5 178v3M436.5 166v1M436.5 168v1M441.5 172v3M448.5 173v2M461.5 176v2M461.5 181v3M462.5 171v2M462.5 179v1M462.5 184v1M463.5 171v2M463.5 180v1M463.5 184v1M464.5 179v1M464.5 181v1M464.5 183v2M464.5 186v1M465.5 170v1M465.5 174v1M465.5 180v4M466.5 174v1M466.5 186v1M467.5 172v1M467.5 177v3M467.5 182v1M467.5 184v1M467.5 186v1M467.5 189v1M468.5 178v2M468.5 182v1M468.5 186v1M468.5 189v1M469.5 176v2M469.5 179v1M469.5 184v1M469.5 186v1M470.5 173v1M470.5 177v1M470.5 181v2M471.5 171v1M471.5 176v2M471.5 181v1M471.5 183v1M487.5 167v3M488.5 167v1M496.5 161v2M496.5 188v1M496.5 192v1M497.5 193v1M497.5 195v1M498.5 193v1M498.5 195v1M499.5 188v1M499.5 195v1M500.5 168v3M507.5 165v2M508.5 166v3M509.5 177v1M510.5 177v2M511.5 181v1M511.5 184v1M511.5 188v1M512.5 177v1M512.5 180v1M512.5 184v1M512.5 189v1M513.5 179v4M513.5 184v2M513.5 187v1M513.5 189v1M514.5 179v1M514.5 181v2M514.5 185v1M514.5 187v1M514.5 189v2M515.5 176v6M515.5 186v1M516.5 180v1M516.5 182v1M516.5 184v3M520.5 178v1M520.5 182v1M520.5 184v3M520.5 189v1M521.5 179v1M521.5 181v1M521.5 184v4M522.5 256v1M522.5 258v1M523.5 187v3M523.5 191v1M523.5 258v1M524.5 258v2M528.5 255v1M530.5 258v1M531.5 253v2M531.5 257v3M533.5 255v1M534.5 255v1M535.5 256v4M536.5 255v1M536.5 258v2M538.5 258v1M546.5 215v2M546.5 239v2M546.5 247v1M546.5 254v2M547.5 227v1M547.5 230v2M547.5 238v2M547.5 253v1M548.5 195v2M549.5 206v2M549.5 212v2M549.5 218v1M549.5 222v2M549.5 230v1M549.5 242v1M550.5 225v2M550.5 242v1M551.5 193v1M551.5 197v1M553.5 197v1M553.5 199v1M553.5 202v3M553.5 207v2M553.5 210v1M553.5 215v1M553.5 222v1M553.5 228v1M553.5 234v1M553.5 240v1M556.5 194v1M556.5 197v1M557.5 194v1M557.5 203v1M558.5 195v3M558.5 202v1M558.5 205v1M558.5 208v1M559.5 200v1M559.5 202v1M560.5 196v1M563.5 199v1M565.5 202v2M566.5 208v1M567.5 204v2M567.5 214v1M570.5 206v2M571.5 211v1M572.5 212v1M574.5 201v2M575.5 209v1M577.5 195v1M583.5 201v2M584.5 195v1M587.5 195v1M610.5 207v1M615.5 210v1M615.5 214v1M616.5 212v1M646.5 183v1M649.5 193v1M649.5 196v1M650.5 197v1M653.5 192v1M656.5 181v1M664.5 186v1M667.5 199v1M673.5 183v1M683.5 193v1M687.5 190v1M688.5 208v1M689.5 208v1M698.5 195v1"/><path stroke="#ff9200" d="M69.5 241v2M70.5 241v2M71.5 242v1M75.5 249v1M76.5 247v1M76.5 251v3M76.5 256v1M77.5 242v1M77.5 248v6M78.5 244v1M78.5 250v1M79.5 249v1M79.5 252v1M80.5 248v1M81.5 249v1M89.5 239v1M90.5 245v2M91.5 245v1M99.5 244v2M100.5 241v3M101.5 242v2M104.5 241v1M105.5 242v1M106.5 245v1M107.5 240v1M107.5 242v2M108.5 247v1M108.5 249v1M109.5 244v1M110.5 247v3M111.5 244v1M112.5 236v1M113.5 244v1M233.5 183v1M234.5 183v1M236.5 190v1M239.5 185v1M243.5 189v1M244.5 194v1M247.5 190v1M249.5 190v1M252.5 198v1M259.5 194v1M270.5 194v2M274.5 194v1M276.5 194v1M280.5 192v2M281.5 192v2M281.5 201v2M283.5 199v1M285.5 198v1M285.5 200v2M286.5 206v3M286.5 210v1M288.5 205v3M289.5 206v1M290.5 207v1M291.5 194v1M291.5 207v1M292.5 193v1M294.5 196v1M295.5 209v1M297.5 196v2M297.5 199v1M298.5 196v3M300.5 198v1M300.5 202v1M300.5 212v1M302.5 197v1M302.5 209v1M303.5 200v1M303.5 204v1M304.5 202v1M312.5 199v1M315.5 199v1M317.5 202v1M318.5 200v1M319.5 194v1M319.5 252v2M319.5 258v1M319.5 262v1M320.5 257v3M320.5 261v5M321.5 189v1M321.5 197v1M321.5 199v1M321.5 206v1M321.5 252v1M322.5 181v3M322.5 186v1M322.5 201v1M322.5 207v1M322.5 253v2M322.5 257v1M322.5 259v1M323.5 182v1M323.5 254v2M323.5 259v2M323.5 262v4M324.5 256v2M324.5 259v3M324.5 264v1M325.5 267v1M326.5 203v1M326.5 205v1M326.5 258v1M327.5 181v2M327.5 203v1M327.5 258v2M327.5 262v2M328.5 206v1M328.5 259v1M329.5 206v1M329.5 260v3M329.5 265v1M330.5 263v1M330.5 265v1M331.5 192v1M331.5 261v2M331.5 264v2M331.5 267v1M332.5 183v1M332.5 192v1M332.5 194v1M333.5 196v1M334.5 186v2M334.5 190v1M334.5 196v2M334.5 199v1M334.5 261v1M335.5 190v1M336.5 196v1M336.5 204v1M337.5 195v1M345.5 263v1M346.5 266v2M347.5 262v3M349.5 201v2M350.5 194v1M350.5 201v1M350.5 263v3M351.5 189v1M351.5 192v1M351.5 265v1M352.5 192v1M352.5 195v1M356.5 194v2M357.5 193v1M358.5 194v1M358.5 199v1M358.5 207v1M359.5 192v1M361.5 189v2M361.5 201v1M362.5 190v1M373.5 251v1M375.5 156v1M375.5 196v3M378.5 255v1M380.5 250v1M382.5 251v1M385.5 253v1M386.5 250v1M387.5 253v1M388.5 252v1M390.5 208v1M391.5 205v1M394.5 160v1M395.5 163v1M397.5 153v1M397.5 155v1M404.5 156v1M406.5 155v2M407.5 154v4M407.5 160v1M409.5 148v1M414.5 153v1M418.5 156v1M419.5 151v2M420.5 152v1M420.5 158v1M420.5 160v1M420.5 163v1M421.5 159v2M421.5 177v1M421.5 180v1M422.5 156v3M422.5 160v1M422.5 175v2M422.5 182v1M423.5 171v1M423.5 173v1M423.5 175v3M423.5 180v1M423.5 182v1M424.5 172v1M424.5 175v1M424.5 179v1M424.5 182v1M425.5 176v1M425.5 178v1M425.5 180v1M426.5 178v2M427.5 177v2M427.5 180v1M428.5 180v1M432.5 162v1M432.5 164v1M432.5 166v3M432.5 170v1M433.5 164v3M433.5 168v2M433.5 172v1M433.5 180v1M434.5 164v1M434.5 169v1M434.5 176v1M435.5 165v5M435.5 171v3M436.5 169v1M436.5 172v2M440.5 172v1M448.5 175v3M461.5 172v3M461.5 178v2M462.5 175v1M464.5 170v6M465.5 173v1M465.5 177v1M465.5 179v1M466.5 171v2M466.5 176v1M466.5 180v2M467.5 180v2M467.5 188v1M468.5 172v4M468.5 177v1M468.5 180v2M468.5 187v2M469.5 172v4M470.5 170v2M470.5 183v1M471.5 158v1M471.5 173v3M471.5 180v1M472.5 176v1M478.5 153v1M478.5 164v1M479.5 159v3M486.5 155v3M486.5 162v1M486.5 164v1M487.5 159v1M487.5 166v1M488.5 159v3M488.5 165v2M488.5 168v2M489.5 170v1M490.5 170v1M491.5 169v1M495.5 162v1M496.5 163v1M497.5 166v1M498.5 167v1M499.5 163v1M499.5 169v1M499.5 171v1M499.5 174v1M500.5 163v1M500.5 165v3M500.5 172v2M501.5 162v2M502.5 164v1M507.5 162v1M507.5 164v1M508.5 169v2M509.5 171v4M509.5 176v1M510.5 175v2M511.5 179v2M511.5 185v3M512.5 178v2M512.5 186v3M513.5 176v3M513.5 183v1M514.5 176v3M514.5 183v1M515.5 182v1M515.5 184v2M516.5 183v1M520.5 187v2M521.5 178v1M521.5 182v1M522.5 257v1M522.5 259v1M523.5 185v2M527.5 256v1M527.5 258v1M528.5 256v1M529.5 257v1M533.5 257v1M534.5 258v1M536.5 254v1M539.5 256v2M546.5 218v1M546.5 229v1M546.5 253v1M547.5 216v1M547.5 223v1M547.5 228v1M547.5 243v1M547.5 252v1M549.5 208v2M549.5 211v1M549.5 226v1M549.5 229v1M551.5 198v1M553.5 196v1M553.5 211v2M553.5 232v1M553.5 251v1M554.5 177v1M558.5 194v1M558.5 198v1M558.5 203v2M559.5 195v1M559.5 199v1M559.5 201v1M561.5 192v1M562.5 197v1M565.5 196v1M565.5 199v1M566.5 203v1M567.5 206v1M567.5 209v1M568.5 199v2M568.5 204v2M569.5 199v1M569.5 203v1M574.5 200v1M576.5 202v1M577.5 194v1M581.5 192v1M581.5 195v1M583.5 200v1M583.5 204v1M584.5 196v2M590.5 212v2M593.5 180v1M594.5 186v1M596.5 196v1M604.5 200v2M610.5 208v1M615.5 211v3M644.5 180v3M648.5 192v1M648.5 196v2M649.5 191v2M649.5 197v1M652.5 188v1M657.5 186v1M657.5 190v1M658.5 186v1M658.5 190v1M668.5 199v1M672.5 182v1M673.5 186v1M673.5 193v1M673.5 195v1M676.5 184v1M676.5 202v1M677.5 184v1M679.5 200v1M679.5 205v1M681.5 206v1M682.5 201v1M686.5 192v1M686.5 200v1M687.5 192v2"/><path stroke="#ff7700" d="M74.5 245v1M74.5 249v1M75.5 250v2M76.5 240v1M76.5 250v1M77.5 246v2M78.5 242v1M78.5 245v1M81.5 246v1M89.5 240v2M89.5 245v1M90.5 238v1M91.5 241v1M99.5 246v1M100.5 239v1M102.5 239v1M102.5 245v1M103.5 243v1M104.5 240v1M104.5 242v3M105.5 241v1M105.5 243v1M106.5 243v1M107.5 246v1M108.5 248v1M109.5 246v3M110.5 237v1M110.5 244v2M111.5 241v2M112.5 235v1M112.5 240v1M112.5 244v1M232.5 184v1M234.5 185v1M234.5 189v1M241.5 187v1M242.5 187v1M248.5 189v1M253.5 193v1M254.5 191v1M259.5 193v1M260.5 193v2M261.5 194v1M262.5 194v1M269.5 194v2M272.5 193v1M273.5 193v2M282.5 200v1M284.5 199v1M286.5 204v1M287.5 206v1M288.5 202v3M289.5 204v2M291.5 205v2M291.5 208v1M293.5 195v1M293.5 208v1M294.5 206v1M295.5 197v1M296.5 197v1M297.5 198v1M301.5 201v1M301.5 214v1M302.5 198v1M302.5 213v1M303.5 199v1M303.5 210v1M305.5 201v1M307.5 199v1M308.5 197v1M311.5 196v1M312.5 198v1M314.5 199v1M315.5 200v2M319.5 200v1M319.5 254v2M319.5 257v1M319.5 260v2M319.5 263v1M319.5 265v1M320.5 187v1M320.5 189v1M320.5 256v1M320.5 260v1M321.5 193v4M321.5 200v1M321.5 253v1M321.5 256v1M321.5 259v8M322.5 185v1M322.5 258v1M322.5 260v5M322.5 266v1M323.5 199v1M323.5 256v1M323.5 261v1M323.5 266v1M325.5 201v2M325.5 263v1M326.5 206v1M326.5 259v1M326.5 261v1M326.5 266v1M327.5 180v1M327.5 185v1M327.5 260v2M328.5 260v2M328.5 263v3M329.5 205v1M329.5 207v1M329.5 258v2M331.5 188v1M332.5 182v1M332.5 184v1M334.5 185v1M334.5 188v1M334.5 268v1M335.5 192v1M335.5 194v2M336.5 189v2M336.5 192v1M337.5 188v2M337.5 193v1M338.5 193v1M343.5 262v2M344.5 262v2M345.5 266v2M346.5 199v1M346.5 263v1M347.5 265v1M350.5 195v1M350.5 197v4M351.5 191v1M351.5 264v1M352.5 190v1M356.5 196v1M356.5 260v1M356.5 264v2M357.5 192v1M357.5 261v2M358.5 205v2M359.5 190v2M361.5 196v2M361.5 200v1M362.5 158v1M362.5 189v1M362.5 192v1M363.5 158v1M364.5 157v3M364.5 161v3M366.5 151v2M366.5 154v2M367.5 159v1M370.5 157v1M372.5 252v1M375.5 155v1M375.5 158v1M375.5 199v2M381.5 252v1M383.5 251v1M391.5 251v1M392.5 200v2M392.5 203v1M394.5 144v1M394.5 164v1M395.5 162v1M396.5 151v4M397.5 151v2M397.5 154v1M397.5 156v2M397.5 162v1M398.5 155v1M398.5 158v1M399.5 155v1M399.5 163v1M400.5 154v1M401.5 157v2M401.5 160v1M402.5 152v1M403.5 150v1M403.5 156v2M404.5 149v1M404.5 155v1M404.5 157v1M405.5 157v1M405.5 159v1M406.5 150v3M406.5 154v1M407.5 150v1M407.5 152v2M407.5 159v1M408.5 152v3M408.5 156v1M408.5 158v1M409.5 149v5M409.5 155v1M409.5 157v2M410.5 155v1M412.5 152v1M413.5 152v2M414.5 155v1M418.5 151v1M418.5 154v1M419.5 154v3M420.5 153v1M420.5 156v2M420.5 159v1M421.5 155v4M421.5 162v1M422.5 155v1M422.5 159v1M423.5 174v1M423.5 179v1M424.5 174v1M424.5 176v3M425.5 179v1M430.5 145v2M433.5 171v1M434.5 170v2M435.5 170v1M435.5 174v1M435.5 176v1M436.5 170v2M440.5 173v2M442.5 164v5M445.5 148v2M462.5 173v2M462.5 176v3M463.5 173v4M465.5 171v2M466.5 160v2M466.5 165v1M466.5 173v1M466.5 177v3M466.5 182v1M467.5 174v3M468.5 176v1M469.5 159v3M469.5 169v1M470.5 153v2M470.5 158v1M470.5 160v2M470.5 163v1M471.5 151v4M471.5 156v2M471.5 159v4M471.5 165v1M471.5 167v1M472.5 170v2M472.5 174v2M472.5 177v2M472.5 180v1M475.5 154v1M476.5 154v2M477.5 157v1M478.5 155v3M478.5 160v1M478.5 162v1M479.5 155v3M479.5 162v2M480.5 152v2M480.5 155v2M480.5 160v3M485.5 157v1M486.5 158v1M486.5 160v2M486.5 163v1M486.5 165v2M487.5 157v2M487.5 160v5M488.5 162v1M488.5 164v1M489.5 168v1M489.5 171v1M491.5 155v3M491.5 165v1M491.5 167v2M492.5 156v1M494.5 174v2M494.5 177v1M495.5 160v2M496.5 164v1M496.5 166v1M496.5 168v2M497.5 165v1M497.5 167v2M498.5 165v1M498.5 168v1M498.5 172v1M499.5 162v1M499.5 165v1M499.5 168v1M499.5 173v1M499.5 176v1M500.5 164v1M500.5 171v1M501.5 165v3M501.5 171v1M501.5 173v1M502.5 158v2M502.5 166v2M503.5 160v1M503.5 162v3M508.5 171v1M509.5 175v1M515.5 183v1M517.5 156v2M517.5 165v2M520.5 176v1M527.5 257v1M528.5 258v1M529.5 258v1M532.5 253v1M533.5 258v1M546.5 219v2M547.5 215v1M547.5 242v1M549.5 210v1M553.5 233v1M560.5 190v2M560.5 195v1M561.5 196v1M566.5 202v1M567.5 207v2M569.5 204v1M575.5 202v1M576.5 193v1M577.5 193v1M577.5 197v4M578.5 201v1M578.5 223v1M579.5 196v1M579.5 198v1M580.5 194v1M580.5 196v1M581.5 196v1M581.5 220v1M582.5 194v1M582.5 205v1M582.5 210v2M582.5 218v1M583.5 195v1M583.5 205v1M583.5 214v1M584.5 200v2M584.5 204v1M588.5 195v1M590.5 192v1M590.5 202v1M593.5 177v3M593.5 186v1M593.5 192v1M594.5 185v1M594.5 198v1M600.5 199v1M603.5 201v1M604.5 186v1M605.5 183v1M606.5 185v1M606.5 212v1M607.5 185v1M609.5 203v1M610.5 203v2M618.5 174v1M620.5 213v1M652.5 184v1M652.5 192v2M653.5 188v1M654.5 188v2M656.5 180v1M656.5 190v1M658.5 185v1M660.5 191v1M664.5 196v1M672.5 183v1M672.5 193v1M676.5 203v1M679.5 198v2M683.5 195v1M683.5 201v1M687.5 197v1M690.5 190v1M692.5 193v1M692.5 195v1M692.5 202v1M699.5 212v1"/><path stroke="#ff5c00" d="M71.5 241v1M71.5 243v1M77.5 241v1M78.5 252v1M79.5 247v1M80.5 240v1M81.5 241v2M89.5 242v1M90.5 239v3M90.5 243v1M91.5 238v1M91.5 240v1M92.5 241v1M92.5 245v1M93.5 240v2M99.5 240v3M102.5 240v1M103.5 236v1M103.5 242v1M104.5 238v2M105.5 237v1M108.5 240v1M109.5 245v1M110.5 236v1M110.5 239v1M110.5 241v1M111.5 238v2M112.5 239v1M113.5 239v1M233.5 188v1M237.5 183v1M240.5 186v1M242.5 188v1M243.5 192v1M247.5 189v1M252.5 191v1M253.5 191v2M258.5 194v1M262.5 195v1M264.5 194v1M266.5 194v2M267.5 194v1M279.5 193v1M281.5 200v1M287.5 205v1M290.5 206v1M293.5 209v1M295.5 196v1M301.5 202v1M303.5 198v1M306.5 201v1M309.5 197v1M314.5 198v1M317.5 189v1M319.5 189v1M319.5 201v1M319.5 256v1M320.5 190v1M320.5 194v1M321.5 186v1M321.5 254v2M321.5 257v2M322.5 184v1M322.5 200v1M322.5 265v1M323.5 181v1M323.5 200v2M323.5 267v1M326.5 260v1M326.5 262v1M326.5 264v2M326.5 267v1M327.5 186v1M327.5 264v3M328.5 204v1M328.5 262v1M329.5 266v1M330.5 266v1M332.5 185v1M332.5 187v1M333.5 185v1M334.5 189v1M335.5 187v1M337.5 187v1M342.5 261v1M342.5 263v2M343.5 268v1M344.5 261v1M344.5 264v1M345.5 265v1M350.5 244v1M350.5 246v4M352.5 247v3M353.5 250v1M355.5 255v1M356.5 261v3M357.5 263v1M358.5 193v1M358.5 266v1M361.5 195v1M362.5 156v1M362.5 191v1M363.5 156v1M364.5 151v2M364.5 154v3M364.5 160v1M365.5 151v1M365.5 154v1M366.5 150v1M367.5 149v1M367.5 151v1M367.5 158v1M370.5 152v4M370.5 158v2M370.5 161v1M371.5 252v1M372.5 251v1M372.5 255v1M373.5 252v1M374.5 254v1M376.5 250v1M378.5 151v3M378.5 252v1M380.5 254v1M382.5 252v1M383.5 254v1M384.5 252v1M387.5 252v1M390.5 254v1M390.5 256v2M394.5 143v1M394.5 157v1M394.5 163v1M395.5 153v1M395.5 157v1M396.5 156v1M396.5 158v2M397.5 150v1M397.5 158v2M397.5 163v1M398.5 152v3M398.5 156v1M398.5 162v2M398.5 165v1M399.5 147v1M399.5 153v1M399.5 160v3M399.5 164v2M400.5 157v2M400.5 160v2M401.5 152v2M401.5 156v1M402.5 150v1M402.5 153v1M403.5 151v2M403.5 154v1M404.5 151v4M404.5 158v1M404.5 160v1M405.5 149v1M405.5 151v1M405.5 154v1M405.5 156v1M405.5 158v1M405.5 160v2M406.5 153v1M407.5 151v1M408.5 151v1M409.5 154v1M410.5 151v1M410.5 153v2M411.5 152v1M412.5 148v1M413.5 149v3M418.5 150v1M418.5 152v2M419.5 157v3M420.5 154v2M421.5 153v2M426.5 175v2M429.5 144v4M430.5 147v2M432.5 152v2M433.5 150v2M433.5 170v1M435.5 175v1M443.5 146v2M444.5 145v2M444.5 151v4M445.5 151v1M446.5 149v2M447.5 145v2M448.5 146v1M449.5 147v1M449.5 151v4M450.5 147v1M450.5 150v1M450.5 152v1M452.5 146v2M466.5 162v2M467.5 160v1M467.5 163v1M468.5 156v2M468.5 159v4M468.5 168v2M469.5 152v5M469.5 158v1M469.5 164v1M469.5 166v2M470.5 151v2M470.5 155v3M470.5 164v1M470.5 166v2M471.5 168v1M472.5 156v1M472.5 167v1M472.5 172v1M474.5 151v1M474.5 162v3M475.5 149v2M475.5 152v2M475.5 157v2M475.5 163v1M476.5 150v1M476.5 153v1M476.5 157v2M476.5 163v1M477.5 151v1M477.5 153v1M477.5 155v1M477.5 158v1M477.5 160v1M477.5 162v1M478.5 161v1M478.5 163v1M479.5 164v1M480.5 154v1M480.5 163v3M480.5 167v2M481.5 154v1M481.5 158v1M481.5 160v1M482.5 158v1M484.5 153v1M484.5 155v3M484.5 160v1M485.5 155v1M485.5 158v5M486.5 159v1M488.5 163v1M489.5 161v2M489.5 166v2M490.5 164v1M491.5 154v1M491.5 166v1M491.5 170v2M492.5 154v2M492.5 157v1M495.5 157v3M495.5 167v1M496.5 167v1M497.5 164v1M497.5 169v1M498.5 163v2M499.5 161v1M499.5 167v1M501.5 161v1M501.5 168v3M502.5 160v1M502.5 162v2M502.5 165v1M502.5 168v1M503.5 158v2M503.5 161v1M503.5 165v2M508.5 172v1M517.5 160v5M528.5 257v1M539.5 258v1M547.5 214v1M556.5 191v2M557.5 187v1M561.5 171v4M571.5 204v1M573.5 202v2M575.5 197v1M575.5 200v2M575.5 203v1M576.5 194v1M576.5 197v4M576.5 203v1M577.5 202v1M578.5 198v3M578.5 202v1M579.5 197v1M579.5 199v3M580.5 192v2M580.5 195v1M580.5 197v2M580.5 206v1M581.5 194v1M581.5 197v2M581.5 202v4M581.5 211v1M581.5 219v1M581.5 222v1M582.5 193v1M582.5 203v2M582.5 207v3M582.5 215v3M583.5 207v3M583.5 212v2M584.5 212v1M588.5 210v1M590.5 193v1M590.5 201v1M590.5 206v2M590.5 214v1M590.5 218v2M591.5 195v2M591.5 203v1M591.5 210v1M591.5 214v1M592.5 203v1M592.5 210v1M593.5 190v1M598.5 180v1M600.5 182v1M600.5 186v2M600.5 202v1M603.5 182v2M603.5 200v1M604.5 183v1M604.5 187v2M605.5 182v1M605.5 205v1M606.5 181v1M606.5 213v1M608.5 184v1M608.5 208v1M609.5 188v1M610.5 183v1M610.5 202v1M611.5 183v1M611.5 202v1M611.5 209v1M613.5 184v1M613.5 205v1M617.5 212v1M618.5 173v1M646.5 184v1M652.5 181v1M652.5 187v1M656.5 189v1M656.5 193v1M658.5 191v1M659.5 180v1M659.5 190v1M664.5 181v2M665.5 184v1M665.5 198v1M671.5 182v2M672.5 194v2M673.5 194v1M675.5 197v1M675.5 201v1M676.5 198v1M676.5 201v1M677.5 198v1M677.5 204v1M678.5 204v1M681.5 205v1M684.5 202v1M685.5 192v1M686.5 196v1M687.5 202v1M689.5 199v1M693.5 201v2M694.5 203v1M696.5 195v1M697.5 210v1M698.5 193v1M698.5 206v1"/><path stroke="#ff4100" d="M71.5 240v1M71.5 245v1M74.5 244v1M76.5 239v1M77.5 240v1M78.5 241v1M79.5 242v2M80.5 242v1M80.5 244v1M89.5 243v1M90.5 242v1M91.5 242v2M92.5 242v1M101.5 239v3M102.5 242v1M102.5 244v1M103.5 240v1M106.5 240v1M108.5 234v1M108.5 246v1M110.5 240v1M112.5 241v2M113.5 240v1M113.5 243v1M234.5 188v1M235.5 183v1M238.5 184v1M239.5 186v1M242.5 192v1M247.5 194v1M251.5 190v1M254.5 192v1M256.5 193v1M261.5 195v1M263.5 195v1M267.5 195v1M268.5 194v1M272.5 194v1M277.5 193v2M282.5 194v1M286.5 194v1M286.5 203v1M287.5 194v1M287.5 201v1M287.5 203v2M293.5 210v1M296.5 196v1M302.5 202v1M302.5 204v1M306.5 200v1M308.5 196v1M309.5 195v1M309.5 198v1M319.5 187v2M319.5 193v1M320.5 181v2M320.5 186v1M320.5 192v1M321.5 183v1M322.5 180v1M327.5 188v1M328.5 205v1M328.5 266v1M330.5 267v1M331.5 186v1M331.5 191v1M332.5 186v1M332.5 188v1M333.5 180v1M333.5 261v1M334.5 182v1M335.5 186v1M335.5 191v1M335.5 262v1M336.5 188v1M336.5 191v1M337.5 190v1M337.5 196v1M340.5 264v2M341.5 264v3M342.5 265v1M343.5 264v1M346.5 264v2M350.5 245v1M351.5 246v1M351.5 253v1M352.5 251v3M353.5 249v1M353.5 251v1M354.5 252v2M354.5 258v2M354.5 261v1M355.5 256v1M355.5 264v1M356.5 266v1M357.5 264v1M357.5 266v2M358.5 267v1M362.5 188v1M363.5 154v2M365.5 155v1M365.5 158v1M366.5 156v1M367.5 150v1M367.5 152v1M367.5 154v2M370.5 160v1M371.5 253v2M373.5 254v1M375.5 153v1M378.5 149v2M382.5 259v1M383.5 252v1M390.5 249v1M393.5 199v1M395.5 155v1M396.5 155v1M396.5 157v1M397.5 161v1M398.5 149v2M398.5 160v2M399.5 148v2M399.5 151v2M399.5 158v2M401.5 154v1M402.5 154v3M403.5 153v1M403.5 159v1M404.5 159v1M410.5 150v1M411.5 151v1M412.5 149v3M414.5 156v3M429.5 142v2M431.5 146v3M432.5 150v2M433.5 152v3M443.5 148v2M444.5 147v4M444.5 155v1M445.5 146v2M445.5 153v4M446.5 145v4M446.5 158v2M447.5 147v4M447.5 160v2M448.5 148v4M448.5 156v5M449.5 146v1M449.5 149v2M450.5 149v1M450.5 151v1M450.5 153v1M451.5 146v4M451.5 151v1M452.5 148v2M467.5 164v3M468.5 165v3M472.5 153v3M473.5 154v1M473.5 156v1M473.5 158v1M473.5 167v1M474.5 152v2M474.5 156v5M475.5 151v1M475.5 160v1M476.5 161v2M477.5 161v1M481.5 155v3M482.5 157v1M482.5 160v1M483.5 154v2M483.5 158v1M484.5 158v1M489.5 163v3M490.5 163v1M490.5 165v2M490.5 169v1M491.5 172v1M492.5 158v1M495.5 166v1M497.5 163v1M498.5 162v1M498.5 170v1M502.5 161v1M556.5 169v3M559.5 169v6M561.5 175v1M563.5 198v1M564.5 200v1M565.5 200v2M568.5 203v1M570.5 199v1M571.5 205v1M572.5 202v1M572.5 206v1M573.5 209v1M575.5 198v1M575.5 213v1M576.5 213v3M577.5 203v1M577.5 213v2M578.5 203v6M578.5 215v4M578.5 221v2M579.5 202v1M579.5 205v2M579.5 213v2M579.5 216v3M579.5 220v3M580.5 205v1M580.5 214v1M580.5 216v1M580.5 224v2M581.5 193v1M581.5 199v1M581.5 201v1M581.5 206v4M581.5 216v2M582.5 200v3M582.5 212v1M583.5 206v1M583.5 210v2M583.5 215v2M584.5 205v1M584.5 209v3M588.5 211v2M589.5 203v1M589.5 219v1M590.5 197v1M590.5 200v1M590.5 203v1M590.5 208v1M590.5 210v1M590.5 215v1M590.5 220v1M590.5 224v1M591.5 192v1M591.5 194v1M591.5 197v1M591.5 199v4M591.5 205v1M591.5 212v2M591.5 219v1M591.5 221v1M591.5 225v1M592.5 179v1M592.5 191v2M592.5 195v1M592.5 205v1M592.5 211v2M592.5 214v1M592.5 219v1M593.5 195v1M593.5 199v1M595.5 181v1M595.5 186v1M595.5 194v1M599.5 182v1M600.5 181v1M600.5 203v2M602.5 182v1M605.5 186v1M606.5 182v1M606.5 186v1M607.5 186v1M607.5 204v1M608.5 183v1M609.5 182v3M610.5 210v1M611.5 203v1M613.5 204v1M613.5 208v2M617.5 174v2M617.5 207v1M618.5 175v3M619.5 209v1M620.5 212v1M649.5 183v1M651.5 185v3M652.5 182v1M653.5 182v1M653.5 193v1M654.5 182v1M654.5 187v1M655.5 180v1M656.5 182v1M656.5 184v1M659.5 191v1M663.5 192v2M663.5 197v1M664.5 184v2M665.5 185v1M665.5 197v1M666.5 194v1M667.5 194v1M668.5 194v1M669.5 194v1M669.5 199v1M671.5 181v1M674.5 196v1M677.5 196v1M677.5 203v1M678.5 199v1M678.5 205v1M679.5 204v1M680.5 199v1M681.5 201v1M681.5 204v1M683.5 194v1M686.5 195v1M686.5 204v1M687.5 195v2M688.5 203v1M689.5 198v1M690.5 200v1M692.5 194v1M692.5 201v1M693.5 203v1M694.5 204v1M694.5 208v1M697.5 209v1M699.5 207v2"/><path stroke="#ff2600" d="M76.5 238v1M77.5 238v2M79.5 241v1M79.5 246v1M81.5 240v1M81.5 244v1M99.5 239v1M102.5 241v1M112.5 238v1M113.5 241v1M115.5 243v1M232.5 185v1M232.5 188v1M233.5 187v1M235.5 184v1M239.5 187v1M242.5 191v1M242.5 193v1M251.5 191v1M262.5 199v1M266.5 200v1M268.5 195v1M286.5 195v1M286.5 199v3M287.5 202v1M301.5 203v1M302.5 199v1M302.5 201v1M302.5 203v1M308.5 198v1M309.5 196v1M317.5 188v1M319.5 185v2M319.5 190v3M320.5 185v1M321.5 181v1M326.5 201v1M326.5 263v1M327.5 187v1M328.5 267v1M329.5 267v2M332.5 263v2M333.5 181v1M334.5 184v1M334.5 262v2M335.5 184v1M336.5 186v1M336.5 194v1M336.5 262v2M337.5 191v1M337.5 263v1M338.5 262v4M340.5 262v1M340.5 266v1M341.5 261v3M342.5 267v1M351.5 247v4M351.5 254v1M352.5 254v1M352.5 258v1M352.5 260v1M353.5 257v4M353.5 264v2M354.5 254v1M354.5 257v1M354.5 262v1M355.5 257v1M355.5 260v1M355.5 262v1M355.5 265v1M357.5 265v1M358.5 265v1M365.5 156v2M366.5 157v1M377.5 250v2M383.5 253v1M391.5 255v2M431.5 150v1M432.5 148v2M445.5 157v1M446.5 152v1M447.5 151v3M447.5 156v4M448.5 153v3M449.5 148v1M450.5 136v1M451.5 133v1M451.5 150v1M452.5 132v4M453.5 130v3M472.5 151v2M472.5 162v1M472.5 164v3M473.5 151v3M473.5 155v1M473.5 160v1M473.5 164v1M473.5 166v1M476.5 160v1M482.5 152v1M482.5 154v1M482.5 156v1M490.5 167v1M556.5 187v1M558.5 187v1M559.5 188v1M568.5 202v1M572.5 207v1M573.5 204v1M573.5 208v1M575.5 214v1M576.5 195v1M576.5 212v1M577.5 204v2M577.5 215v2M578.5 213v2M579.5 207v1M579.5 219v1M580.5 199v1M580.5 201v1M580.5 204v1M580.5 207v1M580.5 213v1M580.5 215v1M580.5 217v1M580.5 220v2M580.5 223v1M581.5 213v1M581.5 215v1M581.5 223v2M582.5 213v1M588.5 197v4M588.5 204v1M589.5 200v2M589.5 204v4M589.5 211v3M589.5 215v1M589.5 218v1M589.5 220v1M590.5 194v3M590.5 205v1M590.5 217v1M590.5 223v1M590.5 225v1M591.5 193v1M591.5 198v1M591.5 206v4M591.5 215v1M591.5 223v2M592.5 177v2M592.5 180v1M592.5 190v1M592.5 199v3M592.5 206v1M592.5 213v1M592.5 224v1M594.5 193v1M595.5 185v1M596.5 181v1M596.5 183v1M598.5 181v1M599.5 199v1M601.5 180v2M601.5 185v1M601.5 203v1M602.5 186v1M605.5 188v1M605.5 200v2M606.5 210v1M608.5 187v2M609.5 208v1M610.5 214v1M612.5 183v2M612.5 210v1M613.5 183v1M613.5 207v1M613.5 210v1M614.5 208v1M617.5 176v2M617.5 208v1M618.5 208v1M619.5 212v1M649.5 184v1M650.5 192v1M651.5 183v1M651.5 192v1M652.5 186v1M653.5 120v1M654.5 181v1M655.5 194v1M656.5 194v1M657.5 181v1M657.5 194v1M659.5 181v1M659.5 192v1M663.5 198v1M665.5 183v1M665.5 186v1M666.5 183v1M671.5 195v1M676.5 197v1M680.5 204v1M683.5 196v1M684.5 193v1M686.5 193v1M687.5 189v1M687.5 194v1M687.5 201v1M688.5 202v1M690.5 191v1M690.5 204v1M691.5 205v1M694.5 207v1M695.5 205v1M695.5 208v1M698.5 196v1M699.5 213v1"/><path stroke="#ff0b00" d="M71.5 244v1M74.5 243v1M79.5 240v1M79.5 244v2M109.5 234v1M113.5 242v1M115.5 242v1M232.5 187v1M233.5 186v1M234.5 187v1M235.5 189v1M236.5 183v1M238.5 185v1M239.5 191v1M243.5 193v1M249.5 195v1M255.5 193v1M271.5 194v2M273.5 215v4M287.5 200v1M294.5 203v1M299.5 207v1M299.5 209v1M302.5 200v1M306.5 199v1M309.5 194v1M320.5 183v1M321.5 184v1M331.5 185v1M331.5 189v1M332.5 189v1M332.5 259v1M332.5 265v3M334.5 183v1M334.5 264v4M335.5 209v1M335.5 265v1M336.5 185v1M336.5 261v1M336.5 264v1M337.5 192v1M337.5 197v2M337.5 262v1M337.5 264v2M338.5 192v1M338.5 266v1M339.5 263v4M340.5 267v1M341.5 267v1M344.5 265v1M350.5 250v1M351.5 255v2M351.5 260v1M352.5 256v2M352.5 259v1M352.5 261v3M353.5 252v2M353.5 256v1M353.5 261v3M353.5 266v1M354.5 255v2M354.5 263v1M354.5 266v2M355.5 258v1M355.5 261v1M355.5 263v1M355.5 266v2M379.5 255v1M391.5 254v1M391.5 257v1M431.5 149v1M446.5 153v5M447.5 154v1M450.5 137v2M451.5 134v2M453.5 133v1M473.5 162v1M557.5 192v2M558.5 188v1M559.5 189v1M559.5 194v1M562.5 196v1M563.5 194v1M566.5 197v1M567.5 198v1M567.5 203v1M574.5 203v1M576.5 205v1M576.5 211v1M577.5 206v2M577.5 212v1M579.5 203v2M579.5 208v1M580.5 202v1M580.5 219v1M581.5 214v1M588.5 196v1M588.5 201v2M588.5 208v2M588.5 213v1M588.5 219v1M588.5 222v1M589.5 193v1M589.5 197v1M589.5 208v1M589.5 210v1M589.5 214v1M589.5 224v2M590.5 198v2M590.5 209v1M590.5 216v1M590.5 221v2M590.5 226v1M590.5 228v1M591.5 216v2M591.5 220v1M591.5 222v1M592.5 197v1M592.5 207v3M592.5 215v1M592.5 218v1M592.5 220v2M593.5 189v1M593.5 193v1M593.5 201v1M595.5 193v1M597.5 185v2M597.5 200v2M598.5 186v1M598.5 197v1M600.5 180v1M600.5 184v2M602.5 183v1M603.5 205v1M605.5 187v1M607.5 181v1M608.5 182v1M609.5 187v1M612.5 207v1M613.5 188v1M613.5 211v3M614.5 205v1M616.5 188v2M619.5 210v1M620.5 209v1M621.5 213v1M645.5 119v2M646.5 119v2M648.5 120v2M650.5 122v2M650.5 185v2M650.5 191v1M651.5 124v1M652.5 120v1M652.5 122v3M653.5 121v2M653.5 124v1M653.5 185v1M654.5 120v4M655.5 181v1M655.5 188v1M656.5 121v2M656.5 183v1M657.5 123v1M658.5 180v1M658.5 183v1M658.5 195v1M659.5 183v1M662.5 193v1M662.5 196v2M663.5 196v1M663.5 199v1M664.5 183v1M666.5 184v1M666.5 199v1M670.5 194v1M677.5 197v1M677.5 202v1M681.5 200v1M684.5 203v1M685.5 191v1M686.5 187v1M686.5 205v1M688.5 192v1M688.5 198v1M690.5 205v1M691.5 194v2M692.5 207v1M694.5 209v1M696.5 193v1M696.5 196v1M698.5 192v1M699.5 196v2"/><path stroke="#f2000d" d="M76.5 237v1M109.5 233v1M232.5 186v1M234.5 186v1M235.5 185v1M235.5 187v2M263.5 199v2M287.5 199v1M296.5 204v1M318.5 190v1M319.5 184v1M331.5 190v1M332.5 260v2M333.5 184v1M333.5 266v2M335.5 185v1M335.5 210v1M335.5 267v1M336.5 265v1M336.5 267v1M338.5 191v1M338.5 267v1M339.5 267v1M343.5 265v3M344.5 266v2M350.5 251v5M351.5 257v3M353.5 254v2M354.5 264v2M355.5 259v1M393.5 198v1M451.5 136v1M557.5 188v1M576.5 206v1M580.5 203v1M588.5 205v1M588.5 217v2M588.5 220v2M588.5 223v2M589.5 194v3M589.5 198v2M589.5 209v1M589.5 216v1M589.5 221v1M589.5 223v1M589.5 228v1M592.5 185v2M592.5 189v1M592.5 198v1M592.5 216v2M592.5 222v1M596.5 200v1M597.5 184v1M598.5 185v1M599.5 180v2M599.5 186v1M604.5 205v1M607.5 182v1M612.5 208v1M620.5 210v1M648.5 183v1M649.5 189v1M650.5 121v1M651.5 120v4M652.5 119v1M653.5 183v1M654.5 124v1M654.5 184v1M654.5 193v1M655.5 120v4M656.5 120v1M657.5 120v3M658.5 182v1M659.5 186v1M660.5 180v1M663.5 181v1M681.5 199v1M683.5 192v1M686.5 186v1M686.5 190v1M688.5 193v1M689.5 204v1M691.5 206v1M693.5 193v1M695.5 191v1M695.5 193v1M695.5 195v1M695.5 209v2M696.5 192v1M698.5 197v2M699.5 198v1"/><path stroke="#db0024" d="M112.5 237v1M235.5 186v1M243.5 194v1M287.5 198v1M294.5 204v1M297.5 206v1M299.5 205v2M304.5 213v1M318.5 188v1M333.5 183v1M335.5 266v1M336.5 187v1M352.5 264v1M566.5 201v1M575.5 204v1M576.5 204v1M588.5 206v2M588.5 214v1M589.5 222v1M589.5 226v2M591.5 228v1M592.5 188v1M596.5 184v2M599.5 184v2M602.5 212v1M603.5 211v2M604.5 204v1M606.5 201v1M612.5 188v1M612.5 203v1M615.5 209v1M616.5 190v1M616.5 192v1M617.5 189v2M621.5 210v1M649.5 180v2M651.5 180v3M654.5 185v1M655.5 189v1M659.5 184v2M660.5 179v1M660.5 183v1M660.5 186v1M661.5 179v1M661.5 185v1M662.5 187v1M663.5 182v1M683.5 191v1M684.5 192v1M690.5 194v1M690.5 201v1M692.5 196v1M693.5 198v1M697.5 193v1M698.5 199v1M699.5 192v1"/><path stroke="#c4003b" d="M253.5 197v1M278.5 197v1M292.5 203v1M296.5 207v1M297.5 204v1M297.5 207v1M297.5 209v1M298.5 205v2M299.5 204v1M300.5 209v1M333.5 182v1M344.5 257v2M345.5 257v1M386.5 258v1M565.5 198v1M575.5 208v1M588.5 215v2M598.5 184v1M602.5 210v2M603.5 204v1M612.5 204v1M615.5 192v2M616.5 177v1M616.5 191v1M617.5 188v1M618.5 187v2M647.5 183v2M649.5 182v1M653.5 190v1M655.5 185v2M657.5 180v1M657.5 182v2M660.5 182v1M661.5 180v1M661.5 186v1M661.5 188v1M662.5 198v1M663.5 184v1M664.5 180v1M665.5 180v1M666.5 181v1M684.5 197v1M686.5 194v1M688.5 194v1M691.5 191v1M693.5 192v1M696.5 191v1M696.5 194v1M696.5 197v1M697.5 194v1M697.5 200v1"/><path stroke="#ae0052" d="M75.5 241v1M245.5 190v1M248.5 192v2M259.5 197v2M265.5 196v3M272.5 198v2M275.5 195v1M275.5 199v1M278.5 196v1M278.5 198v1M281.5 197v1M282.5 197v2M283.5 198v1M288.5 201v1M291.5 198v3M292.5 197v1M292.5 199v1M294.5 205v1M296.5 210v1M299.5 201v1M301.5 211v2M311.5 207v1M324.5 207v1M325.5 208v1M340.5 260v1M341.5 259v1M342.5 258v3M343.5 257v1M344.5 259v1M345.5 258v1M346.5 257v1M348.5 257v3M375.5 257v1M380.5 258v1M381.5 256v3M386.5 257v1M388.5 258v1M565.5 197v1M593.5 181v1M593.5 197v1M594.5 197v1M595.5 195v1M601.5 200v1M609.5 205v1M615.5 190v1M616.5 176v1M643.5 188v2M644.5 191v2M648.5 181v1M650.5 180v1M650.5 182v1M652.5 189v1M653.5 189v1M653.5 191v1M654.5 190v1M661.5 182v1M664.5 179v1M673.5 199v1M674.5 199v1M683.5 202v1M684.5 195v2M685.5 190v1M686.5 198v2M687.5 188v1M691.5 192v1M693.5 195v3M695.5 190v1M697.5 195v1M697.5 199v1"/><path stroke="#970069" d="M76.5 241v1M78.5 237v3M106.5 236v1M107.5 236v1M109.5 237v1M238.5 188v2M240.5 192v1M243.5 191v1M244.5 189v1M245.5 189v1M245.5 191v1M246.5 190v2M247.5 191v3M248.5 191v1M249.5 191v3M250.5 192v1M251.5 193v3M252.5 193v2M257.5 195v1M259.5 196v1M261.5 199v1M262.5 197v1M265.5 195v1M266.5 196v2M270.5 196v2M272.5 197v1M273.5 195v2M274.5 195v2M274.5 198v1M275.5 196v3M276.5 197v2M277.5 196v2M280.5 194v1M281.5 196v1M281.5 198v1M282.5 196v1M283.5 196v1M284.5 196v1M284.5 198v1M288.5 196v2M289.5 197v5M290.5 197v1M291.5 197v1M292.5 198v1M292.5 200v1M294.5 198v3M295.5 199v1M295.5 205v1M299.5 202v1M300.5 204v3M300.5 211v1M304.5 207v2M305.5 207v1M307.5 207v2M310.5 205v1M310.5 207v1M311.5 204v1M312.5 207v2M313.5 204v1M314.5 202v1M316.5 202v1M317.5 192v3M318.5 194v1M319.5 204v1M320.5 203v2M321.5 202v2M322.5 203v1M323.5 207v1M324.5 205v2M325.5 207v1M327.5 253v3M333.5 190v1M333.5 256v2M334.5 256v3M336.5 197v1M339.5 258v1M339.5 260v2M340.5 259v1M341.5 260v1M343.5 258v2M345.5 259v2M346.5 258v1M347.5 259v1M348.5 255v2M360.5 188v2M373.5 256v1M374.5 256v1M375.5 258v1M377.5 257v1M378.5 256v2M379.5 258v1M380.5 256v2M381.5 255v1M382.5 258v1M385.5 257v1M387.5 255v1M387.5 257v2M388.5 256v2M389.5 256v3M556.5 189v2M560.5 192v3M564.5 197v3M567.5 200v1M568.5 201v1M569.5 200v3M570.5 203v1M571.5 202v1M572.5 203v3M582.5 196v2M583.5 199v1M585.5 205v1M592.5 181v2M593.5 182v1M593.5 185v1M593.5 196v1M593.5 198v1M594.5 182v1M595.5 196v1M595.5 207v2M596.5 207v1M598.5 198v1M600.5 200v1M601.5 182v1M601.5 201v1M604.5 184v2M605.5 184v2M605.5 204v1M606.5 183v2M607.5 202v2M607.5 212v1M608.5 185v1M608.5 202v3M608.5 211v1M608.5 213v1M609.5 204v1M610.5 184v1M610.5 186v1M610.5 205v2M610.5 211v2M611.5 206v1M611.5 211v2M613.5 185v2M615.5 191v1M616.5 175v1M617.5 187v1M618.5 184v3M618.5 211v1M640.5 189v1M644.5 189v2M645.5 189v4M648.5 182v1M650.5 181v1M651.5 189v1M652.5 190v2M654.5 191v1M656.5 191v2M657.5 184v1M657.5 191v2M658.5 192v1M660.5 184v1M661.5 183v2M665.5 194v1M666.5 179v1M666.5 182v1M667.5 198v1M668.5 198v1M670.5 197v1M671.5 197v2M672.5 196v2M673.5 196v3M674.5 198v1M674.5 200v1M677.5 199v1M679.5 201v1M682.5 204v1M684.5 205v2M685.5 197v1M686.5 189v1M686.5 197v1M686.5 208v1M687.5 198v1M688.5 195v2M689.5 194v1M691.5 196v1M691.5 202v3M692.5 203v2M693.5 194v1M697.5 192v1M697.5 207v1M698.5 208v3M699.5 195v1M699.5 210v1"/><path stroke="#800080" d="M75.5 242v5M76.5 242v4M78.5 240v1M79.5 237v3M106.5 238v1M107.5 235v1M107.5 238v1M108.5 236v2M108.5 239v1M109.5 235v2M109.5 238v1M109.5 240v1M236.5 184v6M237.5 184v6M238.5 186v2M239.5 188v3M240.5 187v5M241.5 188v6M242.5 189v2M243.5 190v1M244.5 190v4M245.5 192v3M246.5 192v2M248.5 190v1M249.5 194v1M250.5 193v4M251.5 192v1M251.5 196v2M252.5 192v1M252.5 195v2M253.5 194v3M254.5 193v5M255.5 194v4M256.5 194v5M257.5 196v4M258.5 195v4M259.5 195v1M260.5 195v6M261.5 196v3M261.5 200v1M262.5 196v1M262.5 198v1M263.5 196v3M264.5 195v4M266.5 198v2M267.5 196v4M268.5 196v4M269.5 196v5M270.5 198v3M271.5 196v5M272.5 195v2M273.5 197v2M274.5 197v1M274.5 199v1M276.5 195v2M277.5 195v1M277.5 198v1M278.5 194v2M279.5 194v4M280.5 195v3M281.5 194v2M282.5 195v1M283.5 195v1M283.5 197v1M284.5 195v1M284.5 197v1M285.5 195v3M286.5 196v3M287.5 195v3M288.5 194v1M288.5 198v3M290.5 198v3M292.5 206v1M293.5 197v6M293.5 204v1M294.5 195v1M294.5 197v1M294.5 201v2M295.5 200v4M296.5 199v4M297.5 200v4M298.5 200v5M299.5 203v1M301.5 204v6M302.5 205v4M303.5 205v5M304.5 206v1M304.5 209v2M305.5 206v1M305.5 208v1M306.5 206v6M307.5 206v1M307.5 209v2M308.5 199v4M308.5 204v7M309.5 200v2M309.5 204v6M310.5 206v1M310.5 208v1M311.5 205v2M312.5 204v3M313.5 205v3M314.5 203v3M315.5 202v4M316.5 203v4M317.5 191v1M318.5 191v3M318.5 202v3M319.5 202v2M320.5 200v3M321.5 185v1M321.5 187v2M321.5 201v1M321.5 204v2M322.5 204v3M323.5 204v3M325.5 206v1M326.5 207v3M327.5 208v3M328.5 207v4M328.5 253v4M329.5 208v3M329.5 253v4M330.5 255v3M331.5 256v2M332.5 254v4M333.5 186v4M333.5 255v1M334.5 259v1M335.5 257v3M336.5 257v3M337.5 258v3M338.5 258v4M339.5 259v1M339.5 262v1M342.5 257v1M343.5 260v1M346.5 259v2M347.5 257v2M347.5 260v1M349.5 255v4M357.5 257v1M358.5 258v2M360.5 190v3M361.5 204v3M373.5 255v1M373.5 257v1M374.5 255v1M374.5 257v2M375.5 254v3M376.5 255v4M377.5 255v2M377.5 258v1M378.5 258v2M379.5 256v2M380.5 255v1M382.5 255v3M383.5 255v4M384.5 254v4M385.5 254v3M386.5 254v3M387.5 256v1M390.5 204v4M556.5 188v1M557.5 189v3M558.5 189v5M559.5 190v4M561.5 193v3M562.5 193v3M563.5 195v3M564.5 196v1M566.5 198v3M567.5 199v1M567.5 201v2M570.5 200v3M571.5 201v1M571.5 203v1M573.5 205v3M574.5 204v4M575.5 205v3M575.5 210v1M575.5 212v1M576.5 207v4M577.5 208v4M578.5 209v4M579.5 209v4M580.5 208v4M582.5 198v2M583.5 196v3M584.5 207v2M585.5 207v3M586.5 207v1M586.5 209v1M592.5 183v2M592.5 187v1M592.5 193v2M592.5 196v1M593.5 183v2M593.5 187v2M593.5 191v1M593.5 194v1M593.5 200v1M594.5 183v2M594.5 194v3M595.5 182v3M595.5 197v2M595.5 206v1M595.5 209v1M596.5 182v1M596.5 197v3M596.5 208v2M597.5 182v2M597.5 198v2M598.5 182v2M598.5 199v2M599.5 183v1M599.5 198v1M599.5 200v2M600.5 183v1M600.5 201v1M601.5 183v2M601.5 202v1M602.5 184v2M602.5 200v3M603.5 184v2M603.5 202v2M604.5 202v2M605.5 202v2M606.5 202v3M607.5 183v2M607.5 205v1M607.5 210v1M608.5 186v1M608.5 205v1M608.5 209v2M608.5 212v1M609.5 185v2M609.5 209v5M610.5 185v1M610.5 187v1M611.5 184v4M611.5 204v2M611.5 207v1M612.5 185v3M612.5 205v2M612.5 211v2M613.5 187v1M613.5 206v1M614.5 206v2M615.5 194v1M615.5 206v3M616.5 173v1M616.5 207v4M617.5 186v1M617.5 209v3M618.5 209v2M619.5 211v1M620.5 211v1M621.5 211v2M622.5 211v2M637.5 184v3M638.5 185v3M639.5 186v3M640.5 186v3M641.5 187v3M642.5 188v1M648.5 184v4M649.5 185v4M650.5 187v4M651.5 188v1M651.5 190v2M654.5 192v1M655.5 182v2M655.5 190v4M657.5 193v1M658.5 193v2M659.5 193v2M660.5 192v4M661.5 192v4M662.5 181v4M662.5 186v1M662.5 194v2M663.5 194v2M664.5 193v3M665.5 182v1M665.5 195v2M666.5 195v4M667.5 195v3M668.5 195v3M669.5 195v4M670.5 195v2M670.5 198v1M671.5 196v1M671.5 199v1M672.5 198v2M674.5 197v1M675.5 198v3M676.5 199v2M677.5 200v2M678.5 200v4M679.5 202v2M680.5 200v4M681.5 202v2M682.5 202v2M683.5 203v2M684.5 194v1M684.5 204v1M685.5 194v3M685.5 205v2M686.5 206v2M687.5 199v2M688.5 199v3M689.5 193v1M689.5 195v3M689.5 200v4M690.5 193v1M690.5 195v1M690.5 197v1M690.5 202v2M692.5 192v1M692.5 205v2M693.5 204v4M694.5 191v6M694.5 205v2M695.5 194v1M695.5 206v2M696.5 198v2M696.5 205v3M697.5 196v3M697.5 206v1M697.5 208v1M698.5 207v1M698.5 211v1M699.5 193v1M699.5 209v1M699.5 211v1"/></g>
<path d="M50.5 39.5H700.5V269.5H50.5ZM51 250.5h5M700 250.5h-5M51 231.5h5M700 231.5h-5M51 212.5h5M700 212.5h-5M51 193.5h5M700 193.5h-5M51 174.5h5M700 174.5h-5M51 154.5h5M700 154.5h-5M51 135.5h5M700 135.5h-5M51 116.5h5M700 116.5h-5M51 97.5h5M700 97.5h-5M51 78.5h5M700 78.5h-5M51 59.5h5M700 59.5h-5M158.5 269v-5M158.5 40v5M267.5 269v-5M267.5 40v5M375.5 269v-5M375.5 40v5M483.5 269v-5M483.5 40v5M592.5 269v-5M592.5 40v5" fill="none" stroke="#000" stroke-width="1"/>
<rect x="754.5" y="74.5" width="16" height="160" fill="url(#cb)" stroke="#000" stroke-width="1"/>
</g>
<text x="47" y="273.7" text-anchor="end">0</text>
<text x="47" y="254.7" text-anchor="end">1</text>
<text x="47" y="235.7" text-anchor="end">2</text>
<text x="47" y="216.7" text-anchor="end">3</text>
<text x="47" y="197.7" text-anchor="end">4</text>
<text x="47" y="178.7" text-anchor="end">5</text>
<text x="47" y="158.7" text-anchor="end">6</text>
<text x="47" y="139.7" text-anchor="end">7</text>
<text x="47" y="120.7" text-anchor="end">8</text>
<text x="47" y="101.7" text-anchor="end">9</text>
<text x="47" y="82.7" text-anchor="end">10</text>
<text x="47" y="63.7" text-anchor="end">11</text>
<text x="47" y="43.7" text-anchor="end">12</text>
<text x="49.7" y="284" text-anchor="middle">00:00</text>
<text x="158.0" y="284" text-anchor="middle">04:00</text>
<text x="266.4" y="284" text-anchor="middle">08:00</text>
<text x="374.7" y="284" text-anchor="middle">12:00</text>
<text x="483.0" y="284" text-anchor="middle">16:00</text>
<text x="591.4" y="284" text-anchor="middle">20:00</text>
<text x="699.7" y="284" text-anchor="middle">00:00</text>
<text x="343.55" y="302" textLength="25.70" lengthAdjust="spacingAndGlyphs">Time</text><text x="374.55" y="302" textLength="30.90" lengthAdjust="spacingAndGlyphs">(UTC)</text>
<text transform="translate(27.4 155.4) rotate(-90)" text-anchor="middle">Height (km)</text>
<g shape-rendering="crispEdges">
<g fill="none" stroke-width="1"><path stroke="#d6d6de" d="M55.5 521v3M79.5 509v1M79.5 518v1M79.5 529v2M91.5 510v1M110.5 510v2M332.5 536v1M353.5 527v1M361.5 531v1M362.5 532v2M365.5 532v2M368.5 528v3M369.5 529v1M525.5 530v2M526.5 530v2M526.5 533v1M554.5 532v1M566.5 531v1M567.5 535v1"/><path stroke="#bdbde2" d="M55.5 508v3M55.5 512v2M55.5 515v1M55.5 519v2M55.5 524v1M55.5 526v2M57.5 522v11M80.5 534v1M91.5 511v1M92.5 518v1M351.5 527v1M352.5 527v1M361.5 532v1M537.5 538v1M541.5 530v1M553.5 532v1M559.5 519v1M567.5 530v1M567.5 534v1"/><path stroke="#a4a4e6" d="M55.5 511v1M55.5 514v1M55.5 516v3M55.5 525v1M57.5 521v1M79.5 528v1M89.5 522v1M91.5 512v1M104.5 520v1M351.5 526v1M352.5 529v1M361.5 533v1M362.5 534v1M365.5 534v1M540.5 537v1M559.5 518v1M566.5 530v1M567.5 536v1"/><path stroke="#8b8bea" d="M63.5 511v1M78.5 518v1M78.5 531v1M79.5 508v1M79.5 517v1M79.5 531v1M89.5 523v1M92.5 517v1M108.5 517v1M110.5 512v1M111.5 506v1M113.5 527v2M114.5 518v1M331.5 535v2M336.5 528v1M352.5 526v1M353.5 526v1M353.5 528v2M362.5 531v1M363.5 533v1M365.5 531v1M369.5 527v2M369.5 532v1M593.5 496v1"/><path stroke="#7272ed" d="M65.5 513v1M74.5 535v1M78.5 516v1M78.5 519v1M78.5 524v4M78.5 529v2M89.5 521v1M89.5 530v1M92.5 520v1M104.5 519v1M108.5 516v1M110.5 513v1M110.5 523v2M111.5 504v1M114.5 513v1M114.5 519v1M115.5 507v1M189.5 518v1M195.5 534v1M235.5 456v3M249.5 483v1M253.5 476v1M321.5 536v1M336.5 529v1M337.5 528v1M338.5 528v1M351.5 528v1M352.5 528v1M363.5 534v2M366.5 533v1M368.5 527v1M525.5 533v1M540.5 531v1M553.5 533v3M554.5 534v1M578.5 503v1M607.5 524v1M609.5 526v1M610.5 523v1M648.5 462v1M694.5 462v1"/><path stroke="#5959f1" d="M64.5 519v1M66.5 518v1M78.5 507v1M78.5 517v1M79.5 516v1M79.5 532v1M88.5 518v1M90.5 521v2M91.5 509v1M92.5 512v1M95.5 519v1M99.5 507v1M104.5 521v1M110.5 521v1M111.5 515v2M113.5 518v1M235.5 455v1M238.5 457v1M286.5 490v1M294.5 528v1M294.5 530v1M332.5 535v1M332.5 537v1M333.5 532v1M337.5 529v1M337.5 533v2M338.5 527v1M341.5 527v1M353.5 537v1M362.5 535v1M369.5 530v2M371.5 535v1M525.5 532v1M538.5 538v1M540.5 530v1M541.5 538v1M549.5 530v1M552.5 532v1M554.5 533v1M554.5 535v1M558.5 497v2M558.5 520v2M559.5 520v1M574.5 490v1M578.5 484v2M586.5 466v1M609.5 522v2M609.5 525v1M611.5 523v1M648.5 463v1M669.5 473v1M669.5 524v1M692.5 466v1M694.5 474v1"/><path stroke="#4040f5" d="M52.5 531v1M65.5 512v1M71.5 523v1M74.5 534v1M78.5 528v1M78.5 532v1M79.5 504v1M79.5 515v1M79.5 527v1M80.5 531v1M81.5 512v1M88.5 517v1M89.5 520v1M89.5 531v1M91.5 515v1M91.5 517v1M92.5 510v1M92.5 519v1M104.5 503v1M104.5 518v1M108.5 518v1M109.5 510v1M111.5 505v1M111.5 528v1M112.5 504v1M112.5 506v1M113.5 513v1M113.5 517v1M113.5 520v1M114.5 517v1M114.5 527v1M115.5 523v1M146.5 520v2M189.5 517v1M195.5 535v1M235.5 461v1M236.5 456v2M236.5 468v1M237.5 456v2M238.5 456v1M247.5 481v1M248.5 481v1M249.5 481v2M253.5 477v1M255.5 477v1M271.5 533v2M286.5 491v2M287.5 490v1M295.5 534v1M314.5 525v1M325.5 533v1M332.5 528v1M332.5 533v2M336.5 537v1M337.5 531v2M342.5 527v1M344.5 536v1M352.5 530v1M353.5 534v3M361.5 530v1M363.5 537v1M365.5 424v3M366.5 532v1M366.5 534v1M368.5 531v1M369.5 533v1M370.5 422v1M370.5 424v1M371.5 537v1M527.5 531v1M527.5 535v1M534.5 538v1M537.5 530v1M537.5 537v1M538.5 536v1M541.5 531v1M544.5 536v2M555.5 532v1M556.5 532v1M558.5 519v1M559.5 492v1M559.5 517v1M564.5 522v1M567.5 524v2M567.5 527v1M567.5 529v1M567.5 537v1M578.5 486v1M578.5 499v3M578.5 505v1M579.5 494v1M593.5 462v1M593.5 493v3M608.5 478v1M608.5 525v1M608.5 530v1M609.5 521v1M609.5 527v1M611.5 484v1M611.5 486v1M670.5 473v1M694.5 477v1"/><path stroke="#2727f9" d="M52.5 530v1M65.5 509v1M65.5 514v1M70.5 514v1M78.5 523v1M78.5 533v1M79.5 507v1M79.5 510v1M79.5 519v1M80.5 509v1M83.5 513v1M83.5 520v2M88.5 516v1M88.5 519v1M91.5 513v1M91.5 516v1M91.5 518v1M92.5 511v1M92.5 513v1M93.5 518v1M95.5 520v1M104.5 517v1M110.5 526v1M110.5 528v1M111.5 517v1M113.5 516v1M113.5 521v2M113.5 529v1M115.5 509v1M116.5 507v1M146.5 522v1M189.5 519v2M194.5 533v1M195.5 536v1M200.5 526v2M200.5 529v1M234.5 456v1M234.5 458v1M235.5 454v1M236.5 469v1M237.5 470v1M238.5 458v1M247.5 476v1M249.5 480v1M253.5 464v1M284.5 481v1M287.5 491v1M287.5 493v1M314.5 524v1M314.5 526v1M325.5 528v1M325.5 535v1M331.5 534v1M332.5 530v1M333.5 535v1M338.5 529v1M350.5 536v1M353.5 525v1M353.5 533v1M361.5 534v1M363.5 425v1M363.5 536v1M366.5 424v3M368.5 535v1M368.5 537v1M370.5 423v1M370.5 425v1M370.5 430v1M534.5 530v1M535.5 530v2M538.5 537v1M544.5 538v1M554.5 531v1M555.5 530v1M561.5 496v1M564.5 514v1M564.5 516v1M565.5 531v1M566.5 528v2M566.5 533v1M567.5 528v1M567.5 531v1M567.5 533v1M568.5 530v1M578.5 467v1M578.5 489v1M578.5 511v1M579.5 488v1M579.5 493v1M586.5 490v2M592.5 500v1M593.5 497v1M608.5 479v1M610.5 526v1M611.5 482v1M611.5 485v1M612.5 480v2M618.5 446v2M624.5 489v1M642.5 521v1M642.5 523v1M643.5 521v1M644.5 525v1M648.5 464v2M650.5 527v1M652.5 527v1M692.5 463v1M694.5 461v1M694.5 478v1M694.5 485v1M695.5 460v1"/><path stroke="#0e0efd" d="M53.5 530v1M53.5 538v1M65.5 508v1M65.5 518v1M66.5 513v1M66.5 516v1M66.5 519v1M71.5 524v2M72.5 523v2M78.5 508v1M78.5 514v2M78.5 520v1M79.5 511v1M80.5 529v1M81.5 511v1M83.5 528v1M84.5 521v2M89.5 515v1M89.5 524v1M90.5 523v1M92.5 515v1M93.5 517v1M95.5 518v1M95.5 528v1M98.5 510v1M98.5 513v1M104.5 527v1M108.5 519v1M110.5 522v1M110.5 525v1M110.5 527v1M110.5 530v1M111.5 510v1M113.5 524v1M113.5 526v1M114.5 514v1M114.5 520v2M114.5 524v1M115.5 506v1M115.5 510v1M115.5 512v1M115.5 529v1M189.5 521v1M192.5 529v1M193.5 533v1M194.5 534v1M195.5 533v1M200.5 528v1M234.5 461v1M234.5 464v1M234.5 467v1M235.5 459v1M236.5 453v3M238.5 455v1M243.5 479v1M246.5 467v1M246.5 481v1M247.5 471v1M247.5 479v2M248.5 471v4M248.5 476v1M249.5 476v4M253.5 466v1M253.5 470v1M286.5 488v1M294.5 529v1M294.5 532v2M314.5 532v1M322.5 536v1M332.5 527v1M333.5 537v1M335.5 537v1M337.5 530v1M339.5 535v1M341.5 532v1M341.5 534v2M344.5 531v1M349.5 535v1M350.5 535v1M352.5 525v1M352.5 532v1M355.5 529v1M362.5 426v1M362.5 428v1M362.5 530v1M362.5 536v1M363.5 424v1M363.5 426v1M363.5 428v1M363.5 532v1M365.5 427v2M366.5 422v1M366.5 427v1M368.5 536v1M369.5 445v1M370.5 431v1M371.5 536v1M375.5 423v1M375.5 425v1M521.5 534v1M527.5 530v1M537.5 531v1M540.5 536v1M540.5 538v1M544.5 535v1M551.5 532v1M555.5 531v1M556.5 501v1M558.5 496v1M558.5 499v1M558.5 518v1M558.5 534v1M558.5 537v1M559.5 491v1M559.5 497v1M559.5 512v1M562.5 496v1M564.5 511v1M564.5 515v1M564.5 521v1M564.5 525v1M565.5 533v1M566.5 532v1M566.5 534v1M574.5 489v1M578.5 473v3M578.5 483v1M578.5 488v1M578.5 510v1M579.5 468v1M579.5 489v1M579.5 491v1M584.5 529v1M586.5 465v1M586.5 467v1M593.5 461v1M593.5 463v2M593.5 488v1M593.5 491v1M604.5 523v1M610.5 488v1M611.5 481v1M611.5 487v1M611.5 489v1M611.5 522v1M611.5 531v1M612.5 482v1M612.5 485v1M613.5 525v1M616.5 447v1M618.5 444v2M618.5 454v1M622.5 494v1M642.5 525v1M643.5 525v1M650.5 528v1M669.5 474v1M670.5 474v1M670.5 482v1M671.5 525v1M684.5 463v1M685.5 467v1M685.5 483v1M694.5 463v1M694.5 473v1M694.5 475v2M695.5 475v1"/><path stroke="#000cf7" d="M52.5 532v1M53.5 532v2M53.5 535v2M64.5 511v1M64.5 518v1M65.5 516v2M66.5 521v1M70.5 512v2M72.5 525v1M73.5 507v1M74.5 507v1M74.5 509v1M77.5 517v1M78.5 521v2M80.5 510v1M80.5 518v1M80.5 528v1M80.5 530v1M80.5 532v1M80.5 535v1M81.5 507v1M81.5 510v1M81.5 514v1M81.5 520v2M81.5 534v1M83.5 523v1M83.5 527v1M84.5 523v1M88.5 529v2M89.5 510v1M90.5 515v1M94.5 524v1M94.5 529v2M99.5 509v1M99.5 524v1M104.5 505v1M105.5 521v1M107.5 517v1M110.5 508v2M110.5 529v1M111.5 507v1M112.5 505v1M112.5 515v1M113.5 514v1M113.5 523v1M114.5 503v1M114.5 515v1M115.5 528v1M117.5 520v1M118.5 520v1M118.5 533v1M146.5 519v1M190.5 515v1M193.5 531v2M194.5 525v1M194.5 527v1M194.5 532v1M194.5 535v1M195.5 529v3M200.5 525v1M200.5 530v1M234.5 454v2M234.5 457v1M234.5 459v2M234.5 463v1M235.5 460v1M236.5 459v1M237.5 453v1M237.5 455v1M237.5 468v2M240.5 472v1M245.5 467v1M246.5 480v1M247.5 477v1M248.5 475v1M248.5 477v1M250.5 476v1M253.5 469v1M253.5 473v1M254.5 464v1M263.5 474v1M287.5 482v1M287.5 492v1M288.5 490v1M294.5 484v1M294.5 531v1M295.5 533v1M313.5 525v1M314.5 523v1M314.5 531v1M319.5 529v2M320.5 529v2M325.5 530v1M325.5 534v1M326.5 528v1M333.5 529v1M336.5 530v1M341.5 537v1M342.5 528v1M347.5 536v1M348.5 537v1M349.5 536v1M352.5 531v1M353.5 522v1M354.5 527v1M355.5 530v2M364.5 421v1M364.5 430v1M364.5 432v2M365.5 421v1M366.5 420v2M366.5 535v1M367.5 424v2M368.5 534v1M369.5 444v1M369.5 534v1M369.5 536v1M370.5 427v1M375.5 426v3M521.5 531v1M526.5 534v1M526.5 536v1M527.5 533v1M527.5 537v1M533.5 538v1M534.5 531v1M537.5 535v1M539.5 537v2M549.5 536v1M552.5 534v1M553.5 530v2M556.5 500v1M558.5 488v2M558.5 522v1M558.5 536v1M558.5 538v1M559.5 484v1M559.5 493v3M559.5 509v1M559.5 515v2M559.5 521v1M560.5 519v1M561.5 523v1M562.5 495v1M562.5 526v1M564.5 513v1M564.5 527v1M564.5 532v1M564.5 538v1M565.5 514v1M567.5 526v1M568.5 531v1M573.5 490v1M573.5 492v1M574.5 492v1M575.5 497v1M575.5 527v1M578.5 472v1M578.5 491v2M578.5 494v1M578.5 509v1M579.5 469v1M579.5 486v2M579.5 490v1M579.5 495v2M579.5 504v1M580.5 481v1M583.5 529v1M584.5 502v2M587.5 475v1M588.5 500v1M589.5 520v1M592.5 463v1M592.5 491v1M592.5 499v1M593.5 460v1M593.5 487v1M593.5 492v1M603.5 524v1M604.5 525v1M606.5 530v1M607.5 480v1M607.5 527v1M608.5 480v1M609.5 483v1M609.5 486v1M609.5 528v1M610.5 482v1M610.5 486v2M610.5 525v1M611.5 529v1M617.5 446v2M618.5 443v1M618.5 455v1M619.5 489v2M621.5 492v1M622.5 492v1M623.5 487v3M624.5 490v1M642.5 524v1M644.5 520v1M644.5 529v1M649.5 464v1M649.5 466v2M652.5 528v1M653.5 525v1M669.5 525v2M670.5 475v1M670.5 481v1M670.5 525v2M672.5 526v2M685.5 482v1M692.5 464v2M693.5 462v1M697.5 478v1M698.5 484v1"/><path stroke="#0029e3" d="M51.5 524v2M52.5 537v2M53.5 531v1M53.5 534v1M65.5 510v1M65.5 515v1M66.5 514v1M66.5 517v1M66.5 520v1M67.5 507v1M70.5 521v1M71.5 526v1M74.5 508v1M75.5 514v1M76.5 514v1M77.5 516v1M77.5 518v1M78.5 505v1M78.5 509v1M78.5 513v1M79.5 505v1M79.5 520v1M80.5 511v1M80.5 517v1M83.5 512v1M83.5 522v1M83.5 526v1M84.5 513v1M88.5 524v1M89.5 517v2M89.5 525v1M89.5 528v1M90.5 510v1M92.5 516v1M93.5 516v1M93.5 527v1M94.5 527v2M95.5 517v1M99.5 508v1M104.5 522v1M104.5 524v3M107.5 516v1M108.5 515v1M110.5 505v1M110.5 518v1M111.5 508v1M112.5 516v1M113.5 515v1M114.5 508v1M114.5 522v1M115.5 505v1M115.5 508v1M115.5 517v1M115.5 522v1M118.5 531v2M190.5 514v1M192.5 530v2M193.5 534v1M194.5 526v1M195.5 532v1M203.5 525v2M233.5 455v1M234.5 453v1M234.5 462v1M235.5 463v1M235.5 466v1M236.5 461v1M236.5 467v1M237.5 466v2M238.5 454v1M239.5 462v1M239.5 464v1M240.5 471v1M240.5 473v1M241.5 457v1M241.5 462v2M243.5 474v1M244.5 459v1M245.5 473v2M246.5 468v1M246.5 473v2M246.5 482v1M247.5 473v2M247.5 478v1M248.5 478v3M249.5 473v1M249.5 475v1M250.5 477v2M251.5 474v1M252.5 473v4M253.5 463v1M253.5 465v1M253.5 467v1M253.5 471v1M254.5 502v1M258.5 517v1M261.5 494v1M263.5 471v2M271.5 531v2M272.5 533v1M284.5 478v1M287.5 480v1M287.5 483v1M288.5 489v1M292.5 491v1M295.5 480v2M295.5 531v1M296.5 483v1M313.5 526v1M314.5 518v1M314.5 520v1M314.5 527v1M315.5 522v1M315.5 528v3M319.5 527v2M321.5 537v1M326.5 530v1M330.5 524v1M332.5 531v1M335.5 529v1M337.5 535v1M338.5 530v2M338.5 535v1M340.5 537v1M344.5 528v1M350.5 529v1M350.5 537v1M351.5 529v1M351.5 532v1M353.5 531v2M354.5 534v2M356.5 466v1M360.5 536v2M361.5 529v1M362.5 466v1M362.5 468v1M362.5 529v1M363.5 531v1M364.5 422v1M364.5 424v6M364.5 431v1M364.5 536v1M365.5 535v1M367.5 422v1M367.5 428v1M369.5 537v1M371.5 534v1M372.5 445v1M378.5 419v2M378.5 423v1M517.5 532v1M521.5 530v1M521.5 538v1M527.5 536v1M537.5 532v1M537.5 536v1M538.5 535v1M540.5 532v1M541.5 529v1M541.5 537v1M551.5 534v1M552.5 533v1M554.5 537v1M556.5 499v1M556.5 502v1M556.5 527v1M557.5 487v1M557.5 498v1M558.5 487v1M558.5 529v1M558.5 532v2M558.5 535v1M559.5 500v1M559.5 513v1M560.5 515v1M560.5 517v1M561.5 504v1M561.5 515v1M562.5 523v1M562.5 528v1M563.5 527v1M564.5 509v2M564.5 520v1M564.5 524v1M564.5 537v1M565.5 516v1M565.5 518v1M566.5 521v2M566.5 536v1M568.5 529v1M568.5 534v1M574.5 488v1M574.5 493v1M575.5 481v1M575.5 493v1M575.5 528v1M578.5 468v1M578.5 487v1M578.5 493v1M578.5 497v1M578.5 508v1M579.5 473v1M579.5 503v1M580.5 480v1M580.5 486v1M580.5 488v1M583.5 484v1M584.5 528v1M585.5 491v1M586.5 477v3M586.5 493v1M587.5 468v1M587.5 472v1M587.5 474v1M588.5 491v1M589.5 518v2M591.5 505v1M592.5 464v1M592.5 492v1M592.5 498v1M592.5 523v2M593.5 459v1M593.5 465v1M593.5 482v1M593.5 485v2M593.5 490v1M593.5 498v1M594.5 487v1M594.5 495v2M604.5 526v1M605.5 530v1M606.5 480v1M606.5 482v1M606.5 522v1M606.5 528v1M607.5 475v1M607.5 482v1M607.5 487v2M607.5 528v1M608.5 476v1M608.5 489v2M608.5 523v1M608.5 527v1M608.5 529v1M609.5 482v1M609.5 484v1M609.5 488v2M610.5 480v2M610.5 484v1M611.5 479v1M613.5 480v3M615.5 460v2M615.5 463v2M616.5 446v1M617.5 456v1M618.5 456v1M619.5 488v1M623.5 486v1M623.5 491v1M624.5 486v2M644.5 522v3M644.5 527v1M648.5 459v2M648.5 466v1M651.5 527v1M659.5 526v1M659.5 528v1M668.5 481v1M668.5 528v1M669.5 528v1M670.5 476v1M670.5 528v1M673.5 476v1M674.5 475v1M684.5 462v1M685.5 477v1M685.5 480v1M685.5 485v1M686.5 470v1M688.5 481v1M692.5 462v1M694.5 464v1M694.5 479v1M695.5 461v1M695.5 478v4M697.5 480v1M698.5 478v2"/><path stroke="#0046d0" d="M51.5 526v1M52.5 536v1M53.5 537v1M58.5 512v1M65.5 519v1M66.5 515v1M70.5 511v1M70.5 520v1M73.5 528v1M74.5 514v1M75.5 515v1M75.5 523v1M77.5 524v4M79.5 524v1M79.5 526v1M80.5 505v2M80.5 508v1M80.5 516v1M81.5 506v1M81.5 508v2M81.5 515v1M81.5 522v1M81.5 526v1M82.5 510v4M83.5 519v1M83.5 524v1M83.5 529v1M84.5 520v1M85.5 512v2M89.5 514v1M91.5 508v1M93.5 511v1M93.5 515v1M93.5 524v1M94.5 510v1M94.5 517v2M94.5 525v2M95.5 521v1M96.5 519v1M98.5 511v1M98.5 525v1M100.5 507v1M104.5 504v1M104.5 523v1M105.5 520v1M107.5 518v1M109.5 524v1M110.5 520v1M111.5 509v1M114.5 523v1M115.5 518v1M115.5 526v1M116.5 509v1M117.5 521v1M118.5 530v1M138.5 517v1M139.5 519v1M146.5 518v1M189.5 522v1M192.5 528v1M192.5 532v1M193.5 530v1M193.5 535v2M194.5 536v1M195.5 528v1M232.5 454v1M233.5 454v1M233.5 456v1M233.5 464v1M234.5 465v2M234.5 468v1M235.5 467v1M236.5 460v1M237.5 454v1M237.5 459v1M237.5 465v1M238.5 459v1M238.5 464v1M239.5 455v1M239.5 457v1M239.5 463v1M239.5 466v3M240.5 470v1M240.5 475v1M241.5 460v2M241.5 464v3M241.5 475v2M242.5 457v1M242.5 475v1M243.5 473v1M243.5 478v1M244.5 460v1M244.5 474v1M245.5 468v1M245.5 475v1M246.5 469v1M246.5 476v1M246.5 478v1M247.5 466v2M247.5 469v2M247.5 472v1M248.5 470v1M249.5 461v1M249.5 472v1M250.5 461v1M250.5 472v2M250.5 479v1M251.5 472v1M251.5 475v1M252.5 477v1M253.5 462v1M254.5 462v1M254.5 465v1M254.5 469v3M254.5 473v1M255.5 469v2M255.5 475v2M256.5 470v1M260.5 471v1M263.5 473v1M281.5 476v1M287.5 473v1M287.5 481v1M288.5 486v1M289.5 491v1M291.5 492v1M293.5 492v1M294.5 487v1M295.5 478v2M295.5 483v1M296.5 481v1M314.5 533v1M315.5 523v1M325.5 536v1M326.5 527v1M331.5 537v1M332.5 529v1M333.5 530v1M333.5 533v2M334.5 535v1M339.5 527v2M339.5 533v2M339.5 536v1M340.5 527v1M341.5 528v1M341.5 533v1M343.5 536v1M344.5 537v1M347.5 534v2M348.5 474v1M350.5 530v1M351.5 530v2M351.5 533v1M352.5 533v1M352.5 537v1M354.5 526v1M354.5 533v1M354.5 537v1M355.5 537v1M356.5 529v1M357.5 536v1M360.5 461v1M361.5 465v1M362.5 458v1M362.5 467v1M364.5 537v1M367.5 419v1M367.5 421v1M367.5 429v1M369.5 535v1M370.5 428v2M378.5 421v2M381.5 532v1M392.5 532v1M403.5 526v1M403.5 528v1M519.5 536v1M525.5 535v2M527.5 538v1M534.5 537v1M536.5 531v1M537.5 533v1M540.5 533v1M541.5 522v1M541.5 528v1M550.5 534v1M551.5 533v1M553.5 506v1M554.5 538v1M555.5 533v1M556.5 439v3M556.5 489v1M556.5 496v3M556.5 526v1M556.5 528v2M557.5 488v1M557.5 497v1M557.5 526v1M558.5 504v1M558.5 523v1M558.5 527v1M559.5 490v1M559.5 498v1M559.5 508v1M559.5 510v1M559.5 514v1M560.5 507v1M560.5 512v1M560.5 518v1M560.5 520v1M561.5 497v1M561.5 505v1M561.5 524v1M562.5 497v1M562.5 524v2M562.5 529v1M563.5 481v2M564.5 512v1M564.5 519v1M564.5 526v1M564.5 533v2M565.5 511v1M565.5 513v1M565.5 515v1M565.5 517v1M565.5 528v3M565.5 532v1M565.5 534v1M565.5 536v1M566.5 520v1M566.5 523v1M567.5 532v1M568.5 524v2M568.5 527v2M568.5 535v1M573.5 491v1M575.5 491v1M575.5 498v3M576.5 490v1M576.5 497v1M579.5 467v1M579.5 492v1M579.5 501v1M579.5 505v1M580.5 483v1M580.5 487v1M580.5 489v2M581.5 490v1M581.5 492v1M581.5 504v1M583.5 487v1M583.5 528v1M584.5 487v1M585.5 490v1M586.5 489v1M586.5 492v1M586.5 496v1M586.5 523v1M587.5 467v1M587.5 477v2M587.5 490v1M588.5 490v1M588.5 492v2M591.5 484v1M591.5 498v3M592.5 457v2M592.5 501v2M593.5 458v1M593.5 484v1M594.5 462v1M594.5 494v1M594.5 497v1M594.5 503v1M594.5 505v2M602.5 480v1M603.5 528v1M604.5 524v1M604.5 527v1M606.5 488v1M607.5 485v2M608.5 477v1M608.5 481v1M608.5 484v1M608.5 486v1M608.5 528v1M609.5 478v1M609.5 480v2M609.5 487v1M611.5 525v1M611.5 530v1M612.5 528v1M613.5 483v1M615.5 462v1M616.5 445v1M616.5 458v1M617.5 444v2M617.5 457v1M618.5 457v2M618.5 480v1M620.5 488v2M621.5 490v2M621.5 493v1M622.5 481v1M622.5 486v1M622.5 491v1M623.5 483v1M624.5 485v1M633.5 525v1M644.5 526v1M644.5 530v1M648.5 467v1M649.5 461v1M649.5 463v1M652.5 524v1M653.5 528v1M659.5 527v1M668.5 526v1M669.5 482v1M673.5 475v1M684.5 464v1M684.5 482v1M685.5 484v1M686.5 468v2M687.5 482v1M688.5 483v1M689.5 474v1M694.5 465v1M695.5 476v2M696.5 461v1M696.5 466v1M697.5 479v1M698.5 476v1M698.5 480v1M698.5 487v1"/><path stroke="#0063bc" d="M51.5 523v1M52.5 533v1M58.5 513v3M64.5 512v1M64.5 516v2M67.5 519v1M70.5 515v1M72.5 522v1M74.5 513v1M74.5 533v1M75.5 525v1M78.5 512v1M79.5 512v3M79.5 521v1M80.5 519v1M81.5 516v1M81.5 519v1M81.5 523v1M82.5 505v1M83.5 511v1M84.5 527v3M85.5 514v2M85.5 524v1M87.5 528v1M89.5 516v1M89.5 519v1M90.5 509v1M90.5 514v1M91.5 519v2M92.5 514v1M92.5 521v1M93.5 512v1M93.5 514v1M93.5 525v2M94.5 511v1M94.5 516v1M95.5 526v1M99.5 522v1M100.5 506v1M105.5 512v1M105.5 522v1M109.5 511v1M109.5 515v1M109.5 523v1M110.5 515v1M111.5 511v1M111.5 518v1M111.5 526v1M112.5 510v1M114.5 505v1M114.5 507v1M114.5 525v2M115.5 511v1M115.5 513v1M115.5 516v1M117.5 514v1M118.5 522v1M118.5 528v1M138.5 516v1M190.5 513v1M190.5 523v1M191.5 521v1M192.5 526v2M193.5 525v2M193.5 529v1M194.5 531v1M195.5 527v1M203.5 527v1M233.5 453v1M235.5 453v1M235.5 462v1M235.5 464v1M236.5 466v1M237.5 464v1M238.5 453v1M238.5 465v3M239.5 454v1M239.5 460v2M239.5 469v1M240.5 476v1M241.5 458v1M241.5 468v1M241.5 470v1M244.5 458v1M245.5 476v1M245.5 479v1M246.5 466v1M246.5 471v2M246.5 475v1M247.5 461v2M247.5 468v1M247.5 475v1M248.5 462v1M248.5 466v4M249.5 462v1M249.5 471v1M249.5 474v1M250.5 462v2M250.5 475v1M251.5 471v1M251.5 476v2M252.5 468v3M253.5 472v1M253.5 474v1M254.5 463v1M255.5 472v1M255.5 474v1M256.5 471v1M259.5 469v2M264.5 466v2M265.5 467v1M266.5 468v1M281.5 477v1M285.5 481v1M286.5 484v1M286.5 487v1M287.5 466v1M287.5 472v1M287.5 479v1M287.5 484v1M287.5 489v1M288.5 485v1M290.5 483v1M290.5 490v2M291.5 490v2M292.5 490v1M293.5 486v1M294.5 485v1M296.5 479v2M296.5 484v1M313.5 523v1M314.5 522v1M314.5 529v1M315.5 524v1M315.5 527v1M315.5 531v1M315.5 534v1M319.5 531v1M321.5 529v1M325.5 532v1M326.5 533v1M328.5 485v1M328.5 537v1M329.5 537v1M331.5 528v2M331.5 533v1M332.5 532v1M338.5 526v1M340.5 536v1M344.5 525v1M344.5 530v1M344.5 533v3M347.5 537v1M348.5 472v1M348.5 532v1M352.5 465v1M352.5 518v1M353.5 521v1M353.5 523v1M353.5 530v1M354.5 536v1M355.5 532v1M355.5 536v1M356.5 467v1M358.5 464v1M359.5 464v1M360.5 462v1M360.5 534v1M361.5 467v1M361.5 535v1M363.5 530v1M364.5 535v1M365.5 537v1M366.5 531v1M367.5 420v1M368.5 532v2M370.5 532v1M371.5 529v1M371.5 533v1M382.5 532v1M392.5 533v1M403.5 527v1M403.5 533v1M521.5 537v1M522.5 534v1M525.5 537v2M531.5 532v1M540.5 528v2M541.5 523v1M541.5 526v2M541.5 532v1M541.5 536v1M543.5 536v2M549.5 535v1M550.5 530v1M550.5 535v1M552.5 506v1M553.5 503v1M553.5 537v1M554.5 530v1M555.5 534v1M556.5 488v1M556.5 490v1M556.5 503v1M556.5 519v1M557.5 529v1M558.5 486v1M558.5 490v2M558.5 500v1M558.5 503v1M558.5 507v1M558.5 517v1M558.5 526v1M558.5 528v1M558.5 530v1M559.5 482v1M559.5 496v1M559.5 507v1M559.5 531v1M560.5 490v2M560.5 497v1M560.5 513v1M561.5 495v1M561.5 503v1M561.5 506v1M561.5 514v1M562.5 498v1M562.5 527v1M563.5 480v1M563.5 516v1M563.5 522v1M563.5 525v1M564.5 508v1M564.5 523v1M564.5 529v1M565.5 519v3M566.5 537v1M574.5 494v1M575.5 482v2M575.5 492v1M575.5 496v1M576.5 491v1M578.5 469v1M578.5 498v1M579.5 470v1M579.5 499v1M579.5 509v2M580.5 484v2M580.5 492v1M581.5 471v1M581.5 488v1M581.5 502v1M582.5 502v1M583.5 489v2M584.5 494v2M584.5 504v1M585.5 466v1M585.5 493v1M586.5 468v1M586.5 472v1M586.5 485v1M587.5 466v1M587.5 469v3M588.5 472v3M588.5 502v1M589.5 467v1M589.5 491v1M590.5 520v1M592.5 482v1M592.5 485v1M592.5 490v1M592.5 493v1M592.5 525v1M593.5 457v1M593.5 489v1M593.5 499v2M593.5 530v1M594.5 482v1M594.5 485v2M594.5 504v1M606.5 483v2M607.5 478v1M608.5 485v1M608.5 521v1M609.5 479v1M609.5 529v1M610.5 529v1M611.5 528v1M616.5 443v1M616.5 459v1M617.5 459v1M618.5 482v2M618.5 485v1M619.5 482v2M619.5 487v1M620.5 490v1M621.5 489v1M621.5 494v1M622.5 482v1M622.5 485v1M622.5 489v1M623.5 482v1M624.5 484v1M633.5 524v1M643.5 526v1M649.5 462v1M650.5 464v1M653.5 466v1M654.5 524v1M659.5 524v1M669.5 475v1M673.5 477v1M673.5 524v1M675.5 479v1M684.5 480v1M684.5 483v1M685.5 466v1M685.5 487v1M686.5 483v1M688.5 482v1M691.5 462v1M692.5 481v1M693.5 477v1M693.5 480v1M693.5 484v1M694.5 480v1M695.5 465v1M695.5 482v1M696.5 462v1M697.5 477v1M698.5 467v2M699.5 483v1"/><path stroke="#0080a9" d="M51.5 522v1M51.5 527v1M52.5 535v1M64.5 510v1M64.5 513v1M67.5 513v1M67.5 520v2M70.5 522v1M71.5 522v1M72.5 526v1M73.5 509v1M74.5 515v1M75.5 508v1M75.5 513v1M75.5 524v1M76.5 516v1M76.5 525v1M79.5 523v1M80.5 520v2M80.5 527v1M81.5 518v1M81.5 533v1M82.5 507v1M82.5 516v1M84.5 514v1M84.5 526v1M85.5 522v1M87.5 517v1M87.5 527v1M88.5 515v1M88.5 521v1M89.5 512v1M89.5 529v1M90.5 516v1M90.5 520v1M93.5 510v1M94.5 512v2M94.5 515v1M98.5 524v1M98.5 526v1M99.5 521v1M99.5 523v1M101.5 511v2M103.5 503v1M104.5 516v1M105.5 519v1M105.5 524v1M108.5 508v3M109.5 513v1M110.5 506v1M111.5 512v1M111.5 523v1M111.5 525v1M112.5 507v1M113.5 512v1M114.5 506v1M114.5 511v2M115.5 520v1M115.5 524v1M115.5 527v1M117.5 519v1M140.5 520v1M190.5 516v1M190.5 521v2M191.5 526v2M192.5 534v1M194.5 528v3M233.5 457v2M233.5 463v1M233.5 465v1M236.5 462v2M239.5 456v1M240.5 465v1M240.5 467v1M241.5 459v1M241.5 467v1M241.5 469v1M241.5 471v1M241.5 474v1M242.5 466v1M242.5 468v2M242.5 473v1M243.5 467v1M243.5 476v2M244.5 461v1M244.5 475v2M245.5 466v1M245.5 469v1M245.5 472v1M245.5 477v1M246.5 470v1M246.5 479v1M247.5 463v1M248.5 460v1M248.5 463v1M249.5 460v1M249.5 463v2M250.5 471v1M252.5 461v1M252.5 471v2M252.5 478v1M254.5 472v1M255.5 471v1M256.5 474v1M258.5 473v1M261.5 474v1M263.5 466v1M265.5 466v1M266.5 467v1M270.5 525v1M285.5 470v1M285.5 480v1M286.5 485v1M287.5 471v1M287.5 485v1M287.5 488v1M288.5 473v1M288.5 483v1M288.5 487v1M289.5 474v1M289.5 490v1M290.5 484v1M291.5 489v1M291.5 494v2M292.5 480v1M293.5 495v1M294.5 490v2M294.5 534v1M295.5 528v1M295.5 532v1M296.5 482v1M313.5 524v1M314.5 521v1M314.5 530v1M314.5 534v2M315.5 533v1M315.5 536v2M319.5 532v1M320.5 536v1M321.5 535v1M322.5 530v1M322.5 535v1M323.5 529v1M325.5 529v1M328.5 486v1M328.5 531v1M328.5 533v1M330.5 538v1M333.5 531v1M334.5 532v1M335.5 538v1M336.5 536v1M338.5 533v2M338.5 536v1M340.5 535v1M341.5 529v1M343.5 537v1M344.5 514v1M344.5 516v1M344.5 526v1M345.5 466v1M348.5 473v1M349.5 471v1M350.5 520v1M350.5 528v1M351.5 520v1M352.5 464v1M352.5 520v1M352.5 536v1M353.5 524v1M356.5 464v2M356.5 530v3M356.5 535v2M357.5 464v1M359.5 461v2M359.5 465v1M360.5 468v1M360.5 471v1M361.5 459v1M361.5 466v1M365.5 526v1M365.5 536v1M367.5 530v1M370.5 531v1M370.5 533v1M371.5 530v1M371.5 532v1M381.5 531v1M382.5 531v1M383.5 534v2M392.5 531v1M392.5 534v1M402.5 527v1M517.5 531v1M518.5 532v1M518.5 538v1M526.5 511v1M531.5 531v1M535.5 514v2M540.5 488v1M540.5 520v1M540.5 527v1M540.5 534v2M541.5 521v1M541.5 524v2M545.5 516v2M549.5 529v1M549.5 534v1M549.5 537v1M551.5 535v1M552.5 505v1M552.5 538v1M553.5 482v1M553.5 501v1M553.5 538v1M556.5 517v2M556.5 525v1M556.5 530v2M556.5 533v1M557.5 489v1M557.5 499v1M557.5 504v2M557.5 520v1M557.5 527v2M557.5 534v3M558.5 494v2M558.5 501v2M558.5 505v2M558.5 509v2M558.5 516v1M558.5 524v2M559.5 483v1M559.5 485v1M559.5 487v1M559.5 489v1M559.5 501v1M559.5 511v1M559.5 530v1M560.5 482v1M560.5 492v2M560.5 506v1M560.5 516v1M561.5 513v1M561.5 522v1M561.5 526v1M561.5 529v1M563.5 479v1M563.5 483v1M563.5 505v1M563.5 514v2M563.5 524v1M563.5 528v1M564.5 479v3M564.5 517v1M564.5 528v1M564.5 531v1M565.5 512v1M565.5 522v1M566.5 527v1M567.5 488v1M568.5 526v1M568.5 536v1M573.5 489v1M573.5 527v1M574.5 495v1M575.5 470v2M575.5 480v1M575.5 484v1M575.5 490v1M576.5 468v1M576.5 482v2M576.5 492v1M578.5 470v1M578.5 495v2M579.5 466v1M579.5 472v1M579.5 474v2M579.5 497v1M579.5 500v1M580.5 491v1M580.5 493v1M580.5 499v3M581.5 468v1M581.5 478v1M581.5 493v2M581.5 496v1M582.5 489v2M582.5 499v1M583.5 483v1M583.5 486v1M583.5 491v1M583.5 494v3M583.5 525v1M584.5 481v2M584.5 488v1M584.5 496v1M584.5 501v1M584.5 518v1M585.5 467v1M585.5 486v1M586.5 476v1M586.5 484v1M586.5 488v1M586.5 503v1M587.5 465v1M587.5 488v1M587.5 492v1M587.5 498v1M588.5 483v1M589.5 466v1M589.5 489v1M589.5 510v2M589.5 527v1M590.5 460v1M590.5 467v1M590.5 517v1M590.5 519v1M591.5 482v2M591.5 485v1M591.5 503v1M592.5 447v1M592.5 465v2M592.5 475v1M592.5 481v1M592.5 483v2M592.5 489v1M592.5 497v1M592.5 522v1M593.5 481v1M593.5 483v1M594.5 498v1M598.5 470v2M603.5 529v1M606.5 486v2M607.5 522v1M608.5 482v2M612.5 527v1M616.5 460v3M617.5 458v1M618.5 479v1M618.5 481v1M619.5 485v2M620.5 483v2M620.5 486v1M621.5 487v1M621.5 495v1M621.5 497v1M622.5 483v1M622.5 488v1M624.5 483v1M633.5 526v1M648.5 458v1M655.5 527v1M667.5 524v1M668.5 473v1M668.5 475v1M668.5 524v1M669.5 480v1M669.5 483v1M670.5 477v1M670.5 479v1M670.5 483v1M674.5 480v1M680.5 475v1M684.5 466v1M684.5 479v1M685.5 460v1M685.5 478v2M685.5 488v1M685.5 491v2M686.5 456v1M686.5 467v1M687.5 481v1M687.5 483v1M688.5 469v2M688.5 484v1M689.5 473v1M690.5 461v1M690.5 474v1M690.5 530v1M691.5 464v1M691.5 466v1M693.5 464v2M693.5 474v2M694.5 481v1M695.5 483v1M696.5 464v2M696.5 467v1M696.5 488v3M697.5 487v1M698.5 477v1M699.5 482v1"/><path stroke="#009b94" d="M51.5 521v1M67.5 506v1M70.5 516v1M70.5 519v1M71.5 515v2M71.5 528v1M72.5 514v1M73.5 520v1M73.5 526v2M74.5 516v1M74.5 519v1M74.5 521v1M76.5 513v1M76.5 515v1M76.5 528v1M77.5 506v1M77.5 519v1M78.5 511v1M80.5 507v1M80.5 512v1M80.5 522v1M81.5 532v1M81.5 535v2M82.5 509v1M82.5 514v2M83.5 514v1M83.5 518v1M84.5 511v1M84.5 525v1M85.5 516v1M85.5 523v1M86.5 521v1M88.5 520v1M89.5 511v1M89.5 513v1M90.5 508v1M90.5 511v1M90.5 524v1M91.5 507v1M91.5 528v1M94.5 514v1M94.5 523v1M95.5 512v1M96.5 520v1M96.5 525v2M101.5 504v1M103.5 526v1M105.5 513v1M105.5 523v1M107.5 507v3M108.5 529v1M109.5 503v1M109.5 512v1M110.5 507v1M110.5 514v1M110.5 516v2M110.5 519v1M111.5 524v1M112.5 508v2M112.5 517v1M112.5 526v2M115.5 519v1M115.5 521v1M115.5 525v1M116.5 508v1M116.5 510v1M116.5 512v1M117.5 515v1M117.5 522v1M117.5 530v1M117.5 532v3M118.5 519v1M118.5 529v1M135.5 516v1M138.5 515v1M139.5 518v1M140.5 519v1M145.5 520v1M190.5 517v1M191.5 525v1M191.5 528v2M192.5 524v2M193.5 527v2M193.5 537v1M232.5 455v1M233.5 460v2M238.5 463v1M239.5 458v2M240.5 456v1M240.5 460v1M240.5 466v1M240.5 468v1M241.5 472v2M242.5 458v1M242.5 460v3M242.5 467v1M242.5 470v2M242.5 474v1M243.5 459v1M243.5 466v1M243.5 468v1M243.5 475v1M244.5 457v1M244.5 463v2M244.5 467v2M245.5 470v2M246.5 477v1M247.5 460v1M248.5 461v1M249.5 466v1M250.5 460v1M250.5 466v1M250.5 474v1M251.5 468v3M252.5 463v1M252.5 467v1M255.5 473v1M256.5 472v1M257.5 466v1M259.5 468v1M259.5 471v1M260.5 470v1M261.5 465v2M261.5 473v1M262.5 473v1M263.5 465v1M264.5 465v1M265.5 465v1M266.5 466v1M266.5 470v1M267.5 530v1M281.5 475v1M284.5 477v1M286.5 482v1M287.5 464v2M287.5 470v1M287.5 474v1M288.5 484v1M289.5 475v1M289.5 477v1M289.5 489v1M290.5 482v1M291.5 476v2M291.5 493v1M292.5 481v1M292.5 489v1M293.5 487v1M294.5 483v1M294.5 489v1M295.5 482v1M295.5 488v1M295.5 529v1M313.5 520v1M314.5 519v1M314.5 528v1M315.5 532v1M315.5 535v1M320.5 527v2M320.5 531v1M320.5 535v1M321.5 530v1M322.5 529v1M324.5 528v1M325.5 531v1M328.5 484v1M329.5 524v1M333.5 536v1M334.5 530v1M335.5 530v1M336.5 531v1M340.5 526v1M340.5 528v1M341.5 530v1M341.5 536v1M342.5 529v1M344.5 515v1M344.5 521v2M344.5 529v1M348.5 533v2M349.5 534v1M350.5 511v1M351.5 525v1M352.5 519v1M352.5 534v1M354.5 522v1M354.5 528v1M355.5 528v1M357.5 465v1M357.5 537v1M358.5 465v1M358.5 536v1M359.5 466v1M360.5 467v1M360.5 469v2M360.5 535v1M361.5 469v1M362.5 459v1M362.5 462v1M362.5 464v1M362.5 537v1M363.5 529v1M364.5 533v1M365.5 530v1M366.5 523v1M372.5 537v1M373.5 532v1M375.5 529v1M381.5 533v1M383.5 533v1M392.5 535v1M517.5 530v1M517.5 533v1M517.5 538v1M521.5 535v1M522.5 531v1M526.5 510v1M526.5 537v1M527.5 517v1M531.5 534v1M533.5 530v2M535.5 516v1M536.5 530v1M539.5 506v1M540.5 489v1M540.5 497v1M540.5 506v1M540.5 519v1M540.5 526v1M541.5 507v1M541.5 512v1M541.5 533v1M543.5 538v1M544.5 525v2M546.5 516v1M548.5 505v2M549.5 531v1M551.5 531v1M552.5 531v1M553.5 480v2M553.5 483v1M553.5 485v1M553.5 493v1M553.5 504v1M553.5 515v1M553.5 529v1M553.5 536v1M554.5 480v1M554.5 494v1M554.5 501v1M554.5 503v1M554.5 520v2M554.5 536v1M555.5 499v4M555.5 525v1M555.5 527v3M556.5 487v1M556.5 491v1M556.5 504v4M556.5 520v1M557.5 496v1M557.5 507v1M557.5 515v1M557.5 521v1M558.5 492v1M558.5 511v1M559.5 439v1M559.5 480v2M559.5 502v1M559.5 506v1M559.5 522v1M560.5 483v1M560.5 488v1M560.5 494v2M560.5 508v1M560.5 514v1M561.5 498v1M561.5 516v2M561.5 520v2M561.5 525v1M562.5 506v1M562.5 512v2M562.5 515v1M563.5 484v1M563.5 503v2M563.5 508v1M563.5 519v1M563.5 529v1M564.5 518v1M564.5 530v1M564.5 535v1M565.5 523v1M566.5 491v1M566.5 519v1M567.5 490v1M567.5 538v1M572.5 481v1M573.5 493v1M574.5 487v1M574.5 501v2M575.5 486v1M576.5 469v2M576.5 484v1M578.5 471v1M578.5 476v2M580.5 466v1M580.5 468v1M580.5 473v1M580.5 479v1M580.5 502v1M580.5 504v1M581.5 469v1M581.5 495v1M581.5 497v1M582.5 491v1M582.5 497v1M582.5 501v1M583.5 527v1M584.5 483v2M584.5 490v1M584.5 519v1M584.5 525v1M585.5 483v3M586.5 469v2M586.5 498v1M586.5 500v1M586.5 524v1M587.5 479v3M587.5 483v1M587.5 491v1M587.5 524v1M588.5 471v1M588.5 484v1M588.5 499v1M589.5 479v1M589.5 490v1M589.5 492v1M589.5 497v1M589.5 514v1M589.5 521v1M590.5 475v1M590.5 495v1M590.5 510v2M590.5 522v1M590.5 526v4M591.5 463v3M591.5 490v2M592.5 472v2M592.5 478v1M592.5 480v1M592.5 488v1M593.5 456v1M593.5 466v1M593.5 473v1M594.5 481v1M594.5 484v1M595.5 473v1M598.5 473v1M602.5 482v1M603.5 482v1M603.5 527v1M605.5 523v2M606.5 485v1M608.5 475v1M609.5 476v1M609.5 530v1M611.5 527v1M615.5 482v1M617.5 480v1M619.5 480v2M620.5 482v1M620.5 485v1M622.5 484v1M633.5 527v1M644.5 450v3M650.5 467v1M654.5 526v1M655.5 525v1M655.5 528v1M656.5 525v1M659.5 523v1M667.5 474v1M667.5 526v1M669.5 472v1M669.5 479v1M669.5 484v2M670.5 484v2M672.5 524v1M673.5 478v1M674.5 481v2M675.5 475v1M680.5 476v2M683.5 461v1M684.5 478v1M684.5 484v2M684.5 487v1M684.5 489v1M684.5 492v3M685.5 489v1M685.5 493v1M686.5 457v1M686.5 479v2M686.5 486v1M687.5 459v1M687.5 480v1M687.5 484v1M688.5 485v1M689.5 463v1M689.5 472v1M690.5 463v1M690.5 472v2M691.5 461v1M692.5 471v1M692.5 476v1M692.5 482v1M693.5 463v1M693.5 473v1M693.5 476v1M693.5 481v1M693.5 483v1M694.5 482v1M695.5 463v1M696.5 463v1M697.5 488v1M699.5 462v1M699.5 484v1"/><path stroke="#00af77" d="M51.5 520v1M52.5 534v1M66.5 511v1M67.5 508v1M67.5 511v1M67.5 522v1M70.5 509v1M70.5 517v2M71.5 514v1M71.5 531v1M72.5 515v1M72.5 521v1M73.5 510v1M75.5 520v1M75.5 533v1M76.5 519v1M76.5 522v2M76.5 526v1M76.5 529v1M77.5 515v1M77.5 528v1M79.5 522v1M79.5 525v1M80.5 514v1M80.5 523v2M81.5 525v1M81.5 527v3M81.5 531v1M82.5 506v1M83.5 525v1M84.5 512v1M84.5 530v1M85.5 511v1M86.5 513v1M86.5 525v2M87.5 519v1M87.5 521v1M88.5 513v2M88.5 527v2M91.5 526v2M91.5 529v1M92.5 509v1M92.5 523v1M93.5 519v1M98.5 516v1M99.5 514v1M99.5 516v1M99.5 525v1M100.5 524v1M101.5 510v1M102.5 504v1M103.5 504v1M103.5 517v1M104.5 511v2M105.5 526v1M107.5 515v1M108.5 507v1M108.5 520v1M108.5 522v1M109.5 508v1M109.5 525v1M111.5 513v1M111.5 522v1M113.5 511v1M114.5 504v1M114.5 510v1M116.5 530v1M116.5 533v2M117.5 517v1M117.5 531v1M118.5 517v1M139.5 517v1M190.5 524v1M191.5 511v1M191.5 514v1M191.5 522v1M191.5 524v1M191.5 531v1M192.5 533v1M195.5 526v1M232.5 456v1M232.5 461v1M232.5 463v1M233.5 462v1M235.5 465v1M236.5 464v1M237.5 460v1M237.5 463v1M240.5 457v1M240.5 461v2M240.5 464v1M242.5 463v3M243.5 458v1M243.5 465v1M243.5 471v1M244.5 466v1M247.5 465v1M249.5 467v1M249.5 469v1M250.5 464v1M250.5 470v1M252.5 462v1M254.5 461v1M256.5 473v1M257.5 465v1M258.5 472v1M259.5 472v1M261.5 464v1M262.5 465v3M264.5 464v1M265.5 464v1M266.5 465v1M266.5 469v1M267.5 531v1M268.5 531v1M283.5 475v2M284.5 469v1M284.5 476v1M285.5 471v1M286.5 464v1M286.5 486v1M287.5 467v2M287.5 478v1M287.5 486v2M288.5 466v1M288.5 474v1M289.5 476v1M289.5 484v1M290.5 489v1M290.5 493v1M291.5 475v1M291.5 478v1M291.5 485v1M292.5 478v2M292.5 482v1M293.5 480v1M293.5 483v1M294.5 480v1M294.5 482v1M295.5 484v1M295.5 487v1M300.5 478v2M314.5 537v1M321.5 531v1M322.5 500v1M322.5 533v2M322.5 537v1M323.5 528v1M323.5 530v1M323.5 534v1M324.5 529v1M328.5 528v1M328.5 530v1M330.5 537v1M331.5 530v1M331.5 532v1M332.5 452v1M333.5 507v1M338.5 532v1M339.5 537v1M341.5 538v1M343.5 530v1M344.5 523v2M344.5 527v1M345.5 525v1M347.5 533v1M348.5 535v1M349.5 468v1M349.5 472v1M349.5 537v1M350.5 521v1M350.5 527v1M351.5 521v1M351.5 537v1M352.5 512v1M353.5 520v1M354.5 523v2M354.5 532v1M355.5 526v2M355.5 535v1M356.5 537v1M357.5 466v1M357.5 526v2M357.5 535v1M358.5 463v1M358.5 473v1M358.5 478v2M359.5 463v1M360.5 458v3M360.5 465v1M360.5 533v1M361.5 462v1M361.5 470v1M362.5 460v1M364.5 534v1M365.5 523v1M366.5 522v1M366.5 536v1M368.5 521v1M368.5 525v1M373.5 533v1M373.5 537v1M382.5 521v1M383.5 531v1M391.5 534v1M392.5 530v1M519.5 527v1M519.5 535v1M526.5 512v1M526.5 538v1M527.5 509v1M527.5 518v1M534.5 528v1M535.5 513v1M535.5 517v1M538.5 533v1M540.5 496v1M540.5 508v1M540.5 513v1M540.5 518v1M540.5 521v2M540.5 525v1M541.5 500v1M541.5 503v1M541.5 505v1M541.5 514v1M543.5 535v1M544.5 502v1M545.5 538v1M546.5 517v1M546.5 530v1M546.5 538v1M547.5 505v2M548.5 483v1M548.5 527v1M549.5 502v3M549.5 523v1M549.5 527v1M549.5 532v1M550.5 483v1M550.5 521v4M550.5 529v1M550.5 532v2M552.5 472v2M552.5 486v1M552.5 507v1M552.5 537v1M553.5 484v1M553.5 494v1M553.5 502v1M553.5 505v1M553.5 507v3M553.5 516v1M553.5 522v1M553.5 528v1M554.5 493v1M554.5 495v1M554.5 504v1M554.5 506v1M554.5 510v2M554.5 515v1M554.5 519v1M554.5 522v1M554.5 529v1M555.5 473v2M555.5 488v1M555.5 498v1M555.5 507v1M555.5 517v4M555.5 522v1M555.5 526v1M556.5 480v1M556.5 482v4M556.5 508v1M556.5 516v1M556.5 524v1M556.5 534v1M557.5 477v1M557.5 480v2M557.5 486v1M557.5 500v1M557.5 513v1M557.5 519v1M557.5 523v1M557.5 525v1M557.5 537v1M558.5 478v2M558.5 493v1M558.5 508v1M558.5 512v2M558.5 515v1M559.5 440v1M559.5 503v1M559.5 523v1M559.5 528v2M560.5 481v1M560.5 489v1M560.5 498v1M560.5 500v3M560.5 509v2M560.5 521v1M561.5 502v1M561.5 512v1M561.5 518v1M561.5 527v2M561.5 536v1M562.5 503v1M562.5 505v1M562.5 514v1M562.5 518v1M562.5 520v3M563.5 502v1M563.5 506v1M563.5 511v1M563.5 517v1M563.5 521v1M563.5 526v1M564.5 484v1M565.5 527v1M566.5 490v1M566.5 524v3M566.5 535v1M567.5 487v1M567.5 491v1M568.5 523v1M568.5 533v1M570.5 495v2M570.5 530v2M571.5 486v1M572.5 486v1M574.5 482v2M574.5 497v1M574.5 499v2M575.5 472v2M575.5 485v1M575.5 489v1M576.5 485v2M576.5 499v1M577.5 494v1M577.5 497v1M577.5 500v2M579.5 471v1M579.5 478v1M579.5 498v1M579.5 508v1M580.5 467v1M580.5 469v1M580.5 474v2M580.5 495v2M580.5 498v1M580.5 503v1M581.5 466v2M581.5 485v1M581.5 489v1M582.5 480v1M582.5 488v1M582.5 496v1M583.5 485v1M583.5 488v1M583.5 492v1M583.5 502v1M583.5 504v1M584.5 527v1M585.5 488v2M585.5 517v1M586.5 480v1M586.5 483v1M586.5 495v1M586.5 501v2M586.5 505v1M586.5 529v1M587.5 486v2M587.5 496v1M587.5 502v1M587.5 506v1M587.5 523v1M587.5 526v2M587.5 529v1M588.5 466v1M588.5 475v1M588.5 481v2M588.5 485v1M588.5 488v2M588.5 501v1M588.5 508v1M589.5 464v2M589.5 475v1M589.5 478v1M589.5 480v1M589.5 496v1M589.5 508v2M589.5 513v1M589.5 515v1M589.5 528v3M590.5 466v1M590.5 480v1M590.5 496v1M590.5 507v1M590.5 512v1M590.5 516v1M590.5 525v1M591.5 466v1M591.5 489v1M591.5 502v1M592.5 450v1M592.5 456v1M592.5 459v1M592.5 462v1M592.5 469v2M592.5 476v1M592.5 479v1M593.5 475v1M593.5 523v1M593.5 527v3M594.5 473v1M594.5 483v1M594.5 527v1M595.5 471v1M598.5 468v1M598.5 472v1M599.5 469v1M599.5 472v1M599.5 474v1M600.5 472v1M600.5 475v1M601.5 475v2M602.5 481v1M605.5 473v1M605.5 526v1M606.5 474v1M607.5 474v1M609.5 475v1M610.5 474v1M611.5 472v2M612.5 525v1M614.5 480v1M615.5 477v2M615.5 480v1M615.5 483v3M617.5 460v1M617.5 477v1M617.5 479v1M618.5 478v1M645.5 390v1M648.5 391v1M649.5 454v1M650.5 393v1M651.5 390v1M653.5 464v1M654.5 527v1M658.5 524v1M658.5 527v1M662.5 469v1M662.5 471v1M668.5 474v1M669.5 476v2M669.5 486v2M670.5 478v1M672.5 473v1M675.5 476v1M683.5 462v2M684.5 465v1M684.5 467v1M684.5 477v1M684.5 496v3M685.5 461v1M685.5 494v1M686.5 481v1M687.5 461v1M687.5 469v1M687.5 486v1M688.5 472v1M688.5 478v1M689.5 464v1M689.5 471v1M690.5 464v1M690.5 471v1M691.5 465v1M691.5 491v1M691.5 530v1M692.5 473v1M692.5 477v1M692.5 483v1M693.5 482v1M694.5 466v1M695.5 464v1M697.5 484v1M698.5 469v1M699.5 463v1M699.5 477v1M699.5 481v1"/><path stroke="#00c25a" d="M64.5 514v2M66.5 509v1M67.5 510v1M67.5 517v1M68.5 521v1M70.5 510v1M70.5 523v1M70.5 527v1M72.5 516v1M73.5 514v1M73.5 516v1M73.5 523v1M74.5 520v1M74.5 531v1M75.5 507v1M75.5 509v1M75.5 531v2M76.5 520v1M77.5 509v1M77.5 523v1M77.5 530v1M78.5 510v1M81.5 524v1M82.5 508v1M82.5 519v1M83.5 531v1M84.5 519v1M85.5 521v1M85.5 525v1M85.5 527v1M86.5 520v1M87.5 518v1M87.5 524v1M88.5 523v1M90.5 513v1M91.5 521v1M91.5 525v1M91.5 531v1M93.5 509v1M94.5 519v1M95.5 527v1M98.5 512v1M98.5 515v1M98.5 521v1M99.5 517v1M99.5 526v1M100.5 505v1M101.5 513v1M102.5 520v1M104.5 507v1M105.5 503v1M105.5 509v1M105.5 511v1M105.5 518v1M105.5 525v1M106.5 509v2M106.5 519v1M106.5 522v1M106.5 524v1M106.5 527v2M107.5 520v1M108.5 528v1M109.5 526v1M109.5 528v1M109.5 530v1M111.5 514v1M112.5 511v1M113.5 508v1M115.5 514v1M116.5 531v1M117.5 518v1M135.5 517v1M140.5 518v1M144.5 514v1M144.5 516v1M145.5 517v2M190.5 525v1M191.5 513v1M191.5 523v1M191.5 530v1M232.5 460v1M232.5 462v1M233.5 459v1M236.5 465v1M237.5 461v1M242.5 459v1M242.5 472v1M243.5 460v1M243.5 464v1M243.5 469v1M243.5 472v1M244.5 462v1M244.5 465v1M244.5 469v2M244.5 472v1M245.5 464v2M246.5 461v1M246.5 464v1M250.5 467v1M250.5 469v1M251.5 460v1M252.5 464v1M253.5 461v1M255.5 467v1M257.5 464v1M257.5 467v1M257.5 471v1M261.5 467v1M261.5 470v1M261.5 472v1M263.5 467v1M266.5 464v1M267.5 467v1M273.5 464v1M284.5 468v1M286.5 481v1M287.5 469v1M288.5 467v1M288.5 472v1M288.5 482v1M290.5 481v1M290.5 492v1M290.5 494v1M291.5 480v1M291.5 486v1M291.5 488v1M292.5 476v1M292.5 487v1M293.5 477v2M293.5 481v1M293.5 490v1M293.5 493v1M294.5 478v2M295.5 485v1M296.5 468v1M300.5 480v2M301.5 480v3M313.5 522v1M315.5 525v2M320.5 532v1M320.5 534v1M322.5 531v1M323.5 535v1M326.5 529v1M326.5 532v1M326.5 534v2M328.5 483v1M328.5 524v1M328.5 526v1M328.5 529v1M328.5 532v1M329.5 532v1M331.5 506v1M333.5 456v4M334.5 456v1M334.5 537v1M336.5 534v2M337.5 458v2M341.5 531v1M342.5 525v1M342.5 535v1M342.5 537v1M343.5 518v2M343.5 531v1M344.5 520v1M344.5 532v1M345.5 467v2M345.5 516v3M345.5 526v1M345.5 532v2M345.5 535v1M346.5 472v1M349.5 511v1M349.5 533v1M350.5 522v1M350.5 534v1M351.5 512v1M351.5 522v1M352.5 513v1M352.5 517v1M352.5 521v1M353.5 510v2M354.5 529v1M356.5 522v2M357.5 462v1M358.5 466v1M358.5 470v1M358.5 476v2M358.5 529v1M359.5 460v1M359.5 467v1M359.5 470v1M359.5 473v1M359.5 530v1M360.5 466v1M360.5 472v1M360.5 532v1M361.5 460v1M361.5 536v1M362.5 538v1M364.5 526v1M364.5 538v1M368.5 522v2M369.5 519v1M372.5 535v1M373.5 534v1M380.5 527v1M382.5 530v1M382.5 533v1M384.5 533v2M385.5 533v1M391.5 533v1M393.5 535v2M432.5 432v1M433.5 434v1M434.5 434v1M518.5 535v1M519.5 516v1M521.5 516v1M521.5 536v1M523.5 528v1M526.5 509v1M527.5 508v1M527.5 516v1M527.5 519v1M531.5 536v1M534.5 525v1M534.5 527v1M534.5 529v1M534.5 534v1M534.5 536v1M537.5 534v1M539.5 530v1M539.5 536v1M540.5 490v1M540.5 499v1M540.5 505v1M540.5 509v1M541.5 492v1M541.5 498v2M541.5 501v2M541.5 506v1M541.5 508v2M541.5 511v1M541.5 513v1M541.5 515v1M541.5 520v1M542.5 528v1M543.5 516v1M543.5 525v1M544.5 500v2M544.5 503v1M544.5 518v1M544.5 524v1M544.5 527v2M544.5 534v1M545.5 489v1M545.5 495v1M545.5 515v1M545.5 518v2M545.5 527v1M546.5 481v1M546.5 501v2M547.5 504v1M548.5 482v1M548.5 528v1M549.5 501v1M549.5 521v1M549.5 524v1M549.5 528v1M549.5 533v1M550.5 503v2M550.5 527v1M551.5 506v2M551.5 530v1M552.5 504v1M552.5 511v2M552.5 516v1M553.5 469v1M553.5 492v1M553.5 495v2M553.5 500v1M553.5 518v1M553.5 520v2M553.5 523v1M554.5 492v1M554.5 496v1M554.5 498v1M554.5 500v1M554.5 502v1M554.5 505v1M554.5 509v1M554.5 512v3M554.5 516v1M555.5 472v1M555.5 475v1M555.5 487v1M555.5 489v1M555.5 497v1M555.5 503v1M555.5 506v1M555.5 508v3M555.5 521v1M555.5 524v1M556.5 479v1M556.5 481v1M556.5 486v1M556.5 494v2M556.5 515v1M556.5 521v1M557.5 475v1M557.5 478v2M557.5 501v3M557.5 506v1M557.5 508v3M557.5 514v1M557.5 516v1M557.5 518v1M557.5 522v1M557.5 524v1M558.5 468v1M558.5 480v1M558.5 485v1M558.5 531v1M559.5 474v1M559.5 479v1M559.5 486v1M559.5 488v1M559.5 533v2M560.5 480v1M560.5 487v1M560.5 496v1M560.5 528v1M562.5 501v1M562.5 504v1M562.5 516v2M563.5 495v1M563.5 509v2M563.5 513v1M563.5 520v1M563.5 523v1M563.5 530v1M563.5 533v1M564.5 478v1M564.5 536v1M565.5 535v1M566.5 488v1M567.5 486v1M568.5 532v1M569.5 527v1M571.5 485v1M571.5 487v1M571.5 495v1M572.5 478v1M572.5 482v2M572.5 485v1M572.5 487v1M573.5 482v1M574.5 479v1M574.5 481v1M574.5 485v1M574.5 498v1M575.5 488v1M575.5 502v1M575.5 504v1M576.5 487v1M576.5 493v2M576.5 496v1M576.5 498v1M577.5 474v1M577.5 489v5M577.5 495v2M577.5 499v1M579.5 464v1M580.5 463v1M580.5 494v1M581.5 472v1M581.5 477v1M581.5 479v1M581.5 481v1M581.5 498v1M582.5 468v1M582.5 478v1M582.5 487v1M582.5 500v1M583.5 482v1M583.5 526v1M584.5 465v1M584.5 485v2M584.5 497v1M584.5 509v1M584.5 524v1M584.5 526v1M585.5 492v1M585.5 523v2M585.5 526v1M586.5 474v1M586.5 481v1M586.5 487v1M586.5 527v1M587.5 484v1M587.5 497v1M587.5 499v1M587.5 503v1M588.5 465v1M588.5 467v4M588.5 476v2M588.5 479v1M588.5 486v2M588.5 494v1M588.5 498v1M588.5 503v1M588.5 526v1M589.5 468v1M589.5 473v2M589.5 485v1M589.5 488v1M589.5 495v1M589.5 498v1M589.5 522v1M589.5 526v1M590.5 461v2M590.5 465v1M590.5 481v2M590.5 489v1M590.5 498v1M590.5 509v1M590.5 513v2M590.5 521v1M591.5 467v1M591.5 469v1M591.5 493v1M591.5 496v1M591.5 504v1M592.5 448v2M592.5 455v1M592.5 460v1M592.5 467v1M592.5 471v1M592.5 474v1M592.5 477v1M592.5 486v2M592.5 494v1M592.5 527v1M593.5 447v1M593.5 467v1M593.5 472v1M593.5 474v1M593.5 476v1M593.5 479v2M594.5 463v3M594.5 528v1M594.5 530v1M595.5 474v1M598.5 469v1M605.5 472v1M605.5 474v1M606.5 472v2M606.5 476v1M609.5 474v1M609.5 477v1M610.5 472v2M610.5 475v1M613.5 474v2M615.5 479v1M615.5 481v1M616.5 478v2M619.5 479v1M620.5 481v1M645.5 389v1M648.5 390v1M649.5 453v1M649.5 455v1M650.5 392v1M651.5 456v1M653.5 391v2M654.5 394v1M654.5 464v1M655.5 390v1M655.5 393v1M656.5 528v1M658.5 526v1M661.5 468v1M662.5 470v1M662.5 472v1M663.5 451v1M665.5 472v1M668.5 476v1M668.5 480v1M669.5 471v1M669.5 478v1M669.5 488v1M671.5 452v1M671.5 483v1M672.5 475v3M672.5 483v1M672.5 486v1M673.5 480v1M673.5 484v1M673.5 526v1M675.5 473v2M679.5 487v1M683.5 481v1M685.5 475v1M685.5 495v1M686.5 488v1M686.5 490v1M687.5 470v1M688.5 468v1M688.5 479v1M690.5 483v1M692.5 472v1M692.5 474v1M693.5 466v3M695.5 484v1M695.5 486v2M697.5 466v3M697.5 486v1M697.5 489v1M698.5 466v1"/><path stroke="#00d63d" d="M67.5 509v1M67.5 514v1M68.5 520v1M69.5 521v1M70.5 524v1M71.5 509v1M71.5 527v1M72.5 517v1M72.5 528v1M73.5 511v1M73.5 513v1M73.5 524v2M74.5 517v1M74.5 528v1M75.5 512v1M75.5 519v1M75.5 530v1M75.5 534v1M76.5 517v1M77.5 511v1M77.5 514v1M81.5 517v1M82.5 517v2M82.5 520v1M82.5 526v1M83.5 510v1M84.5 510v1M84.5 516v1M86.5 512v1M86.5 522v1M86.5 527v1M87.5 514v1M87.5 516v1M87.5 520v1M87.5 522v1M87.5 526v1M88.5 525v1M89.5 527v1M91.5 505v1M91.5 523v1M91.5 530v1M92.5 525v1M92.5 528v1M92.5 530v1M94.5 521v1M95.5 513v1M95.5 516v1M95.5 522v2M96.5 512v1M97.5 513v1M97.5 516v1M98.5 518v2M99.5 512v1M99.5 515v1M99.5 518v1M99.5 520v1M100.5 508v1M102.5 519v1M102.5 521v1M103.5 518v1M104.5 514v1M105.5 514v2M106.5 511v1M106.5 513v2M107.5 510v1M109.5 516v3M109.5 521v1M112.5 518v1M113.5 505v1M113.5 510v1M114.5 509v1M116.5 516v2M116.5 529v1M117.5 512v2M117.5 528v2M134.5 511v1M136.5 518v1M145.5 519v1M190.5 526v1M191.5 512v1M191.5 515v1M238.5 460v2M240.5 459v1M240.5 463v1M243.5 461v1M243.5 470v1M245.5 458v1M245.5 461v2M246.5 462v1M246.5 465v1M247.5 464v1M249.5 465v1M249.5 468v1M250.5 468v1M251.5 461v1M251.5 467v1M256.5 464v2M257.5 463v1M258.5 463v1M258.5 471v1M259.5 467v1M261.5 471v1M262.5 464v1M262.5 470v1M263.5 468v2M267.5 468v1M270.5 467v3M271.5 467v2M271.5 530v1M272.5 467v1M274.5 526v1M276.5 463v1M282.5 463v1M282.5 471v1M283.5 465v1M283.5 468v2M283.5 474v1M284.5 465v3M284.5 475v1M285.5 468v1M285.5 479v1M286.5 465v1M286.5 470v1M286.5 478v3M287.5 475v1M288.5 465v1M288.5 475v1M288.5 477v1M288.5 480v1M289.5 471v1M289.5 483v1M289.5 485v1M291.5 464v1M291.5 474v1M291.5 484v1M292.5 483v1M293.5 467v1M293.5 489v1M293.5 491v1M293.5 494v1M294.5 467v1M294.5 470v1M294.5 481v1M294.5 488v1M295.5 530v1M296.5 467v1M297.5 470v2M301.5 476v2M301.5 479v1M313.5 519v1M313.5 521v1M313.5 528v1M314.5 536v1M318.5 537v1M321.5 528v1M321.5 534v1M325.5 525v3M325.5 537v1M328.5 527v1M328.5 534v1M330.5 525v1M331.5 505v1M331.5 531v1M331.5 538v1M332.5 453v1M332.5 459v1M332.5 462v1M332.5 506v1M333.5 455v1M333.5 460v1M333.5 467v1M333.5 528v1M334.5 457v1M334.5 531v1M335.5 531v1M335.5 536v1M336.5 466v1M337.5 460v1M337.5 536v1M339.5 532v1M340.5 529v1M340.5 533v1M342.5 526v1M342.5 530v1M342.5 538v1M343.5 517v1M343.5 521v1M343.5 529v1M344.5 517v3M345.5 515v1M345.5 520v1M345.5 527v1M345.5 534v1M345.5 537v1M346.5 471v1M348.5 471v1M348.5 526v2M348.5 531v1M348.5 536v1M349.5 463v1M349.5 519v2M349.5 529v1M350.5 512v1M350.5 518v2M350.5 523v1M350.5 532v1M351.5 519v1M351.5 523v1M351.5 534v1M351.5 536v1M352.5 515v1M352.5 523v2M353.5 519v1M354.5 521v1M354.5 531v1M355.5 514v3M356.5 462v2M356.5 468v2M356.5 524v1M357.5 463v1M357.5 470v1M358.5 467v1M358.5 471v2M358.5 475v1M358.5 513v2M358.5 535v1M358.5 537v1M359.5 472v1M359.5 479v1M359.5 527v1M360.5 527v1M361.5 471v1M361.5 518v1M361.5 528v1M362.5 461v1M362.5 526v1M364.5 530v1M365.5 524v2M365.5 538v1M366.5 521v1M366.5 524v1M367.5 529v1M367.5 535v1M368.5 524v1M368.5 526v1M370.5 527v1M370.5 529v1M370.5 536v1M372.5 530v1M372.5 536v1M373.5 530v1M373.5 535v1M374.5 534v1M374.5 537v1M376.5 529v1M379.5 528v1M379.5 532v1M381.5 521v1M381.5 530v1M382.5 534v1M383.5 532v1M385.5 534v1M390.5 532v1M392.5 536v1M393.5 534v1M433.5 435v1M513.5 529v1M517.5 513v1M517.5 516v1M518.5 530v1M519.5 526v1M519.5 528v1M519.5 538v1M520.5 527v1M520.5 538v1M521.5 529v1M522.5 516v1M523.5 527v1M523.5 530v1M524.5 516v1M524.5 527v2M525.5 525v1M525.5 528v1M526.5 513v1M527.5 510v2M527.5 525v1M534.5 512v1M534.5 514v1M534.5 522v1M535.5 523v4M536.5 515v1M536.5 532v1M537.5 529v1M538.5 512v1M538.5 514v1M538.5 534v1M539.5 505v1M539.5 507v1M539.5 528v1M540.5 494v2M540.5 498v1M540.5 507v1M540.5 510v2M540.5 515v2M541.5 490v1M541.5 493v1M541.5 504v1M541.5 510v1M541.5 516v4M541.5 535v1M542.5 526v2M543.5 526v1M544.5 484v2M544.5 508v2M544.5 516v2M544.5 519v1M544.5 523v1M545.5 496v1M545.5 502v1M545.5 528v1M546.5 489v1M546.5 499v1M546.5 503v1M546.5 515v1M546.5 527v3M547.5 503v1M547.5 527v2M548.5 526v1M548.5 529v1M549.5 508v1M549.5 522v1M549.5 525v2M550.5 484v1M550.5 502v1M550.5 519v1M550.5 528v1M550.5 536v1M551.5 470v1M551.5 472v1M551.5 479v1M551.5 508v1M552.5 467v5M552.5 474v1M552.5 479v1M552.5 491v2M552.5 503v1M552.5 508v2M552.5 515v1M552.5 517v3M552.5 525v2M552.5 535v1M553.5 461v1M553.5 478v1M553.5 486v1M553.5 491v1M553.5 498v1M553.5 514v1M553.5 517v1M554.5 462v1M554.5 479v1M554.5 497v1M554.5 499v1M554.5 517v2M554.5 528v1M555.5 465v3M555.5 470v2M555.5 476v1M555.5 479v2M555.5 504v2M555.5 515v2M555.5 523v1M555.5 535v1M556.5 492v1M556.5 509v1M556.5 514v1M556.5 522v2M557.5 474v1M557.5 476v1M557.5 490v1M557.5 494v2M557.5 512v1M558.5 476v2M558.5 481v1M558.5 514v1M559.5 441v2M559.5 478v1M559.5 499v1M560.5 503v1M560.5 529v2M561.5 499v1M561.5 501v1M561.5 507v1M561.5 519v1M562.5 481v1M562.5 511v1M562.5 519v1M563.5 478v1M563.5 507v1M563.5 518v1M564.5 483v1M564.5 485v1M564.5 492v3M565.5 468v2M565.5 488v1M565.5 490v2M565.5 524v3M565.5 537v1M566.5 480v2M566.5 483v1M566.5 485v2M566.5 489v1M566.5 538v1M567.5 473v1M567.5 484v2M567.5 492v1M568.5 488v3M569.5 528v1M570.5 476v1M570.5 494v1M570.5 529v1M571.5 471v1M571.5 484v1M571.5 488v1M571.5 494v1M572.5 480v1M572.5 484v1M572.5 489v1M573.5 484v2M574.5 478v1M574.5 484v1M575.5 479v1M575.5 487v1M575.5 501v1M575.5 503v1M576.5 472v2M576.5 488v2M576.5 495v1M577.5 472v1M578.5 482v1M579.5 480v2M579.5 483v1M580.5 478v1M580.5 497v1M581.5 465v1M581.5 473v1M581.5 483v1M581.5 486v1M581.5 500v1M582.5 466v1M582.5 481v1M582.5 498v1M583.5 466v1M583.5 481v1M583.5 506v1M583.5 524v1M584.5 480v1M584.5 505v1M585.5 478v2M585.5 481v1M585.5 496v1M585.5 498v1M585.5 500v1M585.5 502v3M585.5 506v1M585.5 515v1M585.5 521v2M585.5 527v1M585.5 529v1M586.5 482v1M586.5 499v1M586.5 525v1M586.5 528v1M587.5 482v1M587.5 493v3M587.5 500v1M588.5 478v1M588.5 497v1M588.5 527v1M588.5 529v2M589.5 481v1M589.5 484v1M589.5 486v1M589.5 500v1M589.5 525v1M590.5 464v1M590.5 473v1M590.5 479v1M590.5 490v1M590.5 508v1M590.5 515v1M591.5 470v1M591.5 488v1M591.5 492v1M592.5 461v1M592.5 468v1M592.5 526v1M593.5 455v1M593.5 524v1M593.5 526v1M594.5 475v1M594.5 480v1M594.5 529v1M595.5 465v1M595.5 469v2M595.5 475v1M595.5 525v1M595.5 530v1M597.5 474v2M599.5 452v1M599.5 470v1M600.5 469v2M602.5 455v1M605.5 475v1M606.5 475v1M607.5 472v2M608.5 474v1M609.5 473v1M610.5 476v2M611.5 474v1M613.5 478v2M613.5 527v1M613.5 529v1M614.5 475v1M614.5 478v2M616.5 477v1M617.5 478v1M617.5 483v1M621.5 480v2M621.5 485v1M645.5 459v2M646.5 389v2M648.5 456v2M650.5 391v1M651.5 391v1M651.5 457v1M652.5 390v1M653.5 390v1M653.5 394v1M654.5 391v2M655.5 391v2M656.5 465v1M656.5 524v1M657.5 524v1M658.5 528v1M661.5 467v1M661.5 469v1M661.5 471v1M662.5 452v1M663.5 452v1M664.5 450v1M669.5 470v1M669.5 489v1M671.5 451v1M671.5 453v1M671.5 474v2M672.5 485v1M678.5 478v1M680.5 474v1M683.5 479v2M683.5 482v1M685.5 462v1M685.5 465v1M685.5 476v1M686.5 491v1M687.5 458v1M687.5 460v1M687.5 462v1M687.5 471v1M688.5 471v1M688.5 473v1M689.5 468v2M689.5 478v2M691.5 478v1M691.5 481v1M692.5 475v1M695.5 485v1M696.5 468v1M697.5 465v1M699.5 465v1M699.5 468v1M699.5 485v1M699.5 487v1"/><path stroke="#00e920" d="M66.5 510v1M67.5 515v1M67.5 518v1M68.5 519v1M68.5 522v1M71.5 517v1M71.5 529v1M72.5 520v1M72.5 527v1M73.5 515v1M73.5 517v1M73.5 522v1M74.5 523v2M74.5 527v1M75.5 506v1M75.5 521v1M75.5 529v1M75.5 535v1M76.5 508v1M76.5 518v1M76.5 524v1M76.5 527v1M77.5 508v1M77.5 520v1M80.5 526v1M82.5 522v1M82.5 532v1M83.5 515v1M83.5 517v1M86.5 515v2M86.5 519v1M86.5 524v1M88.5 512v1M90.5 512v1M90.5 517v1M90.5 519v1M91.5 524v1M92.5 526v1M92.5 529v1M94.5 522v1M95.5 511v1M95.5 525v1M96.5 524v1M96.5 527v1M99.5 510v1M99.5 519v1M100.5 517v1M101.5 505v1M101.5 514v1M101.5 520v2M102.5 505v1M102.5 514v1M103.5 505v1M103.5 515v1M103.5 525v1M104.5 508v1M104.5 510v1M104.5 513v1M106.5 516v1M106.5 518v1M106.5 523v1M107.5 506v1M107.5 528v2M108.5 521v1M108.5 524v1M109.5 507v1M109.5 522v1M111.5 520v2M112.5 524v1M116.5 511v1M117.5 516v1M118.5 518v1M118.5 523v1M134.5 512v2M135.5 515v1M136.5 517v1M190.5 528v1M232.5 457v3M237.5 462v1M238.5 462v1M240.5 458v1M243.5 462v2M246.5 463v1M248.5 459v1M250.5 465v1M251.5 462v1M252.5 465v1M255.5 463v3M256.5 463v1M257.5 462v1M257.5 470v1M258.5 466v1M258.5 470v1M262.5 468v1M267.5 469v1M267.5 532v1M270.5 532v1M272.5 468v1M276.5 464v1M280.5 461v1M281.5 470v2M281.5 474v1M282.5 464v5M282.5 472v1M283.5 464v1M283.5 470v1M284.5 470v1M285.5 478v1M286.5 468v2M286.5 471v1M286.5 473v1M286.5 477v1M288.5 469v3M288.5 476v1M288.5 478v2M289.5 465v1M289.5 472v2M290.5 476v1M291.5 471v1M291.5 481v1M292.5 488v1M293.5 479v1M293.5 488v1M294.5 469v1M294.5 472v2M294.5 475v2M295.5 466v3M295.5 474v3M297.5 472v1M300.5 477v1M300.5 482v1M300.5 484v1M301.5 478v1M301.5 483v1M313.5 527v1M318.5 535v2M321.5 526v1M321.5 533v1M322.5 528v1M322.5 538v1M324.5 537v1M326.5 531v1M328.5 525v1M328.5 536v1M331.5 504v1M333.5 454v1M334.5 455v1M334.5 458v1M334.5 534v1M335.5 466v1M336.5 464v1M336.5 469v1M337.5 457v1M338.5 537v1M339.5 529v1M340.5 534v1M341.5 525v1M342.5 532v1M342.5 534v1M343.5 526v1M345.5 513v2M345.5 519v1M345.5 528v1M345.5 536v1M346.5 469v1M346.5 536v1M348.5 512v1M349.5 518v1M349.5 527v1M349.5 530v1M349.5 532v1M350.5 460v2M350.5 513v1M350.5 533v1M351.5 466v1M351.5 510v2M351.5 524v1M352.5 462v1M352.5 514v1M352.5 516v1M352.5 522v1M352.5 535v1M353.5 512v1M353.5 516v3M354.5 525v1M355.5 517v1M355.5 522v3M355.5 533v2M356.5 514v1M356.5 528v1M357.5 520v1M357.5 530v1M358.5 468v1M358.5 512v1M358.5 527v1M358.5 531v1M358.5 534v1M359.5 474v5M359.5 529v1M359.5 536v2M360.5 473v1M360.5 522v1M361.5 519v1M362.5 518v2M362.5 524v2M362.5 528v1M363.5 519v2M363.5 526v1M364.5 520v1M364.5 527v1M365.5 522v1M365.5 529v1M366.5 537v1M367.5 523v3M369.5 520v1M370.5 530v1M370.5 534v1M372.5 532v1M373.5 531v1M374.5 533v1M374.5 535v1M375.5 470v1M375.5 530v1M376.5 530v1M378.5 529v1M381.5 520v1M381.5 523v1M382.5 524v4M391.5 535v1M432.5 443v1M433.5 436v1M477.5 427v1M478.5 427v1M513.5 527v2M514.5 520v3M516.5 518v1M517.5 514v1M518.5 516v1M518.5 531v1M519.5 515v1M519.5 517v1M520.5 526v1M521.5 517v2M522.5 513v2M522.5 518v1M522.5 530v1M523.5 513v1M523.5 529v1M524.5 522v1M524.5 529v2M525.5 516v1M525.5 523v2M525.5 529v1M526.5 514v2M526.5 522v1M526.5 524v2M527.5 520v1M527.5 524v1M527.5 526v2M528.5 519v1M528.5 538v1M531.5 517v1M531.5 530v1M533.5 522v2M533.5 536v1M534.5 511v1M534.5 515v1M534.5 526v1M535.5 518v1M535.5 521v1M535.5 527v1M535.5 529v1M535.5 538v1M536.5 516v3M536.5 529v1M537.5 516v2M537.5 519v1M537.5 522v1M538.5 522v1M538.5 530v1M539.5 508v2M539.5 526v2M539.5 529v1M540.5 491v1M540.5 504v1M540.5 512v1M540.5 514v1M540.5 517v1M540.5 523v2M541.5 491v1M541.5 497v1M542.5 521v2M542.5 525v1M542.5 529v1M543.5 491v1M543.5 515v1M543.5 518v2M543.5 528v1M543.5 534v1M544.5 483v1M544.5 507v1M544.5 510v1M544.5 520v1M544.5 522v1M544.5 529v1M544.5 533v1M545.5 481v1M545.5 508v2M545.5 514v1M545.5 522v1M545.5 525v1M545.5 529v1M546.5 482v1M546.5 490v1M546.5 496v1M546.5 500v1M546.5 504v2M546.5 508v1M546.5 518v1M547.5 482v2M547.5 488v1M547.5 490v1M547.5 537v1M548.5 484v2M548.5 490v1M548.5 504v1M548.5 507v2M548.5 520v1M548.5 537v1M549.5 479v1M549.5 500v1M549.5 505v3M549.5 509v1M550.5 482v1M550.5 485v1M550.5 501v1M550.5 505v2M550.5 525v2M551.5 480v1M551.5 505v1M551.5 509v1M551.5 512v5M551.5 522v3M551.5 529v1M551.5 537v1M552.5 487v3M552.5 493v1M552.5 495v1M552.5 497v1M552.5 502v1M552.5 510v1M552.5 513v2M552.5 522v2M552.5 529v1M553.5 462v1M553.5 479v1M553.5 487v1M553.5 497v1M553.5 499v1M553.5 510v1M553.5 513v1M553.5 519v1M553.5 525v3M554.5 447v1M554.5 469v1M554.5 478v1M554.5 482v1M554.5 485v4M554.5 491v1M554.5 507v2M554.5 523v1M554.5 527v1M555.5 464v1M555.5 468v2M555.5 477v2M555.5 481v2M555.5 486v1M555.5 496v1M555.5 511v2M556.5 471v1M556.5 473v1M556.5 478v1M556.5 493v1M556.5 510v1M557.5 469v1M557.5 471v3M557.5 482v4M557.5 491v2M557.5 517v1M558.5 469v1M559.5 443v2M559.5 473v1M559.5 475v2M559.5 536v1M560.5 469v3M560.5 485v1M560.5 499v1M560.5 504v2M560.5 511v1M561.5 475v1M561.5 481v1M561.5 511v1M561.5 534v1M562.5 473v2M562.5 476v1M562.5 484v1M562.5 486v2M562.5 500v1M562.5 507v1M562.5 510v1M562.5 534v1M563.5 474v1M563.5 492v1M563.5 494v1M563.5 532v1M563.5 534v1M564.5 491v1M565.5 467v1M565.5 470v1M565.5 480v1M565.5 482v1M565.5 485v3M565.5 489v1M565.5 538v1M566.5 468v2M566.5 487v1M567.5 472v1M567.5 474v1M567.5 483v1M568.5 486v2M568.5 537v1M569.5 488v2M570.5 469v1M570.5 484v1M571.5 489v1M572.5 479v1M573.5 483v1M576.5 481v1M577.5 473v1M577.5 475v1M577.5 483v1M577.5 498v1M579.5 476v1M579.5 482v1M579.5 484v1M580.5 464v1M580.5 471v2M580.5 476v1M581.5 462v3M581.5 474v3M581.5 484v1M581.5 487v1M581.5 499v1M582.5 469v1M582.5 471v1M582.5 477v1M582.5 482v2M582.5 486v1M582.5 495v1M583.5 497v1M583.5 501v1M583.5 505v1M584.5 492v1M584.5 508v1M584.5 512v1M584.5 521v2M585.5 470v2M585.5 480v1M585.5 482v1M585.5 487v1M585.5 495v1M585.5 501v1M585.5 505v1M585.5 518v1M585.5 528v1M586.5 475v1M586.5 494v1M587.5 501v1M587.5 525v1M588.5 480v1M588.5 495v2M589.5 469v1M589.5 472v1M589.5 476v2M589.5 482v1M589.5 503v1M590.5 463v1M590.5 468v1M590.5 477v2M590.5 484v1M591.5 468v1M591.5 473v2M591.5 476v1M591.5 479v2M591.5 486v2M591.5 501v1M591.5 525v1M593.5 454v1M593.5 470v2M593.5 477v2M593.5 525v1M594.5 466v1M594.5 470v1M594.5 472v1M594.5 474v1M594.5 526v1M595.5 464v1M595.5 526v1M596.5 472v1M597.5 472v1M597.5 476v1M598.5 467v1M599.5 453v3M599.5 471v1M600.5 471v1M600.5 476v1M601.5 455v1M602.5 474v1M602.5 476v1M604.5 454v1M604.5 474v1M605.5 470v2M605.5 476v1M606.5 453v1M606.5 471v1M608.5 473v1M610.5 478v1M611.5 475v1M612.5 478v1M613.5 476v1M614.5 476v2M617.5 481v2M617.5 484v1M620.5 480v1M621.5 482v1M642.5 458v1M643.5 459v1M644.5 460v1M645.5 461v1M646.5 453v2M648.5 454v1M649.5 452v1M649.5 456v1M650.5 455v2M651.5 394v1M651.5 455v1M651.5 458v1M652.5 456v2M653.5 455v1M654.5 393v1M656.5 390v1M657.5 523v1M660.5 450v1M662.5 453v1M664.5 449v1M664.5 451v1M664.5 455v2M666.5 472v1M667.5 476v1M671.5 476v1M671.5 482v1M672.5 452v1M673.5 453v1M673.5 483v1M674.5 471v1M674.5 473v1M676.5 475v1M681.5 474v1M683.5 464v1M684.5 473v3M685.5 464v1M685.5 497v1M686.5 459v1M686.5 475v1M686.5 477v1M687.5 464v1M687.5 467v2M687.5 472v1M688.5 462v2M689.5 470v1M689.5 481v1M690.5 460v1M690.5 484v1M696.5 469v1M696.5 476v2M696.5 482v1M699.5 466v2M699.5 478v1"/><path stroke="#00fd03" d="M67.5 516v1M69.5 512v1M69.5 520v1M69.5 522v1M70.5 525v2M71.5 521v1M72.5 519v1M73.5 512v1M74.5 525v1M74.5 529v1M75.5 526v1M75.5 528v1M76.5 509v1M76.5 511v2M76.5 530v1M77.5 507v1M77.5 512v2M77.5 522v1M77.5 531v1M80.5 525v1M82.5 521v1M82.5 525v1M83.5 516v1M85.5 528v1M86.5 514v1M86.5 528v1M87.5 512v2M87.5 515v1M89.5 526v1M90.5 518v1M90.5 525v1M91.5 522v1M92.5 524v1M92.5 527v1M93.5 520v1M93.5 523v1M95.5 514v1M97.5 524v1M100.5 509v1M100.5 522v1M101.5 528v1M102.5 510v1M102.5 517v2M103.5 516v1M105.5 517v1M106.5 515v1M106.5 520v1M106.5 529v2M107.5 522v1M108.5 503v1M108.5 513v1M108.5 523v1M108.5 525v2M109.5 504v1M109.5 529v1M109.5 531v1M113.5 509v1M116.5 515v1M116.5 523v1M116.5 532v1M135.5 514v1M136.5 516v1M144.5 515v1M190.5 527v1M245.5 459v2M246.5 460v1M251.5 463v1M255.5 466v1M256.5 466v2M257.5 468v1M258.5 464v1M258.5 468v2M260.5 464v1M260.5 466v1M262.5 471v2M263.5 470v1M267.5 466v1M267.5 529v1M270.5 466v1M271.5 466v1M273.5 463v1M273.5 465v1M278.5 467v1M281.5 463v1M281.5 472v1M282.5 470v1M283.5 467v1M283.5 473v1M284.5 471v1M284.5 474v1M285.5 473v3M285.5 477v1M286.5 474v1M286.5 476v1M287.5 476v1M288.5 481v1M289.5 467v2M289.5 470v1M289.5 478v1M289.5 482v1M289.5 486v1M290.5 474v1M290.5 477v1M290.5 480v1M290.5 488v1M291.5 465v1M291.5 472v2M292.5 474v2M294.5 468v1M294.5 471v1M294.5 474v1M295.5 469v1M295.5 473v1M296.5 466v1M296.5 469v2M296.5 476v1M296.5 478v1M297.5 469v1M299.5 478v2M300.5 468v1M300.5 470v1M300.5 475v1M301.5 475v1M318.5 534v1M319.5 536v2M320.5 525v1M320.5 537v1M322.5 481v1M322.5 499v1M323.5 531v1M323.5 537v1M324.5 527v1M324.5 530v1M325.5 524v1M326.5 525v2M326.5 536v1M329.5 525v1M329.5 530v1M332.5 454v1M333.5 450v1M333.5 466v1M333.5 468v2M334.5 454v1M335.5 465v1M336.5 467v1M336.5 470v1M336.5 532v1M337.5 461v1M338.5 461v1M339.5 530v1M341.5 526v1M343.5 520v1M343.5 522v4M345.5 523v2M346.5 535v1M346.5 537v1M347.5 527v1M348.5 468v1M348.5 528v1M349.5 528v1M350.5 467v1M350.5 470v2M350.5 517v1M350.5 531v1M351.5 459v1M351.5 465v1M351.5 518v1M352.5 511v1M353.5 509v1M354.5 530v1M356.5 513v1M356.5 515v1M356.5 521v1M356.5 527v1M356.5 533v2M357.5 468v1M357.5 512v4M357.5 529v1M357.5 531v1M357.5 533v1M358.5 474v1M358.5 515v1M358.5 520v1M358.5 526v1M358.5 530v1M359.5 528v1M360.5 474v1M360.5 477v1M360.5 523v1M361.5 461v1M361.5 524v1M362.5 523v1M363.5 525v1M363.5 527v1M364.5 529v1M364.5 532v1M366.5 520v1M366.5 525v1M367.5 528v1M367.5 536v1M370.5 526v1M372.5 534v1M374.5 532v1M374.5 536v1M375.5 469v1M379.5 529v3M380.5 528v1M381.5 522v1M382.5 522v2M382.5 528v2M383.5 520v1M393.5 533v1M432.5 434v1M432.5 442v1M433.5 438v1M433.5 446v1M434.5 446v1M469.5 434v1M478.5 426v1M480.5 422v2M516.5 528v1M517.5 523v1M517.5 525v1M517.5 534v1M518.5 536v1M519.5 537v1M520.5 522v3M520.5 528v2M521.5 515v1M521.5 528v1M522.5 511v1M522.5 515v1M522.5 517v1M522.5 519v1M522.5 528v2M522.5 538v1M523.5 514v1M523.5 516v1M523.5 521v2M523.5 526v1M524.5 511v1M524.5 513v1M524.5 515v1M524.5 517v1M524.5 521v1M524.5 526v1M524.5 538v1M525.5 514v2M525.5 517v1M525.5 526v1M526.5 516v1M526.5 523v1M526.5 529v1M527.5 521v1M527.5 528v2M528.5 509v1M528.5 517v1M528.5 520v1M528.5 526v2M530.5 538v1M531.5 514v1M531.5 516v1M531.5 519v1M532.5 517v1M532.5 519v1M533.5 517v1M533.5 524v2M533.5 527v1M533.5 529v1M533.5 537v1M534.5 513v1M534.5 516v2M534.5 521v1M534.5 523v2M535.5 519v2M535.5 522v1M535.5 528v1M536.5 523v4M537.5 515v1M537.5 518v1M537.5 520v2M537.5 523v1M537.5 528v1M538.5 509v1M538.5 511v1M538.5 513v1M538.5 524v1M538.5 531v1M539.5 504v1M539.5 515v1M539.5 518v1M540.5 493v1M540.5 500v1M540.5 502v2M541.5 496v1M542.5 514v1M542.5 519v1M543.5 502v1M543.5 509v1M543.5 517v1M543.5 524v1M543.5 527v1M543.5 529v1M543.5 531v1M544.5 486v1M544.5 491v1M544.5 515v1M544.5 521v1M545.5 488v1M545.5 494v1M545.5 497v1M545.5 524v1M545.5 526v1M545.5 530v1M545.5 537v1M546.5 479v1M546.5 484v1M546.5 498v1M546.5 506v2M546.5 514v1M547.5 481v1M547.5 489v1M547.5 507v3M547.5 517v1M547.5 520v1M547.5 526v1M547.5 529v1M547.5 538v1M548.5 481v1M548.5 488v2M548.5 496v2M548.5 503v1M548.5 517v3M548.5 525v1M548.5 536v1M549.5 480v1M549.5 499v1M549.5 511v1M549.5 520v1M550.5 520v1M551.5 473v6M551.5 486v1M551.5 488v2M551.5 491v1M551.5 498v1M551.5 510v2M551.5 521v1M551.5 538v1M552.5 462v1M552.5 466v1M552.5 475v4M552.5 480v1M552.5 484v2M552.5 494v1M552.5 496v1M552.5 498v3M552.5 520v2M552.5 524v1M552.5 527v1M553.5 463v1M553.5 468v1M553.5 470v2M553.5 475v1M553.5 488v1M553.5 511v2M553.5 524v1M554.5 463v1M554.5 475v1M554.5 477v1M554.5 481v1M554.5 524v3M555.5 463v1M555.5 483v3M555.5 490v2M555.5 514v1M556.5 472v1M556.5 475v3M556.5 511v3M556.5 535v1M557.5 467v2M557.5 470v1M557.5 511v1M557.5 533v1M558.5 467v1M558.5 470v1M558.5 474v2M558.5 482v3M559.5 467v3M559.5 525v1M559.5 532v1M559.5 535v1M560.5 472v1M560.5 479v1M560.5 522v1M560.5 531v1M561.5 473v2M561.5 500v1M561.5 508v3M561.5 535v1M562.5 471v2M562.5 482v2M562.5 485v1M562.5 488v1M562.5 502v1M562.5 531v1M563.5 472v2M563.5 475v1M563.5 485v1M563.5 512v1M564.5 468v1M564.5 474v1M564.5 476v2M564.5 486v2M564.5 490v1M566.5 470v1M566.5 475v1M566.5 484v1M567.5 481v1M568.5 485v1M569.5 475v1M569.5 484v4M569.5 529v1M570.5 483v1M570.5 493v1M571.5 472v1M571.5 483v1M571.5 492v2M573.5 481v1M573.5 488v1M574.5 475v2M575.5 474v3M576.5 480v1M577.5 468v2M577.5 471v1M578.5 478v4M579.5 465v1M579.5 477v1M579.5 479v1M580.5 465v1M582.5 472v1M582.5 475v1M582.5 479v1M582.5 485v1M582.5 492v1M582.5 494v1M583.5 480v1M584.5 466v1M584.5 471v1M584.5 474v1M584.5 479v1M584.5 500v1M584.5 515v1M585.5 477v1M585.5 507v1M585.5 514v1M585.5 519v1M585.5 525v1M586.5 497v1M587.5 528v1M588.5 525v1M589.5 483v1M589.5 494v1M589.5 502v1M590.5 469v1M590.5 472v1M590.5 476v1M590.5 485v1M590.5 487v2M590.5 523v1M591.5 471v2M591.5 475v1M591.5 494v1M592.5 495v1M592.5 528v1M594.5 467v1M594.5 479v1M594.5 525v1M595.5 463v1M595.5 468v1M595.5 529v1M596.5 466v1M597.5 468v4M598.5 450v1M598.5 456v1M599.5 451v1M599.5 456v1M599.5 468v1M600.5 473v2M601.5 454v1M602.5 454v1M602.5 473v1M603.5 470v3M603.5 474v1M603.5 481v1M604.5 455v1M604.5 471v2M604.5 475v1M606.5 451v1M606.5 454v1M607.5 451v1M608.5 457v1M610.5 479v1M611.5 478v1M612.5 473v2M613.5 456v1M613.5 477v1M616.5 480v1M616.5 482v1M620.5 479v1M621.5 483v1M640.5 459v1M641.5 457v3M643.5 458v1M644.5 462v1M645.5 462v1M648.5 455v1M649.5 451v1M649.5 460v1M651.5 393v1M651.5 459v2M651.5 463v1M652.5 389v1M652.5 394v1M653.5 453v1M653.5 463v1M654.5 390v1M654.5 503v2M654.5 529v1M655.5 465v1M656.5 466v2M656.5 497v1M657.5 525v1M659.5 450v1M659.5 455v2M660.5 456v1M661.5 452v1M661.5 458v1M661.5 472v1M662.5 451v1M662.5 454v1M663.5 470v1M664.5 452v2M664.5 473v1M665.5 453v2M665.5 456v1M665.5 471v1M665.5 473v1M668.5 470v1M668.5 478v1M670.5 471v1M671.5 471v1M672.5 453v1M672.5 478v4M673.5 456v1M674.5 472v1M678.5 477v1M680.5 472v2M681.5 469v1M681.5 473v1M682.5 480v1M684.5 472v1M684.5 476v1M686.5 466v1M686.5 474v1M686.5 478v1M687.5 463v1M687.5 479v1M688.5 465v2M689.5 466v2M690.5 475v1M691.5 476v2M693.5 472v1M696.5 487v1M697.5 469v1M699.5 480v1"/><path stroke="#2fff00" d="M68.5 526v1M69.5 511v1M69.5 513v1M69.5 523v1M71.5 530v1M72.5 509v1M74.5 526v1M74.5 530v1M76.5 507v1M77.5 504v1M82.5 523v1M82.5 528v2M82.5 531v1M84.5 518v1M85.5 517v1M86.5 518v1M86.5 523v1M88.5 522v1M90.5 530v1M91.5 506v1M93.5 521v1M95.5 524v1M96.5 514v1M96.5 518v1M97.5 515v1M97.5 518v1M98.5 520v1M98.5 523v1M99.5 511v1M99.5 513v1M100.5 516v1M100.5 521v1M100.5 523v1M101.5 506v1M101.5 509v1M102.5 511v2M102.5 515v1M103.5 519v1M103.5 524v1M106.5 525v1M107.5 503v1M107.5 512v2M107.5 527v1M109.5 505v1M109.5 514v1M111.5 519v1M112.5 512v2M112.5 523v1M113.5 506v1M116.5 513v1M116.5 518v1M136.5 519v1M246.5 459v1M247.5 459v1M258.5 465v1M258.5 467v1M259.5 466v1M261.5 468v1M268.5 469v1M273.5 526v1M275.5 463v1M276.5 465v1M278.5 466v1M280.5 462v1M281.5 462v1M281.5 466v1M283.5 466v1M283.5 471v2M285.5 465v1M285.5 476v1M286.5 466v1M289.5 466v1M289.5 469v1M289.5 488v1M290.5 464v1M290.5 469v3M290.5 486v1M291.5 466v2M291.5 470v1M291.5 482v1M292.5 471v3M293.5 465v1M293.5 468v3M293.5 472v2M294.5 465v2M296.5 471v1M296.5 473v3M296.5 477v1M300.5 469v1M300.5 471v1M300.5 476v1M300.5 483v1M300.5 485v1M304.5 475v2M314.5 516v2M315.5 521v1M318.5 529v2M318.5 533v1M319.5 534v1M320.5 533v1M321.5 480v1M322.5 480v1M323.5 527v1M323.5 532v1M323.5 536v1M324.5 526v1M326.5 523v2M327.5 523v1M327.5 528v1M327.5 536v2M329.5 526v1M329.5 531v1M330.5 526v1M330.5 530v1M330.5 536v1M331.5 455v1M332.5 455v1M332.5 458v1M332.5 463v1M332.5 465v1M332.5 467v1M333.5 451v2M333.5 462v1M333.5 465v1M334.5 459v1M334.5 533v1M334.5 536v1M334.5 538v1M335.5 464v1M335.5 532v1M336.5 460v3M337.5 462v1M337.5 466v1M337.5 468v1M339.5 525v2M340.5 524v2M340.5 530v1M340.5 532v1M342.5 520v1M342.5 533v1M342.5 536v1M343.5 527v2M343.5 533v1M343.5 535v1M345.5 521v2M345.5 530v2M346.5 525v2M346.5 538v1M347.5 515v1M348.5 514v3M348.5 530v1M349.5 512v1M349.5 517v1M349.5 521v1M350.5 462v4M350.5 469v1M350.5 514v1M350.5 516v1M350.5 524v1M350.5 526v1M351.5 463v2M351.5 513v1M352.5 460v1M352.5 510v1M353.5 513v1M355.5 513v1M355.5 521v1M355.5 525v1M356.5 512v1M356.5 517v1M356.5 519v2M356.5 525v2M357.5 469v1M357.5 518v2M357.5 525v1M358.5 469v1M358.5 533v1M359.5 516v1M360.5 475v1M360.5 520v1M360.5 525v1M360.5 530v2M361.5 473v2M361.5 517v1M361.5 520v2M361.5 525v3M361.5 537v1M362.5 527v1M363.5 521v1M363.5 524v1M363.5 528v1M364.5 531v1M365.5 528v1M366.5 526v1M366.5 530v1M366.5 538v1M367.5 520v3M367.5 527v1M367.5 537v1M370.5 525v1M370.5 528v1M370.5 535v1M371.5 527v2M371.5 531v1M372.5 533v1M373.5 536v1M375.5 466v3M377.5 529v1M378.5 528v1M378.5 530v2M380.5 532v1M381.5 519v1M381.5 524v1M381.5 526v1M381.5 529v1M389.5 536v1M391.5 531v2M391.5 536v1M393.5 532v1M432.5 435v1M432.5 438v1M432.5 440v2M432.5 444v1M433.5 437v1M433.5 447v2M434.5 447v1M435.5 445v2M435.5 448v1M469.5 425v2M470.5 434v1M471.5 426v1M474.5 428v1M477.5 428v1M481.5 428v1M483.5 424v1M513.5 524v1M514.5 519v1M514.5 523v1M514.5 529v1M515.5 519v1M515.5 528v2M516.5 526v2M516.5 529v1M517.5 517v1M517.5 522v1M517.5 524v1M517.5 527v1M518.5 514v1M518.5 537v1M519.5 518v1M519.5 521v5M519.5 529v1M520.5 517v1M520.5 521v1M520.5 525v1M520.5 531v1M520.5 534v1M521.5 527v1M522.5 520v1M522.5 525v1M522.5 527v1M523.5 507v2M523.5 511v1M523.5 515v1M523.5 518v2M523.5 523v3M524.5 514v1M524.5 518v1M524.5 524v1M525.5 522v1M525.5 527v1M526.5 517v1M526.5 526v3M527.5 514v1M527.5 522v2M528.5 510v2M528.5 518v1M528.5 530v2M530.5 516v1M530.5 526v1M531.5 515v1M531.5 518v1M531.5 524v2M532.5 520v1M532.5 536v1M533.5 516v1M533.5 518v4M533.5 526v1M533.5 528v1M534.5 519v2M534.5 533v1M536.5 519v4M536.5 527v2M537.5 524v1M538.5 508v1M538.5 510v1M538.5 515v1M538.5 521v1M538.5 523v1M538.5 526v1M538.5 532v1M539.5 503v1M539.5 510v4M539.5 519v2M539.5 531v1M540.5 492v1M541.5 488v2M541.5 494v1M542.5 505v1M542.5 507v2M542.5 511v3M542.5 516v1M542.5 520v1M542.5 530v1M543.5 503v1M543.5 508v1M543.5 521v3M543.5 533v1M544.5 499v1M545.5 480v1M545.5 482v3M545.5 486v1M545.5 490v1M545.5 499v1M545.5 501v1M545.5 503v1M545.5 510v2M545.5 520v2M546.5 475v1M546.5 480v1M546.5 483v1M546.5 491v2M546.5 494v2M546.5 497v1M546.5 509v1M546.5 513v1M546.5 519v1M546.5 522v1M546.5 524v1M546.5 526v1M546.5 537v1M547.5 491v1M547.5 518v2M548.5 475v1M548.5 491v1M548.5 498v3M548.5 509v1M548.5 521v2M548.5 538v1M549.5 476v3M549.5 481v2M549.5 492v3M549.5 498v1M549.5 510v1M549.5 514v1M549.5 516v1M549.5 519v1M550.5 478v4M550.5 492v2M550.5 500v1M550.5 508v1M550.5 511v1M550.5 518v1M550.5 537v1M551.5 471v1M551.5 481v3M551.5 487v1M551.5 492v1M551.5 497v1M551.5 499v3M551.5 504v1M551.5 525v1M551.5 536v1M552.5 481v1M552.5 483v1M552.5 490v1M552.5 501v1M552.5 528v1M552.5 536v1M553.5 464v1M553.5 476v1M554.5 464v1M554.5 466v3M554.5 474v1M554.5 476v1M554.5 489v1M555.5 494v2M555.5 513v1M556.5 465v1M556.5 474v1M557.5 466v1M557.5 532v1M557.5 538v1M558.5 466v1M558.5 471v1M558.5 473v1M559.5 459v2M559.5 466v1M559.5 471v2M559.5 504v1M560.5 468v1M560.5 473v2M560.5 486v1M561.5 470v3M561.5 478v1M561.5 480v1M561.5 482v3M562.5 465v1M562.5 468v1M562.5 470v1M562.5 480v1M562.5 489v2M562.5 492v2M562.5 499v1M562.5 509v1M562.5 530v1M562.5 535v2M563.5 469v3M563.5 476v2M563.5 535v1M563.5 538v1M564.5 467v1M564.5 469v1M564.5 475v1M564.5 489v1M565.5 466v1M565.5 471v1M565.5 481v1M565.5 483v2M566.5 467v1M566.5 472v1M566.5 474v1M566.5 479v1M567.5 471v1M567.5 475v2M567.5 478v3M567.5 482v1M568.5 484v1M569.5 474v1M569.5 481v1M569.5 483v1M569.5 531v1M569.5 533v1M570.5 470v2M570.5 473v1M570.5 477v1M570.5 481v2M570.5 485v6M570.5 492v1M571.5 481v1M571.5 490v1M573.5 474v1M573.5 480v1M574.5 470v1M574.5 472v1M574.5 474v1M574.5 477v1M574.5 480v1M575.5 477v1M576.5 474v2M576.5 477v1M576.5 479v1M577.5 470v1M577.5 479v2M577.5 484v3M582.5 467v1M582.5 470v1M582.5 476v1M582.5 484v1M583.5 474v1M583.5 477v1M584.5 477v2M584.5 498v1M584.5 507v1M584.5 514v1M585.5 476v1M585.5 494v1M585.5 499v1M585.5 508v2M586.5 526v1M588.5 504v1M588.5 507v1M588.5 523v2M588.5 528v1M589.5 493v1M589.5 501v1M589.5 504v1M589.5 506v1M590.5 483v1M590.5 491v1M590.5 504v2M590.5 524v1M591.5 459v1M591.5 478v1M591.5 495v1M593.5 448v2M593.5 468v1M594.5 471v1M594.5 476v1M595.5 466v2M595.5 528v1M596.5 451v1M598.5 452v4M599.5 450v1M600.5 455v1M601.5 453v1M601.5 472v1M602.5 453v1M602.5 456v1M602.5 471v2M603.5 454v1M603.5 475v1M604.5 453v1M604.5 456v1M604.5 470v1M604.5 473v1M604.5 476v1M605.5 454v3M606.5 452v1M606.5 455v2M608.5 455v2M608.5 458v1M609.5 452v1M610.5 453v1M610.5 455v2M611.5 476v2M612.5 475v1M612.5 477v1M613.5 457v2M616.5 483v2M637.5 455v1M638.5 455v1M638.5 457v1M639.5 456v1M640.5 456v1M640.5 458v1M648.5 451v1M648.5 453v1M649.5 450v1M649.5 458v2M650.5 451v1M650.5 457v3M651.5 392v1M651.5 453v1M651.5 461v2M652.5 393v1M652.5 451v1M652.5 454v1M652.5 458v1M653.5 451v2M654.5 451v2M654.5 499v2M655.5 494v3M655.5 499v2M655.5 502v1M656.5 391v1M656.5 469v2M656.5 496v1M656.5 498v1M657.5 451v1M658.5 456v1M658.5 466v1M659.5 465v1M659.5 471v1M660.5 452v2M660.5 467v1M661.5 450v1M661.5 453v1M661.5 455v1M662.5 456v1M663.5 454v1M664.5 454v1M664.5 472v1M665.5 455v1M665.5 469v1M666.5 451v4M666.5 471v1M668.5 472v1M671.5 470v1M671.5 478v1M675.5 469v1M675.5 471v1M676.5 454v1M677.5 454v1M680.5 471v1M681.5 470v2M681.5 475v2M682.5 478v1M686.5 460v1M686.5 476v1M687.5 465v1M688.5 464v1M689.5 465v1M690.5 465v1M690.5 477v1M690.5 485v1M691.5 479v1M691.5 482v2M691.5 489v2M693.5 471v1M696.5 483v1M698.5 465v1"/><path stroke="#63ff00" d="M68.5 513v1M69.5 525v1M71.5 511v1M75.5 527v1M76.5 521v1M76.5 531v1M77.5 505v1M77.5 510v1M81.5 530v1M82.5 524v1M82.5 527v1M84.5 517v1M87.5 523v1M87.5 525v1M90.5 507v1M94.5 520v1M96.5 513v1M96.5 522v2M97.5 519v1M97.5 521v1M97.5 525v1M100.5 519v1M100.5 525v1M101.5 508v1M101.5 515v1M101.5 527v1M102.5 506v1M102.5 513v1M103.5 514v1M104.5 509v1M105.5 504v1M105.5 507v2M106.5 503v2M106.5 506v3M106.5 517v1M107.5 526v1M108.5 530v1M112.5 514v1M113.5 507v1M116.5 522v1M116.5 528v1M117.5 527v1M251.5 464v1M260.5 465v1M260.5 467v2M267.5 465v1M270.5 530v1M271.5 464v2M272.5 466v1M273.5 466v1M274.5 464v1M275.5 468v1M276.5 466v3M277.5 467v1M281.5 464v2M284.5 473v1M285.5 467v1M286.5 467v1M289.5 479v3M290.5 465v1M290.5 467v2M290.5 472v2M290.5 478v2M291.5 469v1M291.5 483v1M292.5 465v2M293.5 464v1M293.5 466v1M293.5 471v1M293.5 474v1M293.5 476v1M295.5 470v3M297.5 468v1M297.5 473v1M297.5 480v1M298.5 477v1M300.5 472v3M301.5 468v1M301.5 474v1M301.5 484v1M302.5 479v1M304.5 478v1M304.5 481v1M307.5 479v1M309.5 470v2M318.5 528v1M318.5 531v1M319.5 533v1M319.5 538v1M320.5 526v1M323.5 526v1M327.5 453v2M327.5 526v1M328.5 521v1M328.5 523v1M329.5 533v1M329.5 535v2M331.5 456v1M331.5 527v1M332.5 457v1M332.5 466v1M332.5 468v1M332.5 526v1M333.5 453v1M333.5 463v1M334.5 453v1M334.5 467v3M335.5 454v1M335.5 460v1M335.5 467v1M336.5 455v1M336.5 533v1M337.5 463v1M337.5 465v1M337.5 467v1M338.5 519v1M341.5 524v1M342.5 524v1M345.5 529v1M346.5 515v2M346.5 534v1M347.5 520v2M348.5 513v1M348.5 520v2M348.5 529v1M349.5 522v2M349.5 525v2M350.5 468v1M350.5 515v1M350.5 525v1M351.5 468v2M351.5 535v1M353.5 515v1M354.5 517v1M354.5 520v1M356.5 516v1M357.5 510v1M357.5 528v1M357.5 532v1M357.5 534v1M358.5 518v1M358.5 532v1M359.5 518v1M359.5 520v1M359.5 522v1M359.5 525v1M359.5 535v1M360.5 479v1M360.5 521v1M361.5 472v1M361.5 523v1M362.5 521v1M363.5 522v1M364.5 519v1M364.5 528v1M365.5 520v1M365.5 527v1M366.5 529v1M367.5 526v1M367.5 531v1M367.5 534v1M367.5 538v1M370.5 537v1M374.5 531v1M380.5 530v1M381.5 525v1M381.5 528v1M387.5 534v1M388.5 536v1M390.5 533v1M432.5 437v1M433.5 439v1M433.5 449v2M434.5 436v1M467.5 430v1M467.5 433v1M467.5 435v2M468.5 431v1M469.5 424v1M469.5 431v1M470.5 425v3M470.5 433v1M472.5 426v1M473.5 430v1M474.5 429v1M475.5 419v1M475.5 427v2M476.5 427v1M478.5 425v1M479.5 425v2M480.5 424v1M481.5 425v3M484.5 423v1M514.5 524v1M514.5 528v1M516.5 519v1M516.5 524v2M517.5 515v1M517.5 519v1M517.5 521v1M517.5 526v1M517.5 528v2M517.5 537v1M518.5 526v1M518.5 528v2M519.5 519v2M521.5 514v1M521.5 526v1M522.5 510v1M522.5 512v1M522.5 521v1M522.5 523v2M522.5 526v1M522.5 537v1M523.5 520v1M524.5 512v1M524.5 519v1M524.5 523v1M524.5 531v1M524.5 533v1M526.5 518v1M526.5 520v2M527.5 515v1M528.5 516v1M528.5 525v1M528.5 528v2M530.5 515v1M531.5 520v1M531.5 523v1M532.5 518v1M532.5 525v2M534.5 518v1M535.5 537v1M537.5 526v1M538.5 516v2M538.5 519v2M538.5 525v1M538.5 527v3M539.5 514v1M539.5 516v2M539.5 525v1M540.5 501v1M541.5 495v1M541.5 534v1M542.5 499v2M542.5 506v1M542.5 509v1M542.5 515v1M542.5 518v1M542.5 523v2M543.5 490v1M543.5 500v2M543.5 510v1M543.5 514v1M543.5 520v1M544.5 488v1M544.5 490v1M544.5 492v3M544.5 504v3M544.5 530v1M544.5 532v1M545.5 487v1M545.5 491v1M545.5 493v1M545.5 500v1M545.5 505v1M545.5 507v1M545.5 523v1M546.5 476v1M546.5 486v3M546.5 510v2M546.5 521v1M546.5 525v1M547.5 476v1M547.5 480v1M547.5 484v3M547.5 496v1M547.5 510v1M547.5 512v1M547.5 514v2M547.5 522v1M547.5 525v1M547.5 536v1M548.5 476v2M548.5 486v1M548.5 514v3M548.5 524v1M549.5 473v1M549.5 483v3M549.5 495v1M549.5 497v1M549.5 517v2M550.5 494v1M550.5 497v3M550.5 507v1M550.5 509v1M550.5 516v1M551.5 485v1M551.5 490v1M551.5 493v4M551.5 502v2M551.5 519v1M551.5 528v1M552.5 463v1M552.5 465v1M552.5 482v1M552.5 530v1M553.5 465v3M553.5 472v2M553.5 477v1M553.5 490v1M554.5 471v1M554.5 473v1M554.5 483v2M554.5 490v1M555.5 461v2M555.5 492v2M556.5 464v1M556.5 466v1M556.5 468v1M556.5 470v1M557.5 465v1M557.5 493v1M558.5 457v4M558.5 465v1M558.5 472v1M559.5 461v2M559.5 470v1M559.5 505v1M559.5 524v1M559.5 526v1M559.5 538v1M560.5 478v1M560.5 523v1M561.5 443v2M561.5 465v1M561.5 468v2M561.5 477v1M561.5 479v1M561.5 537v2M562.5 463v2M562.5 466v1M562.5 469v1M562.5 477v1M562.5 479v1M562.5 491v1M562.5 508v1M563.5 464v1M563.5 468v1M563.5 490v1M563.5 531v1M563.5 536v2M564.5 466v1M564.5 470v4M565.5 472v1M565.5 479v1M566.5 471v1M566.5 473v1M566.5 476v3M567.5 477v1M568.5 473v1M568.5 483v1M569.5 469v1M569.5 476v1M569.5 482v1M569.5 532v1M570.5 478v1M570.5 491v1M571.5 473v1M571.5 491v1M572.5 472v1M572.5 476v2M573.5 472v1M573.5 475v1M574.5 471v1M574.5 473v1M575.5 478v1M576.5 476v1M576.5 478v1M577.5 477v2M577.5 481v2M580.5 477v1M582.5 473v2M583.5 472v1M584.5 473v1M585.5 497v1M589.5 470v2M589.5 499v1M589.5 523v1M590.5 486v1M591.5 460v1M591.5 477v1M591.5 527v1M592.5 452v3M592.5 496v1M592.5 529v1M593.5 450v1M593.5 469v1M594.5 456v1M594.5 468v1M594.5 478v1M595.5 451v2M595.5 527v1M596.5 452v1M596.5 467v2M597.5 452v3M598.5 451v1M600.5 452v2M600.5 456v1M601.5 471v1M601.5 473v1M603.5 452v2M603.5 473v1M603.5 476v1M604.5 457v1M605.5 453v1M605.5 457v2M607.5 452v1M609.5 453v3M610.5 454v1M610.5 457v1M611.5 454v4M612.5 454v1M612.5 457v2M612.5 476v1M613.5 453v1M613.5 455v1M637.5 454v1M637.5 456v1M639.5 457v2M640.5 457v1M644.5 459v1M644.5 461v1M648.5 452v1M649.5 457v1M650.5 452v1M650.5 460v1M651.5 451v2M652.5 452v1M652.5 459v1M652.5 465v1M653.5 458v1M653.5 462v1M654.5 454v2M654.5 463v1M654.5 494v5M655.5 453v1M655.5 503v2M656.5 392v1M656.5 450v2M656.5 471v1M656.5 495v1M656.5 501v2M657.5 392v1M657.5 450v1M657.5 452v1M657.5 471v1M657.5 528v1M658.5 450v1M658.5 452v2M658.5 455v1M658.5 467v1M659.5 451v1M659.5 453v2M659.5 466v4M660.5 449v1M660.5 454v1M660.5 469v1M661.5 449v1M661.5 454v1M661.5 456v1M662.5 457v1M662.5 463v4M662.5 468v1M664.5 467v3M665.5 452v1M665.5 470v1M666.5 449v1M666.5 473v1M667.5 472v1M667.5 477v1M668.5 471v1M668.5 477v1M670.5 469v1M671.5 479v1M671.5 481v1M675.5 470v1M679.5 474v1M683.5 471v1M683.5 478v1M687.5 466v1M697.5 463v2M699.5 479v1"/><path stroke="#97ff00" d="M69.5 526v1M71.5 510v1M71.5 518v1M72.5 512v1M76.5 505v2M76.5 510v1M76.5 532v2M77.5 521v1M77.5 532v1M83.5 508v1M84.5 508v2M85.5 520v1M87.5 511v1M90.5 506v1M97.5 514v1M97.5 517v1M97.5 522v1M98.5 517v1M100.5 515v1M100.5 526v1M101.5 519v1M102.5 508v1M102.5 516v1M103.5 521v1M106.5 505v1M107.5 504v1M107.5 525v1M108.5 504v1M109.5 506v1M116.5 514v1M251.5 465v1M259.5 464v2M261.5 469v1M268.5 533v1M269.5 467v1M270.5 464v2M275.5 464v1M277.5 464v2M285.5 466v1M289.5 487v1M291.5 468v1M292.5 463v2M292.5 467v1M292.5 470v1M296.5 472v1M297.5 467v1M297.5 474v1M297.5 477v1M297.5 479v1M298.5 470v2M298.5 478v1M299.5 470v1M299.5 477v1M301.5 469v1M301.5 473v1M302.5 476v3M302.5 480v1M303.5 468v1M304.5 473v2M304.5 477v1M304.5 480v1M306.5 477v1M307.5 471v3M307.5 477v2M314.5 502v1M314.5 510v1M314.5 515v1M315.5 511v1M317.5 458v1M319.5 535v1M321.5 481v1M321.5 483v2M321.5 525v1M321.5 527v1M323.5 533v1M324.5 536v1M327.5 452v1M327.5 455v1M327.5 522v1M328.5 519v1M328.5 522v1M329.5 529v1M330.5 529v1M331.5 458v2M332.5 456v1M332.5 464v1M334.5 452v1M334.5 460v1M334.5 465v2M335.5 461v1M335.5 534v1M336.5 456v4M337.5 464v1M337.5 471v1M337.5 537v1M338.5 462v1M339.5 531v1M342.5 531v1M343.5 532v1M343.5 534v1M346.5 517v1M346.5 533v1M347.5 522v1M347.5 532v1M348.5 517v1M348.5 519v1M349.5 513v4M349.5 524v1M350.5 507v1M351.5 467v1M351.5 470v1M351.5 517v1M353.5 508v1M354.5 516v1M354.5 518v2M355.5 518v3M356.5 518v1M357.5 509v1M357.5 517v1M357.5 521v1M358.5 521v1M358.5 528v1M359.5 515v1M359.5 517v1M359.5 519v1M359.5 526v1M359.5 538v1M360.5 476v1M360.5 526v1M361.5 522v1M362.5 522v1M363.5 518v1M363.5 523v1M364.5 521v1M365.5 521v1M366.5 518v2M367.5 532v1M377.5 530v1M380.5 531v1M381.5 527v1M387.5 535v1M388.5 535v1M389.5 535v1M390.5 534v1M390.5 536v1M394.5 413v2M433.5 440v1M433.5 443v3M434.5 438v1M434.5 444v1M434.5 453v1M435.5 437v2M435.5 444v1M467.5 434v1M468.5 429v2M468.5 432v1M469.5 428v1M469.5 430v1M469.5 439v1M470.5 431v1M471.5 421v2M471.5 424v1M471.5 427v2M471.5 431v1M472.5 425v1M472.5 432v1M472.5 434v1M473.5 421v1M474.5 421v1M474.5 423v1M474.5 426v1M474.5 430v1M475.5 420v2M475.5 423v1M477.5 430v1M480.5 425v1M480.5 433v1M481.5 424v1M481.5 430v1M482.5 424v1M482.5 426v1M483.5 425v1M513.5 525v2M514.5 527v1M515.5 521v7M517.5 518v1M517.5 520v1M517.5 535v2M518.5 515v1M518.5 521v1M518.5 523v1M518.5 525v1M518.5 527v1M520.5 530v1M520.5 536v1M521.5 457v1M521.5 459v1M521.5 519v1M521.5 523v2M522.5 522v1M523.5 509v1M523.5 512v1M523.5 517v1M524.5 520v1M524.5 525v1M525.5 518v1M526.5 519v1M527.5 512v2M528.5 521v1M528.5 524v1M528.5 532v1M529.5 516v1M529.5 526v2M530.5 524v2M530.5 527v1M531.5 513v1M531.5 526v1M532.5 521v1M532.5 523v2M532.5 531v1M535.5 534v1M536.5 537v1M537.5 525v1M537.5 527v1M539.5 521v1M542.5 498v1M542.5 502v2M542.5 517v1M543.5 492v1M543.5 507v1M543.5 532v1M544.5 482v1M544.5 487v1M544.5 489v1M544.5 495v1M544.5 498v1M544.5 514v1M544.5 531v1M545.5 492v1M545.5 498v1M545.5 504v1M545.5 506v1M545.5 512v2M545.5 536v1M546.5 478v1M546.5 493v1M546.5 512v1M546.5 520v1M546.5 523v1M547.5 475v1M547.5 477v3M547.5 487v1M547.5 492v2M547.5 495v1M547.5 501v2M547.5 511v1M547.5 516v1M547.5 521v1M547.5 523v1M548.5 480v1M548.5 487v1M548.5 492v2M548.5 495v1M548.5 501v2M548.5 523v1M548.5 535v1M549.5 474v1M549.5 486v1M549.5 490v2M549.5 496v1M549.5 513v1M549.5 515v1M549.5 538v1M550.5 477v1M550.5 490v1M550.5 495v2M550.5 510v1M550.5 514v1M550.5 517v1M551.5 484v1M551.5 517v2M551.5 526v2M552.5 464v1M553.5 474v1M553.5 489v1M554.5 465v1M554.5 470v1M554.5 472v1M555.5 460v1M556.5 463v1M556.5 469v1M557.5 459v1M557.5 530v1M559.5 463v3M559.5 537v1M560.5 460v2M560.5 467v1M560.5 477v1M560.5 526v1M561.5 445v1M561.5 464v1M561.5 466v1M561.5 531v1M562.5 467v1M562.5 533v1M563.5 465v1M563.5 467v1M563.5 486v1M563.5 489v1M564.5 488v1M565.5 473v3M565.5 477v1M567.5 468v3M568.5 472v1M568.5 474v5M569.5 473v1M570.5 472v1M571.5 474v1M571.5 478v2M572.5 473v1M573.5 473v1M573.5 476v3M573.5 487v1M577.5 476v1M582.5 493v1M583.5 467v1M583.5 473v1M583.5 478v2M584.5 467v1M584.5 475v1M585.5 473v1M585.5 510v1M589.5 524v1M590.5 492v2M590.5 500v2M591.5 462v1M591.5 526v1M592.5 451v1M593.5 451v3M594.5 454v2M594.5 477v1M596.5 453v1M596.5 470v1M597.5 456v1M600.5 450v2M600.5 454v1M600.5 457v1M601.5 451v2M602.5 470v1M603.5 455v1M605.5 452v1M607.5 454v1M607.5 456v1M608.5 454v1M609.5 456v2M611.5 453v1M612.5 455v1M613.5 454v1M638.5 456v1M647.5 454v1M650.5 450v1M650.5 461v2M651.5 450v1M652.5 392v1M652.5 460v2M652.5 463v2M653.5 459v3M654.5 457v1M654.5 462v1M655.5 450v3M655.5 463v2M656.5 452v2M656.5 464v1M656.5 494v1M656.5 503v2M657.5 393v1M657.5 456v1M658.5 463v1M659.5 460v1M660.5 465v1M662.5 467v1M663.5 463v1M664.5 470v1M665.5 450v1M666.5 470v1M667.5 470v1M669.5 464v1M674.5 469v1M675.5 468v1M677.5 470v2M679.5 473v1M680.5 469v2M681.5 472v1M683.5 472v2M690.5 470v1M690.5 479v1M691.5 473v1M691.5 475v1M691.5 484v1M691.5 488v1M696.5 484v1M696.5 486v1M698.5 463v1"/><path stroke="#cbff00" d="M68.5 512v1M68.5 518v1M68.5 523v1M68.5 525v1M69.5 519v1M69.5 524v1M71.5 513v1M71.5 520v1M72.5 508v1M72.5 510v1M72.5 513v1M72.5 529v1M76.5 504v1M83.5 509v1M85.5 519v1M90.5 528v2M97.5 512v1M97.5 523v1M100.5 520v1M101.5 507v1M101.5 522v1M102.5 507v1M103.5 506v1M103.5 511v3M105.5 506v1M106.5 526v1M107.5 511v1M107.5 523v1M108.5 505v2M108.5 511v1M109.5 520v1M116.5 526v1M117.5 511v1M118.5 526v1M260.5 463v1M262.5 469v1M268.5 467v2M269.5 465v2M269.5 468v3M270.5 531v1M274.5 525v1M275.5 465v2M277.5 463v1M277.5 466v1M280.5 463v1M290.5 466v1M290.5 487v1M292.5 469v1M297.5 466v1M297.5 476v1M297.5 478v1M298.5 466v2M299.5 467v3M299.5 471v2M301.5 471v1M303.5 469v1M303.5 476v3M303.5 480v2M304.5 472v1M306.5 469v2M306.5 476v1M306.5 480v3M307.5 474v1M307.5 481v2M309.5 464v1M309.5 472v1M314.5 476v1M314.5 503v1M314.5 509v1M314.5 511v1M315.5 512v2M318.5 532v1M319.5 454v1M319.5 516v1M320.5 451v2M322.5 532v1M324.5 525v1M327.5 451v1M327.5 456v1M328.5 517v1M328.5 520v1M329.5 534v1M330.5 532v1M330.5 535v1M331.5 460v1M331.5 462v1M331.5 465v1M331.5 526v1M332.5 469v1M332.5 471v1M335.5 455v1M335.5 459v1M335.5 462v1M335.5 469v1M335.5 475v2M335.5 535v1M337.5 469v1M340.5 531v1M342.5 521v1M346.5 514v1M346.5 532v1M347.5 514v1M347.5 516v4M347.5 525v1M347.5 528v1M348.5 518v1M348.5 522v1M348.5 525v1M350.5 505v2M350.5 508v3M351.5 460v2M351.5 507v3M352.5 507v1M352.5 509v1M353.5 514v1M354.5 508v1M356.5 508v1M356.5 511v1M357.5 511v1M357.5 516v1M357.5 524v1M358.5 517v1M358.5 519v1M358.5 524v1M359.5 523v1M359.5 531v1M359.5 534v1M360.5 516v3M360.5 524v1M360.5 528v2M362.5 520v1M364.5 525v1M366.5 517v1M366.5 527v2M367.5 533v1M371.5 526v1M374.5 528v1M375.5 531v2M375.5 534v2M389.5 534v1M390.5 535v1M393.5 531v1M402.5 425v1M406.5 423v2M429.5 414v1M432.5 436v1M433.5 422v1M433.5 441v1M434.5 439v1M435.5 435v2M435.5 449v1M447.5 424v1M447.5 426v1M466.5 430v2M466.5 433v1M468.5 426v1M468.5 435v3M469.5 422v2M469.5 429v1M470.5 424v1M470.5 428v1M470.5 430v1M471.5 423v1M471.5 429v1M471.5 437v1M472.5 421v3M473.5 422v1M473.5 428v1M473.5 432v1M474.5 422v1M474.5 427v1M474.5 433v1M475.5 430v1M476.5 425v1M476.5 428v1M477.5 425v1M477.5 431v1M478.5 423v1M478.5 430v4M479.5 427v1M479.5 429v2M480.5 432v1M482.5 422v1M482.5 427v1M484.5 425v1M485.5 425v1M495.5 436v1M500.5 440v2M508.5 436v1M511.5 454v1M512.5 447v1M512.5 454v1M512.5 456v2M513.5 459v1M514.5 525v1M515.5 520v1M516.5 451v4M516.5 458v1M516.5 521v1M516.5 523v1M517.5 427v1M517.5 430v1M518.5 517v1M518.5 519v1M518.5 522v1M519.5 530v1M520.5 458v2M520.5 518v3M521.5 458v1M521.5 525v1M522.5 536v1M523.5 510v1M523.5 534v1M525.5 520v2M528.5 514v1M529.5 514v1M529.5 524v2M529.5 528v2M530.5 519v1M530.5 521v1M530.5 528v2M530.5 534v1M531.5 521v2M531.5 529v1M532.5 522v1M532.5 527v1M538.5 518v1M539.5 522v1M542.5 497v1M542.5 501v1M542.5 504v1M542.5 510v1M542.5 531v1M542.5 537v1M543.5 493v4M543.5 498v1M544.5 496v2M544.5 511v3M545.5 485v1M546.5 474v1M546.5 477v1M546.5 531v1M547.5 494v1M547.5 497v2M547.5 500v1M547.5 513v1M547.5 524v1M547.5 535v1M548.5 478v2M548.5 494v1M549.5 472v1M549.5 475v1M549.5 487v1M549.5 489v1M549.5 512v1M550.5 476v1M550.5 486v1M550.5 491v1M550.5 512v2M550.5 531v1M551.5 520v1M555.5 538v1M556.5 457v2M556.5 467v1M557.5 457v1M557.5 460v1M557.5 464v1M557.5 531v1M558.5 461v3M559.5 458v1M559.5 527v1M560.5 462v1M560.5 475v2M560.5 525v1M560.5 527v1M561.5 442v1M561.5 463v1M561.5 467v1M561.5 530v1M562.5 538v1M563.5 466v1M565.5 478v1M568.5 469v1M568.5 471v1M568.5 479v1M568.5 482v1M569.5 470v3M569.5 478v1M570.5 479v2M571.5 475v1M571.5 477v1M571.5 480v1M572.5 475v1M573.5 479v1M583.5 468v1M583.5 471v1M583.5 475v2M584.5 469v1M584.5 499v1M588.5 506v1M594.5 453v1M594.5 469v1M595.5 453v3M596.5 454v2M596.5 469v1M597.5 455v1M601.5 470v1M602.5 452v1M604.5 458v1M607.5 453v1M607.5 455v1M608.5 452v1M609.5 458v1M612.5 453v1M612.5 456v1M652.5 462v1M654.5 458v1M654.5 461v1M655.5 462v1M656.5 454v1M657.5 391v1M657.5 453v2M657.5 462v1M657.5 465v1M658.5 462v1M658.5 465v1M658.5 468v1M660.5 463v1M661.5 462v3M663.5 462v1M663.5 464v1M667.5 471v1M668.5 464v2M669.5 467v1M671.5 467v1M673.5 468v1M674.5 466v3M674.5 470v1M675.5 467v1M677.5 472v1M679.5 471v2M679.5 475v1M682.5 474v1M682.5 482v1M683.5 466v1M683.5 474v1M683.5 477v1M690.5 467v1M690.5 478v1M690.5 481v1M691.5 486v1M697.5 462v1M697.5 470v1M698.5 462v1"/><path stroke="#ffff00" d="M82.5 530v1M85.5 518v1M86.5 517v1M90.5 527v1M97.5 520v1M100.5 514v1M101.5 517v1M101.5 526v1M102.5 509v1M102.5 522v1M103.5 522v1M107.5 505v1M107.5 524v1M112.5 521v2M116.5 519v1M116.5 525v1M259.5 463v1M267.5 464v1M268.5 466v1M268.5 530v1M269.5 464v1M269.5 525v1M272.5 464v2M273.5 467v1M273.5 527v1M274.5 468v1M274.5 527v1M275.5 467v1M278.5 464v2M279.5 466v2M280.5 464v1M280.5 467v1M298.5 468v1M298.5 476v1M299.5 473v1M299.5 475v2M301.5 472v1M302.5 481v1M303.5 475v1M303.5 479v1M304.5 479v1M305.5 472v1M305.5 480v1M306.5 471v1M306.5 475v1M306.5 479v1M307.5 469v2M307.5 475v2M307.5 480v1M308.5 472v2M308.5 479v1M309.5 467v2M309.5 473v1M309.5 479v1M311.5 472v1M311.5 474v1M314.5 470v4M314.5 475v1M314.5 512v1M314.5 514v1M315.5 515v1M315.5 520v1M317.5 459v1M317.5 465v1M318.5 458v1M318.5 465v3M319.5 455v2M319.5 514v2M319.5 518v1M320.5 453v1M320.5 459v1M321.5 532v1M325.5 523v1M327.5 450v1M327.5 457v2M327.5 516v1M327.5 524v1M327.5 534v1M328.5 505v1M328.5 518v1M329.5 527v2M330.5 505v1M330.5 527v1M330.5 531v1M330.5 533v1M332.5 470v1M334.5 463v2M335.5 456v3M335.5 468v1M335.5 470v1M335.5 477v1M338.5 463v1M342.5 523v1M346.5 513v1M346.5 518v1M346.5 520v1M346.5 527v2M346.5 530v1M347.5 526v1M347.5 531v1M350.5 503v2M351.5 462v1M351.5 514v2M352.5 508v1M353.5 506v1M354.5 515v1M355.5 507v1M355.5 512v1M357.5 522v2M358.5 516v1M358.5 522v2M358.5 525v1M359.5 521v1M359.5 524v1M359.5 532v1M360.5 519v1M372.5 531v1M374.5 530v1M380.5 529v1M391.5 537v1M398.5 425v2M398.5 435v1M400.5 424v1M401.5 422v1M401.5 424v1M401.5 426v3M405.5 421v1M405.5 424v1M405.5 426v3M406.5 422v1M406.5 425v2M419.5 425v1M420.5 424v2M429.5 412v2M429.5 415v1M433.5 421v1M433.5 423v2M434.5 437v1M434.5 443v1M434.5 449v1M435.5 443v1M435.5 450v1M436.5 437v1M446.5 415v1M447.5 427v1M461.5 452v1M462.5 441v2M462.5 449v1M463.5 443v1M464.5 443v1M466.5 432v1M466.5 435v1M466.5 443v2M468.5 427v1M468.5 438v1M468.5 443v1M469.5 436v2M470.5 423v1M470.5 436v2M471.5 432v1M471.5 435v1M471.5 438v1M472.5 424v1M472.5 435v1M473.5 423v1M473.5 437v1M474.5 432v1M474.5 434v1M475.5 422v1M475.5 424v1M476.5 424v1M477.5 432v1M478.5 434v1M479.5 431v4M480.5 426v1M480.5 431v1M480.5 434v2M482.5 428v1M491.5 424v3M492.5 426v1M495.5 430v2M495.5 437v1M500.5 442v1M502.5 428v1M508.5 437v1M509.5 441v1M510.5 445v4M511.5 452v2M511.5 455v3M512.5 450v2M512.5 453v1M512.5 458v1M513.5 451v2M515.5 446v1M516.5 448v1M516.5 455v3M516.5 520v1M516.5 522v1M517.5 426v1M517.5 431v5M518.5 518v1M518.5 520v1M518.5 524v1M520.5 449v1M520.5 451v1M520.5 457v1M521.5 452v1M521.5 454v3M521.5 520v3M523.5 455v1M523.5 458v4M523.5 531v1M523.5 538v1M525.5 519v1M528.5 512v1M528.5 533v1M529.5 511v1M529.5 515v1M529.5 521v1M529.5 523v1M529.5 538v1M530.5 517v2M530.5 523v1M530.5 536v2M531.5 527v2M532.5 528v2M532.5 532v1M535.5 536v1M536.5 535v1M536.5 538v1M539.5 524v1M539.5 532v1M539.5 535v1M543.5 497v1M543.5 499v1M543.5 504v2M543.5 511v1M543.5 513v1M546.5 485v1M546.5 536v1M547.5 499v1M547.5 532v1M548.5 510v4M548.5 532v1M549.5 488v1M550.5 515v1M555.5 459v1M555.5 537v1M556.5 459v1M556.5 461v1M557.5 458v1M557.5 462v2M558.5 464v1M560.5 463v1M560.5 524v1M561.5 441v1M561.5 533v1M562.5 532v1M565.5 476v1M568.5 470v1M568.5 480v2M569.5 530v1M569.5 538v1M572.5 474v1M573.5 486v1M583.5 498v2M584.5 470v1M590.5 470v2M590.5 494v1M591.5 528v1M594.5 452v1M595.5 456v1M595.5 478v2M596.5 477v3M601.5 450v1M608.5 453v1M647.5 453v1M654.5 459v2M655.5 455v2M655.5 459v3M656.5 463v1M657.5 390v1M657.5 463v1M657.5 466v1M658.5 464v1M659.5 463v2M660.5 462v1M660.5 464v1M663.5 466v1M664.5 464v3M668.5 468v1M669.5 465v2M670.5 464v1M670.5 467v1M671.5 466v1M671.5 468v2M673.5 467v1M676.5 467v4M676.5 473v1M677.5 469v1M677.5 473v1M678.5 470v3M679.5 470v1M682.5 471v1M682.5 473v1M682.5 475v1M683.5 465v1M683.5 476v1M686.5 465v1M690.5 487v1M691.5 474v1M691.5 487v1"/><path stroke="#ffe300" d="M60.5 513v1M68.5 511v1M68.5 515v2M68.5 524v1M69.5 516v3M72.5 511v1M93.5 522v1M96.5 515v1M101.5 516v1M101.5 518v1M103.5 510v1M105.5 505v1M107.5 530v1M109.5 519v1M112.5 519v2M116.5 527v1M118.5 524v2M268.5 464v1M272.5 463v1M274.5 465v1M274.5 467v1M277.5 468v1M279.5 465v1M280.5 465v2M292.5 468v1M298.5 473v3M302.5 475v1M303.5 470v1M303.5 473v2M304.5 469v2M305.5 479v1M305.5 481v3M306.5 472v1M308.5 471v1M308.5 477v2M309.5 465v2M309.5 476v1M309.5 478v1M310.5 470v1M310.5 479v1M311.5 473v1M313.5 478v1M314.5 468v2M314.5 474v1M314.5 505v1M314.5 513v1M315.5 476v2M315.5 510v1M315.5 514v1M315.5 516v1M317.5 464v1M317.5 466v2M318.5 464v1M318.5 476v1M318.5 527v1M319.5 459v4M319.5 517v1M319.5 525v1M320.5 455v4M320.5 460v1M321.5 451v1M321.5 516v1M322.5 450v1M324.5 531v1M325.5 522v1M326.5 537v1M327.5 517v1M327.5 525v1M327.5 527v1M328.5 516v1M328.5 535v1M331.5 461v1M331.5 463v1M334.5 461v2M334.5 471v2M335.5 471v2M335.5 474v1M336.5 473v1M337.5 470v1M341.5 522v2M342.5 522v1M346.5 519v1M346.5 523v1M347.5 523v2M347.5 529v1M348.5 523v2M349.5 531v1M353.5 507v1M354.5 506v2M354.5 509v2M355.5 511v1M356.5 510v1M359.5 533v1M364.5 522v3M365.5 519v1M369.5 526v1M375.5 533v1M398.5 428v1M398.5 433v1M399.5 417v1M399.5 428v1M401.5 423v1M402.5 426v1M403.5 427v1M404.5 419v1M404.5 427v2M405.5 429v2M406.5 421v1M413.5 423v1M418.5 426v1M419.5 424v1M420.5 423v1M420.5 426v1M422.5 427v3M432.5 418v5M432.5 446v1M433.5 420v1M433.5 442v1M434.5 440v2M434.5 450v1M434.5 452v1M435.5 439v2M436.5 436v1M436.5 438v1M440.5 442v1M445.5 416v2M446.5 428v2M447.5 422v2M448.5 424v1M448.5 443v5M449.5 424v1M451.5 416v1M461.5 442v2M461.5 449v1M461.5 451v1M461.5 453v1M462.5 443v1M462.5 447v2M463.5 440v1M463.5 442v1M464.5 440v1M464.5 442v1M465.5 442v1M465.5 453v1M467.5 444v1M467.5 447v3M467.5 458v1M468.5 439v1M468.5 444v1M468.5 458v1M469.5 446v1M470.5 422v1M470.5 440v1M471.5 430v1M471.5 453v1M472.5 436v1M473.5 426v1M473.5 434v1M473.5 436v1M476.5 420v1M476.5 423v1M476.5 430v1M476.5 432v1M477.5 421v1M480.5 430v1M480.5 437v1M483.5 428v1M491.5 427v1M492.5 424v2M492.5 427v2M495.5 428v2M495.5 432v1M496.5 431v1M496.5 433v2M496.5 436v1M500.5 439v1M500.5 443v1M501.5 431v1M501.5 438v1M501.5 443v1M502.5 429v1M507.5 434v3M508.5 438v2M508.5 441v2M509.5 442v3M509.5 447v1M511.5 450v2M511.5 458v2M512.5 448v2M512.5 452v1M512.5 459v1M513.5 449v2M513.5 453v2M513.5 458v1M514.5 449v5M514.5 458v3M514.5 526v1M515.5 448v2M515.5 454v3M516.5 450v1M517.5 436v1M520.5 448v1M520.5 450v1M520.5 452v1M520.5 454v3M521.5 449v1M521.5 451v1M523.5 456v2M528.5 515v1M528.5 522v1M528.5 536v1M529.5 513v1M529.5 517v3M529.5 522v1M529.5 532v1M530.5 520v1M530.5 522v1M531.5 537v1M532.5 530v1M539.5 523v1M543.5 506v1M543.5 512v1M547.5 534v1M550.5 475v1M550.5 487v1M556.5 460v1M556.5 462v1M556.5 538v1M557.5 461v1M560.5 464v3M560.5 533v1M561.5 462v1M561.5 532v1M562.5 537v1M563.5 487v1M569.5 479v1M569.5 534v1M585.5 475v1M591.5 461v1M595.5 476v2M655.5 458v1M656.5 459v1M656.5 462v1M657.5 460v2M657.5 467v1M657.5 469v1M658.5 460v2M659.5 462v1M663.5 465v1M663.5 467v3M667.5 464v1M668.5 466v2M669.5 469v1M670.5 465v1M672.5 466v3M673.5 463v1M673.5 465v2M676.5 471v2M677.5 467v2M678.5 469v1M679.5 469v1M686.5 462v1M691.5 485v1"/><path stroke="#ffc800" d="M60.5 511v2M69.5 515v1M71.5 519v1M90.5 526v1M103.5 507v1M116.5 520v2M117.5 510v1M117.5 526v1M268.5 465v1M274.5 466v1M299.5 474v1M302.5 467v1M302.5 474v1M302.5 482v2M303.5 471v2M305.5 471v1M305.5 473v3M305.5 478v1M306.5 473v2M308.5 468v1M308.5 470v1M308.5 475v1M309.5 477v1M310.5 467v1M310.5 469v1M310.5 477v1M311.5 467v1M311.5 469v3M312.5 469v1M313.5 475v1M313.5 477v1M313.5 479v1M314.5 504v1M314.5 508v1M315.5 468v1M315.5 471v5M315.5 496v1M315.5 499v1M315.5 505v1M315.5 518v1M317.5 463v1M317.5 476v1M318.5 468v1M318.5 477v2M319.5 457v2M319.5 463v1M319.5 469v2M319.5 511v3M319.5 526v1M320.5 462v1M320.5 466v4M320.5 496v1M320.5 498v2M320.5 511v2M320.5 515v1M320.5 517v1M320.5 522v2M321.5 456v1M321.5 523v1M322.5 451v1M322.5 523v1M323.5 452v1M323.5 476v1M324.5 476v2M325.5 521v1M327.5 529v1M327.5 531v1M327.5 533v1M327.5 535v1M330.5 528v1M335.5 473v1M335.5 533v1M336.5 474v1M338.5 465v1M346.5 524v1M346.5 529v1M347.5 530v1M355.5 508v1M365.5 515v1M374.5 529v1M394.5 427v1M396.5 421v1M396.5 429v1M397.5 422v1M397.5 424v2M397.5 428v1M398.5 419v1M398.5 424v1M398.5 432v1M399.5 418v2M399.5 425v1M399.5 429v1M400.5 427v1M401.5 430v1M402.5 420v1M402.5 424v1M403.5 421v2M403.5 426v1M404.5 421v1M405.5 431v1M408.5 426v1M409.5 422v1M409.5 424v2M409.5 427v2M410.5 420v2M413.5 421v2M414.5 423v1M414.5 425v2M418.5 420v2M418.5 424v1M419.5 426v1M420.5 433v1M421.5 427v1M422.5 425v2M422.5 430v1M424.5 449v1M429.5 416v2M430.5 415v1M431.5 416v1M432.5 423v1M432.5 447v1M434.5 451v1M435.5 441v1M440.5 443v1M441.5 442v3M442.5 437v1M444.5 424v2M445.5 421v1M445.5 423v1M445.5 426v2M446.5 416v1M446.5 426v2M447.5 419v1M447.5 421v1M447.5 428v1M447.5 431v1M448.5 423v1M448.5 426v1M451.5 403v1M452.5 416v1M461.5 444v1M461.5 448v1M462.5 444v1M462.5 446v1M462.5 453v2M463.5 441v1M463.5 444v2M463.5 454v1M464.5 441v1M464.5 444v2M465.5 443v1M465.5 452v1M466.5 442v1M466.5 446v1M466.5 452v1M466.5 456v1M467.5 445v2M467.5 450v1M467.5 453v1M467.5 459v1M468.5 442v1M468.5 445v1M468.5 448v3M468.5 457v1M468.5 459v1M469.5 445v1M469.5 447v1M470.5 421v1M470.5 445v1M470.5 447v1M473.5 424v1M475.5 433v1M476.5 431v1M476.5 433v1M480.5 438v1M482.5 430v1M484.5 426v1M484.5 430v1M489.5 435v1M496.5 432v1M496.5 437v1M498.5 440v1M498.5 442v1M499.5 439v1M499.5 441v1M499.5 446v1M500.5 438v1M501.5 432v2M501.5 439v1M501.5 441v1M502.5 430v2M503.5 428v1M503.5 430v1M507.5 432v1M508.5 440v1M509.5 445v2M511.5 449v1M513.5 446v1M513.5 448v1M513.5 456v2M514.5 448v1M514.5 454v1M514.5 456v2M515.5 447v1M515.5 451v3M515.5 458v1M516.5 447v1M520.5 446v1M520.5 537v1M521.5 448v1M528.5 513v1M528.5 523v1M528.5 537v1M529.5 520v1M529.5 531v1M530.5 531v1M531.5 538v1M542.5 493v1M542.5 496v1M542.5 533v1M542.5 538v1M543.5 530v1M546.5 533v1M547.5 531v1M548.5 530v2M548.5 534v1M550.5 488v2M555.5 536v1M569.5 536v1M583.5 469v1M591.5 529v1M656.5 460v2M657.5 464v1M659.5 461v1M660.5 461v1M665.5 468v1M667.5 465v1M667.5 468v1M668.5 469v1M669.5 468v1M670.5 466v1M670.5 468v1M671.5 465v1M672.5 463v3M673.5 464v1M677.5 474v1M678.5 473v3M679.5 468v1M682.5 472v1M686.5 464v1"/><path stroke="#ffad00" d="M60.5 514v1M96.5 516v1M100.5 510v1M100.5 512v1M101.5 523v3M267.5 528v1M271.5 525v1M271.5 529v1M272.5 525v1M272.5 527v1M279.5 463v2M302.5 468v1M302.5 473v1M305.5 476v2M308.5 466v2M308.5 469v1M309.5 474v2M310.5 465v2M310.5 471v1M310.5 480v1M311.5 468v1M312.5 468v1M313.5 472v1M313.5 474v1M313.5 476v1M313.5 480v1M314.5 507v1M315.5 470v1M315.5 503v1M315.5 517v1M315.5 519v1M316.5 499v1M316.5 511v1M317.5 461v1M317.5 468v1M317.5 505v2M318.5 460v1M318.5 462v2M318.5 469v1M318.5 513v1M318.5 516v1M319.5 464v2M319.5 467v2M319.5 471v1M319.5 510v1M319.5 519v2M319.5 523v2M320.5 470v1M320.5 495v1M320.5 497v1M320.5 514v1M320.5 516v1M320.5 524v1M321.5 453v3M321.5 458v2M321.5 467v1M321.5 469v2M321.5 502v1M321.5 517v1M323.5 454v1M323.5 478v1M323.5 481v1M323.5 513v1M324.5 475v1M324.5 478v1M327.5 515v1M327.5 521v1M327.5 530v1M338.5 464v1M346.5 522v1M346.5 531v1M351.5 516v1M354.5 511v1M354.5 513v2M356.5 509v1M363.5 517v1M364.5 518v1M369.5 522v1M394.5 430v1M397.5 420v2M397.5 423v1M397.5 426v2M397.5 429v1M397.5 431v1M398.5 430v1M399.5 421v3M399.5 430v1M400.5 428v1M400.5 430v1M402.5 422v1M403.5 424v1M404.5 422v1M404.5 426v1M405.5 419v1M406.5 420v1M407.5 429v2M408.5 424v1M408.5 428v1M409.5 419v2M409.5 423v1M410.5 423v3M412.5 418v1M412.5 420v2M413.5 420v1M414.5 427v2M418.5 423v1M419.5 421v2M419.5 427v1M420.5 427v1M420.5 432v1M421.5 426v1M421.5 428v2M428.5 451v1M430.5 417v2M431.5 417v3M434.5 442v1M440.5 444v1M442.5 434v3M442.5 438v1M443.5 419v1M444.5 421v1M444.5 423v1M445.5 418v1M446.5 417v1M446.5 422v2M447.5 415v3M447.5 420v1M447.5 429v2M448.5 421v1M448.5 425v1M448.5 427v1M449.5 423v1M450.5 406v1M450.5 421v1M450.5 423v1M451.5 404v1M451.5 406v1M451.5 417v1M453.5 400v2M461.5 446v1M462.5 445v1M463.5 446v1M463.5 450v1M464.5 449v1M465.5 441v1M465.5 450v1M465.5 454v1M466.5 447v1M466.5 451v1M467.5 442v1M467.5 451v2M467.5 454v1M467.5 456v1M468.5 446v2M468.5 456v1M469.5 444v1M469.5 454v1M469.5 456v2M470.5 441v1M471.5 444v1M472.5 437v1M472.5 444v1M473.5 425v1M477.5 423v1M484.5 427v2M494.5 444v2M495.5 427v1M496.5 438v1M497.5 433v1M497.5 439v1M498.5 432v1M500.5 433v3M501.5 435v3M502.5 438v1M503.5 429v1M503.5 432v2M513.5 447v1M513.5 455v1M514.5 445v3M514.5 455v1M515.5 450v1M529.5 512v1M530.5 530v1M532.5 538v1M539.5 533v1M542.5 494v2M547.5 530v1M560.5 538v1M569.5 537v1M657.5 468v1M665.5 466v2M666.5 464v1M666.5 469v1M667.5 467v1M677.5 466v1"/><path stroke="#ff9200" d="M68.5 510v1M103.5 509v1M272.5 532v1M302.5 469v1M310.5 468v1M310.5 472v1M310.5 476v1M311.5 466v1M311.5 475v1M312.5 470v1M312.5 472v1M312.5 479v1M313.5 469v2M313.5 473v1M314.5 506v1M315.5 469v1M315.5 497v2M315.5 500v3M315.5 504v1M315.5 506v1M316.5 471v4M316.5 513v1M317.5 462v1M317.5 511v1M317.5 513v1M317.5 515v1M318.5 461v1M318.5 470v1M318.5 475v1M318.5 505v1M318.5 514v2M318.5 517v1M319.5 499v1M319.5 521v1M320.5 464v1M320.5 471v1M320.5 508v1M320.5 513v1M320.5 518v1M321.5 457v1M321.5 460v2M321.5 466v1M321.5 468v1M321.5 471v3M321.5 515v1M321.5 518v1M321.5 522v1M321.5 524v1M322.5 452v1M322.5 501v2M322.5 513v1M322.5 516v1M322.5 522v1M322.5 526v1M323.5 451v1M323.5 453v1M323.5 455v1M323.5 469v1M323.5 475v1M323.5 477v1M323.5 514v2M324.5 534v2M326.5 522v1M327.5 518v1M327.5 520v1M328.5 515v1M346.5 505v1M346.5 521v1M354.5 512v1M355.5 510v1M363.5 516v1M364.5 517v1M365.5 518v1M369.5 523v3M394.5 434v1M395.5 423v1M396.5 422v1M396.5 428v1M397.5 432v2M398.5 420v1M398.5 422v2M398.5 431v1M399.5 435v1M402.5 423v1M403.5 420v1M403.5 423v1M404.5 425v1M404.5 429v2M407.5 420v1M407.5 423v5M408.5 421v3M409.5 418v1M409.5 421v1M411.5 421v2M412.5 419v1M412.5 422v1M413.5 419v1M418.5 422v1M419.5 428v1M420.5 422v1M420.5 428v1M421.5 430v1M422.5 447v1M422.5 449v2M423.5 449v1M424.5 450v1M425.5 448v3M428.5 448v1M428.5 450v1M430.5 416v1M431.5 420v1M435.5 442v1M443.5 418v1M444.5 420v1M444.5 422v1M445.5 419v1M445.5 425v1M446.5 420v1M446.5 425v1M447.5 418v1M448.5 419v1M448.5 428v2M449.5 422v1M450.5 407v2M450.5 419v2M450.5 422v1M451.5 405v1M451.5 418v2M452.5 402v3M452.5 417v1M453.5 402v2M461.5 447v1M463.5 451v1M464.5 450v1M465.5 440v1M465.5 444v2M465.5 447v1M465.5 449v1M465.5 451v1M465.5 456v1M466.5 441v1M466.5 448v1M466.5 450v1M468.5 451v1M469.5 442v1M469.5 449v1M469.5 458v1M470.5 444v1M470.5 449v1M471.5 441v1M471.5 445v1M472.5 442v1M485.5 432v1M486.5 433v1M488.5 429v3M488.5 436v1M488.5 439v1M489.5 433v2M489.5 436v2M489.5 440v2M490.5 435v1M494.5 447v1M496.5 439v1M497.5 435v4M497.5 458v1M497.5 465v1M498.5 433v1M498.5 435v1M498.5 438v1M499.5 435v1M499.5 438v1M499.5 443v2M500.5 436v2M501.5 440v1M502.5 432v2M502.5 436v2M503.5 431v1M503.5 434v1M519.5 531v1M524.5 534v1M529.5 530v1M532.5 537v1M536.5 533v2M536.5 536v1M539.5 534v1M542.5 532v1M542.5 536v1M545.5 531v1M548.5 533v1M556.5 536v2M568.5 538v1M665.5 464v1M666.5 466v3M667.5 466v1M667.5 469v1"/><path stroke="#ff7700" d="M117.5 525v1M272.5 526v1M302.5 470v3M310.5 473v1M310.5 475v1M311.5 476v1M312.5 471v1M312.5 475v3M313.5 471v1M315.5 508v2M316.5 476v1M316.5 496v1M316.5 498v1M317.5 469v2M317.5 475v1M317.5 504v1M317.5 514v1M318.5 471v1M318.5 508v1M318.5 510v2M318.5 518v1M319.5 472v1M319.5 509v1M319.5 522v1M320.5 472v2M320.5 509v2M320.5 520v2M321.5 463v2M321.5 478v1M321.5 500v2M321.5 503v1M321.5 509v1M321.5 519v1M321.5 521v1M322.5 453v4M322.5 470v4M322.5 482v1M322.5 512v1M322.5 521v1M322.5 524v2M322.5 527v1M323.5 456v1M323.5 470v1M323.5 512v1M323.5 520v1M323.5 524v2M324.5 520v1M324.5 524v1M325.5 511v1M325.5 520v1M326.5 521v1M327.5 514v1M327.5 519v1M328.5 509v1M328.5 514v1M330.5 534v1M346.5 504v1M355.5 509v1M365.5 517v1M370.5 522v1M372.5 520v3M394.5 433v1M395.5 432v2M396.5 423v1M399.5 431v4M400.5 431v1M403.5 429v1M404.5 423v2M407.5 421v2M419.5 429v1M420.5 429v2M421.5 425v1M421.5 432v1M422.5 445v2M422.5 451v1M423.5 447v1M423.5 450v1M423.5 452v1M424.5 447v2M424.5 452v1M425.5 446v2M428.5 447v1M428.5 449v1M443.5 416v1M444.5 415v1M444.5 418v2M445.5 424v1M446.5 418v2M446.5 424v1M448.5 416v1M448.5 418v1M449.5 417v1M449.5 421v1M450.5 417v1M451.5 421v1M452.5 405v1M452.5 418v1M464.5 451v1M464.5 454v1M465.5 446v1M466.5 449v1M468.5 452v1M469.5 443v1M469.5 450v1M470.5 443v1M471.5 443v1M471.5 446v2M471.5 452v1M472.5 440v2M472.5 445v2M485.5 431v1M486.5 425v1M486.5 431v2M486.5 434v1M487.5 428v1M488.5 432v4M488.5 437v2M489.5 432v1M489.5 438v1M490.5 434v1M490.5 436v1M496.5 461v1M497.5 434v1M497.5 457v1M497.5 459v2M497.5 463v2M498.5 437v1M498.5 458v3M499.5 437v1M499.5 461v2M502.5 434v2M503.5 436v1M524.5 537v1M529.5 536v1M546.5 532v1M547.5 533v1M560.5 535v1M569.5 535v1M583.5 470v1M665.5 465v1M666.5 465v1"/><path stroke="#ff5c00" d="M100.5 513v1M267.5 533v1M270.5 526v1M310.5 474v1M311.5 479v1M312.5 478v1M313.5 468v1M316.5 468v1M316.5 497v1M316.5 500v1M316.5 505v1M316.5 508v1M316.5 510v1M316.5 512v1M316.5 514v1M317.5 512v1M318.5 473v1M318.5 504v1M318.5 506v1M318.5 512v1M318.5 522v3M319.5 474v3M319.5 496v1M319.5 508v1M320.5 494v1M321.5 462v1M321.5 465v1M321.5 474v2M321.5 477v1M321.5 499v1M321.5 508v1M321.5 510v1M321.5 514v1M321.5 520v1M322.5 511v1M322.5 514v2M322.5 518v1M323.5 471v1M323.5 479v2M323.5 521v1M323.5 523v1M324.5 479v1M324.5 513v1M324.5 521v3M324.5 533v1M325.5 509v1M325.5 513v2M325.5 516v1M325.5 519v1M326.5 513v1M327.5 532v1M328.5 508v1M328.5 510v2M346.5 506v3M364.5 516v1M365.5 516v1M369.5 521v1M371.5 522v1M375.5 527v1M395.5 425v1M395.5 427v1M396.5 424v4M421.5 424v1M421.5 447v4M423.5 440v2M423.5 446v1M423.5 451v1M424.5 442v1M424.5 444v1M424.5 446v1M424.5 451v1M427.5 448v1M427.5 450v2M436.5 439v3M436.5 443v1M443.5 417v1M444.5 416v1M448.5 420v1M448.5 430v1M449.5 416v1M449.5 418v3M451.5 420v1M452.5 419v1M464.5 456v1M471.5 451v1M472.5 447v1M485.5 430v1M486.5 426v1M486.5 430v1M486.5 435v2M487.5 427v1M487.5 429v2M487.5 433v2M487.5 436v1M487.5 439v1M490.5 433v1M490.5 437v1M496.5 458v1M496.5 460v1M497.5 461v2M498.5 434v1M498.5 461v5M499.5 431v3M499.5 459v2M499.5 463v1M503.5 435v1M545.5 533v1M560.5 532v1M686.5 463v1"/><path stroke="#ff4100" d="M68.5 509v1M100.5 511v1M271.5 524v1M315.5 507v1M316.5 469v2M316.5 506v1M316.5 509v1M316.5 515v1M317.5 496v1M317.5 503v1M317.5 508v3M318.5 472v1M318.5 474v1M318.5 507v1M318.5 509v1M318.5 519v1M318.5 521v1M319.5 498v1M319.5 500v2M320.5 474v1M320.5 476v1M320.5 478v1M320.5 490v1M320.5 500v1M320.5 506v1M320.5 519v1M321.5 476v1M321.5 504v1M321.5 511v1M321.5 513v1M322.5 477v3M322.5 508v3M322.5 517v1M322.5 519v2M323.5 472v1M323.5 474v1M323.5 501v2M323.5 506v2M323.5 516v1M323.5 518v2M323.5 522v1M324.5 474v1M324.5 481v1M324.5 512v1M324.5 519v1M324.5 532v1M325.5 481v1M325.5 506v1M325.5 517v2M326.5 514v1M328.5 480v2M328.5 506v2M328.5 513v1M346.5 510v1M347.5 507v4M347.5 512v1M371.5 521v1M371.5 523v1M372.5 519v1M372.5 523v1M375.5 528v1M421.5 423v1M422.5 452v1M424.5 445v1M425.5 452v1M426.5 445v1M426.5 450v1M427.5 447v1M427.5 449v1M436.5 442v1M444.5 417v1M464.5 453v1M470.5 451v3M472.5 448v1M485.5 427v3M486.5 427v2M487.5 431v2M487.5 437v2M489.5 431v1M490.5 440v1M491.5 438v1M491.5 440v3M496.5 459v1M496.5 462v1M499.5 458v1M499.5 464v2M523.5 537v1M524.5 536v1M529.5 537v1M546.5 535v1M550.5 538v1M560.5 536v1"/><path stroke="#ff2600" d="M267.5 526v1M272.5 531v1M311.5 477v1M316.5 493v2M316.5 502v2M317.5 471v1M317.5 473v2M317.5 494v2M317.5 497v1M317.5 500v1M317.5 507v1M318.5 503v1M318.5 520v1M319.5 477v2M320.5 475v1M320.5 493v1M320.5 501v1M320.5 507v1M321.5 505v1M321.5 507v1M321.5 512v1M322.5 475v1M322.5 503v1M322.5 507v1M323.5 473v1M323.5 503v3M323.5 510v2M323.5 517v1M324.5 470v2M324.5 480v1M324.5 507v1M324.5 514v1M325.5 480v1M325.5 508v1M325.5 510v1M325.5 512v1M325.5 515v1M326.5 515v2M327.5 473v1M328.5 474v2M328.5 477v3M328.5 482v1M328.5 512v1M329.5 505v1M346.5 509v1M347.5 506v1M347.5 511v1M347.5 513v1M371.5 520v1M375.5 526v1M376.5 526v1M379.5 521v1M379.5 526v2M423.5 443v2M426.5 446v1M426.5 448v2M426.5 451v1M471.5 450v1M472.5 450v1M486.5 429v1M490.5 439v1M491.5 437v1M491.5 439v1M523.5 536v1M542.5 535v1"/><path stroke="#ff0b00" d="M268.5 529v1M311.5 478v1M316.5 495v1M316.5 501v1M316.5 504v1M317.5 472v1M317.5 498v1M318.5 525v2M319.5 497v1M320.5 477v1M320.5 491v2M320.5 505v1M321.5 498v1M322.5 505v1M323.5 508v2M324.5 472v1M324.5 505v2M324.5 508v1M324.5 510v1M324.5 518v1M325.5 474v6M325.5 507v1M326.5 473v3M326.5 511v2M327.5 474v2M327.5 511v1M327.5 513v1M328.5 476v1M329.5 477v1M329.5 479v1M330.5 523v1M346.5 511v1M347.5 503v1M347.5 505v1M370.5 524v1M379.5 520v1M379.5 525v1M380.5 525v1M391.5 477v1M392.5 470v1M392.5 472v2M393.5 468v1M423.5 445v1M426.5 452v1M491.5 435v2M542.5 534v1M560.5 534v1"/><path stroke="#f2000d" d="M267.5 524v1M270.5 528v2M271.5 528v1M272.5 530v1M273.5 528v1M316.5 491v1M316.5 507v1M317.5 499v1M318.5 499v2M319.5 502v1M319.5 507v1M321.5 496v2M321.5 506v1M322.5 506v1M324.5 473v1M324.5 504v1M324.5 509v1M324.5 511v1M325.5 471v1M325.5 505v1M326.5 471v1M326.5 476v1M327.5 472v1M327.5 476v1M327.5 478v2M327.5 504v1M327.5 506v1M327.5 509v2M327.5 512v1M329.5 478v1M329.5 480v3M329.5 514v1M329.5 522v2M332.5 514v2M332.5 517v2M333.5 521v2M333.5 524v1M337.5 525v3M346.5 512v1M347.5 504v1M370.5 521v1M370.5 523v1M376.5 525v1M376.5 527v1M380.5 526v1M390.5 481v1M391.5 476v1M392.5 471v1M393.5 469v3M545.5 535v1M560.5 537v1"/><path stroke="#db0024" d="M268.5 534v1M269.5 535v1M274.5 528v1M274.5 533v1M317.5 501v2M318.5 502v1M319.5 505v2M320.5 504v1M325.5 472v1M326.5 508v3M326.5 517v4M327.5 508v1M329.5 476v1M330.5 514v1M330.5 522v1M331.5 512v2M332.5 512v2M332.5 516v1M333.5 508v1M333.5 510v1M333.5 512v2M333.5 515v1M333.5 523v1M333.5 525v3M335.5 479v2M335.5 520v1M336.5 519v2M336.5 527v1M337.5 524v1M371.5 524v1M372.5 529v1M373.5 528v1M375.5 525v1M376.5 528v1M379.5 522v1M390.5 478v1M390.5 480v1M391.5 473v3M393.5 472v1M545.5 532v1"/><path stroke="#c4003b" d="M267.5 525v1M269.5 534v1M316.5 492v1M319.5 504v1M320.5 502v1M322.5 504v1M324.5 515v1M324.5 517v1M326.5 477v2M326.5 480v1M327.5 477v1M327.5 505v1M327.5 507v1M329.5 475v1M329.5 483v1M329.5 512v2M329.5 515v3M329.5 521v1M330.5 512v2M330.5 515v2M331.5 508v4M331.5 514v2M331.5 517v2M332.5 507v2M332.5 510v1M332.5 519v1M333.5 509v1M333.5 511v1M333.5 514v1M333.5 516v1M333.5 518v2M334.5 513v1M334.5 521v2M334.5 524v1M334.5 529v1M335.5 519v1M335.5 521v1M335.5 527v2M336.5 521v1M337.5 517v1M337.5 519v2M337.5 522v1M338.5 525v1M372.5 524v1M373.5 527v1M375.5 520v1M375.5 522v1M376.5 519v1M376.5 524v1M377.5 523v1M378.5 523v1M379.5 524v1M385.5 525v1M386.5 525v1M386.5 527v1M387.5 522v1M390.5 477v1M390.5 479v1M546.5 534v1"/><path stroke="#ae0052" d="M266.5 529v1M269.5 533v1M271.5 526v1M318.5 501v1M319.5 503v1M324.5 516v1M326.5 507v1M329.5 511v1M329.5 519v1M330.5 507v1M330.5 509v1M330.5 511v1M330.5 521v1M331.5 507v1M331.5 516v1M332.5 509v1M332.5 511v1M332.5 520v2M333.5 517v1M333.5 520v1M334.5 512v1M334.5 514v2M334.5 518v3M334.5 523v1M334.5 526v3M335.5 514v1M335.5 517v1M335.5 522v1M335.5 526v1M336.5 514v1M336.5 517v2M336.5 522v1M336.5 526v1M337.5 516v1M337.5 518v1M337.5 521v1M337.5 523v1M370.5 520v1M371.5 525v1M372.5 527v1M375.5 521v1M375.5 523v2M377.5 522v1M378.5 525v1M383.5 523v1M385.5 524v1M385.5 526v3M386.5 524v1M386.5 526v1M386.5 528v2M387.5 519v3M387.5 523v1M388.5 522v1M392.5 524v1M393.5 525v3M545.5 534v1"/><path stroke="#970069" d="M268.5 528v1M269.5 526v1M269.5 532v1M272.5 528v1M273.5 529v1M274.5 529v1M317.5 493v1M320.5 503v1M326.5 506v1M329.5 507v4M329.5 520v1M330.5 506v1M330.5 508v1M330.5 510v1M330.5 517v1M331.5 519v1M331.5 524v1M332.5 522v1M332.5 525v1M334.5 516v2M334.5 525v1M335.5 512v2M335.5 515v1M335.5 518v1M335.5 523v3M336.5 513v1M336.5 515v2M338.5 520v2M338.5 523v2M339.5 523v2M372.5 525v1M372.5 528v1M373.5 529v1M376.5 520v1M376.5 522v1M377.5 525v1M378.5 526v1M379.5 523v1M380.5 524v1M383.5 522v1M383.5 525v1M383.5 528v3M384.5 527v1M385.5 522v2M385.5 529v2M385.5 532v1M386.5 520v4M386.5 530v1M386.5 532v2M387.5 524v2M387.5 530v1M387.5 533v1M388.5 520v2M388.5 523v3M389.5 527v1M390.5 530v2M392.5 525v1M392.5 527v3M393.5 528v2"/><path stroke="#800080" d="M51.5 538v1M54.5 538v1M55.5 538v1M56.5 538v1M57.5 538v1M58.5 538v1M59.5 538v1M60.5 538v1M61.5 538v1M62.5 538v1M63.5 538v1M64.5 538v1M65.5 538v1M66.5 538v1M67.5 538v1M68.5 538v1M69.5 538v1M70.5 538v1M71.5 538v1M72.5 538v1M73.5 538v1M74.5 538v1M75.5 538v1M76.5 538v1M77.5 538v1M78.5 538v1M79.5 538v1M80.5 538v1M81.5 538v1M82.5 538v1M84.5 538v1M85.5 538v1M86.5 538v1M87.5 538v1M88.5 538v1M89.5 538v1M90.5 538v1M91.5 538v1M92.5 538v1M93.5 538v1M94.5 538v1M96.5 538v1M97.5 538v1M98.5 538v1M99.5 538v1M100.5 538v1M101.5 538v1M102.5 538v1M103.5 538v1M104.5 538v1M119.5 538v1M120.5 538v1M121.5 538v1M122.5 538v1M123.5 538v1M124.5 538v1M125.5 538v1M126.5 538v1M127.5 538v1M129.5 538v1M130.5 538v1M131.5 538v1M132.5 538v1M133.5 538v1M134.5 538v1M137.5 538v1M138.5 538v1M140.5 538v1M141.5 538v1M142.5 538v1M143.5 538v1M144.5 538v1M145.5 538v1M146.5 538v1M147.5 538v1M148.5 538v1M149.5 538v1M158.5 538v1M159.5 538v1M160.5 538v1M161.5 538v1M162.5 538v1M163.5 538v1M164.5 538v1M165.5 538v1M166.5 538v1M167.5 538v1M168.5 538v1M169.5 538v1M170.5 538v1M171.5 538v1M172.5 538v1M173.5 538v1M174.5 538v1M175.5 538v1M176.5 538v1M177.5 538v1M178.5 538v1M179.5 538v1M180.5 538v1M181.5 538v1M182.5 538v1M183.5 538v1M184.5 538v1M185.5 538v1M186.5 538v1M187.5 538v1M188.5 538v1M189.5 538v1M190.5 538v1M191.5 538v1M196.5 538v1M197.5 538v1M198.5 538v1M199.5 538v1M200.5 538v1M201.5 538v1M202.5 538v1M203.5 538v1M204.5 538v1M205.5 538v1M206.5 538v1M210.5 538v1M211.5 538v1M212.5 538v1M213.5 538v1M214.5 538v1M215.5 538v1M216.5 538v1M217.5 538v1M218.5 538v1M219.5 538v1M220.5 538v1M221.5 538v1M224.5 538v1M225.5 538v1M226.5 538v1M227.5 538v1M228.5 538v1M229.5 538v1M230.5 538v1M231.5 538v1M232.5 538v1M233.5 538v1M234.5 538v1M235.5 538v1M236.5 538v1M237.5 538v1M238.5 538v1M239.5 538v1M240.5 538v1M241.5 538v1M242.5 538v1M243.5 538v1M244.5 538v1M245.5 538v1M246.5 538v1M247.5 538v1M248.5 538v1M251.5 538v1M252.5 538v1M253.5 538v1M254.5 538v1M255.5 538v1M256.5 538v1M257.5 538v1M258.5 538v1M259.5 538v1M260.5 538v1M261.5 538v1M262.5 538v1M263.5 538v1M264.5 538v1M265.5 538v1M266.5 526v1M266.5 528v1M266.5 538v1M267.5 538v1M268.5 524v4M268.5 538v1M269.5 527v5M269.5 538v1M270.5 538v1M271.5 538v1M272.5 529v1M272.5 538v1M273.5 531v2M273.5 538v1M274.5 530v1M274.5 532v1M274.5 538v1M275.5 538v1M276.5 538v1M277.5 538v1M278.5 538v1M279.5 538v1M281.5 538v1M282.5 538v1M283.5 538v1M284.5 538v1M285.5 538v1M286.5 538v1M287.5 538v1M288.5 538v1M289.5 538v1M290.5 538v1M291.5 538v1M292.5 538v1M293.5 538v1M294.5 538v1M295.5 538v1M296.5 538v1M297.5 538v1M298.5 538v1M299.5 538v1M300.5 538v1M301.5 538v1M302.5 538v1M303.5 538v1M304.5 538v1M305.5 538v1M306.5 538v1M307.5 538v1M308.5 538v1M309.5 538v1M310.5 538v1M311.5 538v1M326.5 505v1M329.5 506v1M329.5 518v1M330.5 518v3M331.5 520v4M331.5 525v1M332.5 523v2M334.5 507v5M335.5 509v3M335.5 516v1M336.5 523v3M338.5 522v1M372.5 526v1M373.5 519v8M374.5 520v8M375.5 538v1M376.5 521v1M376.5 523v1M376.5 538v1M377.5 520v2M377.5 524v1M377.5 526v3M377.5 538v1M378.5 521v2M378.5 524v1M378.5 527v1M378.5 538v1M379.5 538v1M380.5 519v5M381.5 538v1M382.5 538v1M383.5 521v1M383.5 524v1M383.5 526v2M383.5 538v1M384.5 519v8M384.5 528v5M384.5 538v1M385.5 519v3M385.5 531v1M385.5 538v1M386.5 531v1M386.5 534v2M386.5 538v1M387.5 526v4M387.5 531v2M387.5 538v1M388.5 526v9M388.5 538v1M389.5 520v7M389.5 528v6M390.5 521v9M390.5 538v1M391.5 522v9M391.5 538v1M392.5 526v1M392.5 538v1M393.5 530v1M393.5 538v1M394.5 538v1M395.5 538v1M396.5 538v1M397.5 538v1M398.5 538v1M399.5 538v1M400.5 538v1M401.5 538v1M402.5 538v1M403.5 538v1M404.5 538v1M405.5 538v1M406.5 538v1M407.5 538v1M408.5 538v1M409.5 538v1M410.5 538v1M411.5 538v1M412.5 538v1M413.5 538v1M414.5 538v1M415.5 538v1M416.5 538v1M417.5 538v1M418.5 538v1M419.5 538v1M420.5 538v1M421.5 538v1M422.5 538v1M423.5 538v1M424.5 538v1M425.5 538v1M426.5 538v1M427.5 538v1M428.5 538v1M429.5 538v1M430.5 538v1M431.5 538v1M432.5 538v1M433.5 538v1M434.5 538v1M435.5 538v1M436.5 538v1M437.5 538v1M438.5 538v1M439.5 538v1M440.5 538v1M441.5 538v1M442.5 538v1M443.5 538v1M444.5 538v1M445.5 538v1M446.5 538v1M447.5 538v1M448.5 538v1M449.5 538v1M450.5 538v1M451.5 538v1M452.5 538v1M453.5 538v1M454.5 538v1M455.5 538v1M456.5 538v1M457.5 538v1M458.5 538v1M459.5 538v1M460.5 538v1M461.5 538v1M462.5 538v1M463.5 538v1M464.5 538v1M465.5 538v1M466.5 538v1M468.5 538v1M469.5 538v1M470.5 538v1M471.5 538v1M472.5 538v1M473.5 538v1M474.5 538v1M475.5 538v1M476.5 538v1M477.5 538v1M478.5 538v1M479.5 538v1M480.5 538v1M481.5 538v1M482.5 538v1M483.5 538v1M484.5 538v1M485.5 538v1M486.5 538v1M487.5 538v1M488.5 538v1M489.5 538v1M490.5 538v1M491.5 538v1M492.5 538v1M493.5 538v1M494.5 538v1M495.5 538v1M496.5 538v1M497.5 538v1M498.5 538v1M499.5 538v1M500.5 538v1M501.5 538v1M502.5 538v1M503.5 538v1M504.5 538v1M505.5 538v1M506.5 538v1M507.5 538v1M508.5 538v1M509.5 538v1M510.5 538v1M511.5 538v1M512.5 538v1M513.5 538v1M514.5 538v1M515.5 538v1M570.5 538v1M571.5 538v1M572.5 538v1M573.5 538v1M574.5 538v1M575.5 538v1M576.5 538v1M577.5 538v1M578.5 538v1M579.5 538v1M580.5 538v1M581.5 538v1M582.5 538v1M583.5 538v1M584.5 538v1M585.5 538v1M586.5 538v1M587.5 538v1M588.5 538v1M589.5 538v1M590.5 538v1M591.5 538v1M592.5 538v1M593.5 538v1M594.5 538v1M595.5 538v1M596.5 538v1M597.5 538v1M598.5 538v1M599.5 538v1M600.5 538v1M601.5 538v1M602.5 538v1M603.5 538v1M604.5 538v1M605.5 538v1M606.5 538v1M607.5 538v1M608.5 538v1M609.5 538v1M610.5 538v1M611.5 538v1M612.5 538v1M613.5 538v1M614.5 538v1M615.5 538v1M616.5 538v1M617.5 538v1M618.5 538v1M619.5 538v1M620.5 538v1M621.5 538v1M622.5 538v1M623.5 538v1M624.5 538v1M625.5 538v1M626.5 538v1M627.5 538v1M628.5 538v1M629.5 538v1M630.5 538v1M631.5 538v1M634.5 538v1M635.5 538v1M636.5 538v1M637.5 538v1M638.5 538v1M639.5 538v1M640.5 538v1M641.5 538v1M642.5 538v1M643.5 538v1M644.5 538v1M645.5 538v1M646.5 538v1M647.5 538v1M648.5 538v1M649.5 538v1M650.5 538v1M652.5 538v1M653.5 538v1M654.5 538v1M655.5 538v1M656.5 538v1M657.5 538v1M658.5 538v1M659.5 538v1M660.5 538v1M661.5 538v1M662.5 538v1M663.5 538v1M664.5 538v1M665.5 538v1M666.5 538v1M668.5 538v1M669.5 538v1M670.5 538v1M671.5 538v1M672.5 538v1M673.5 538v1M674.5 538v1M675.5 538v1M676.5 538v1M677.5 538v1M678.5 538v1M679.5 538v1"/></g>
<path d="M50.5 309.5H700.5V539.5H50.5ZM51 520.5h5M700 520.5h-5M51 501.5h5M700 501.5h-5M51 482.5h5M700 482.5h-5M51 463.5h5M700 463.5h-5M51 444.5h5M700 444.5h-5M51 424.5h5M700 424.5h-5M51 405.5h5M700 405.5h-5M51 386.5h5M700 386.5h-5M51 367.5h5M700 367.5h-5M51 348.5h5M700 348.5h-5M51 329.5h5M700 329.5h-5M158.5 539v-5M158.5 310v5M267.5 539v-5M267.5 310v5M375.5 539v-5M375.5 310v5M483.5 539v-5M483.5 310v5M592.5 539v-5M592.5 310v5" fill="none" stroke="#000" stroke-width="1"/>
<rect x="754.5" y="344.5" width="16" height="160" fill="url(#cb)" stroke="#000" stroke-width="1"/>
</g>
<text x="47" y="543.7" text-anchor="end">0</text>
<text x="47" y="524.7" text-anchor="end">1</text>
<text x="47" y="505.7" text-anchor="end">2</text>
<text x="47" y="486.7" text-anchor="end">3</text>
<text x="47" y="467.7" text-anchor="end">4</text>
<text x="47" y="448.7" text-anchor="end">5</text>
<text x="47" y="428.7" text-anchor="end">6</text>
<text x="47" y="409.7" text-anchor="end">7</text>
<text x="47" y="390.7" text-anchor="end">8</text>
<text x="47" y="371.7" text-anchor="end">9</text>
<text x="47" y="352.7" text-anchor="end">10</text>
<text x="47" y="333.7" text-anchor="end">11</text>
<text x="47" y="313.7" text-anchor="end">12</text>
<text x="49.7" y="554" text-anchor="middle">00:00</text>
<text x="158.0" y="554" text-anchor="middle">04:00</text>
<text x="266.4" y="554" text-anchor="middle">08:00</text>
<text x="374.7" y="554" text-anchor="middle">12:00</text>
<text x="483.0" y="554" text-anchor="middle">16:00</text>
<text x="591.4" y="554" text-anchor="middle">20:00</text>
<text x="699.7" y="554" text-anchor="middle">00:00</text>
<text x="343.55" y="572" textLength="25.70" lengthAdjust="spacingAndGlyphs">Time</text><text x="374.55" y="572" textLength="30.90" lengthAdjust="spacingAndGlyphs">(UTC)</text>
<text transform="translate(27.4 425.4) rotate(-90)" text-anchor="middle">Height (km)</text>
<text x="53.15" y="33" textLength="13.50" lengthAdjust="spacingAndGlyphs">29</text>
<text x="71.55" y="33" textLength="22.20" lengthAdjust="spacingAndGlyphs">Aug</text>
<text x="98.35" y="33" textLength="27.20" lengthAdjust="spacingAndGlyphs">2020</text>
<text class="b" x="56.55" y="56" textLength="64.20" lengthAdjust="spacingAndGlyphs">Attenuated</text>
<text class="b" x="125.35" y="56" textLength="70.70" lengthAdjust="spacingAndGlyphs">backscatter</text>
<text class="b" x="200.35" y="56" textLength="63.60" lengthAdjust="spacingAndGlyphs">coefficient</text>
<text class="b" x="57.05" y="326" textLength="43.50" lengthAdjust="spacingAndGlyphs">Doppler</text>
<text class="b" x="105.35" y="326" textLength="47.40" lengthAdjust="spacingAndGlyphs">velocity</text>
<text class="b" x="2.75" y="573" textLength="53.70" lengthAdjust="spacingAndGlyphs">TROPOS</text>
<text class="b" x="60.75" y="573" textLength="34.00" lengthAdjust="spacingAndGlyphs">HALO</text>
<text class="b" x="99.55" y="573" textLength="44.40" lengthAdjust="spacingAndGlyphs">Doppler</text>
<text class="b" x="148.75" y="573" textLength="28.50" lengthAdjust="spacingAndGlyphs">Lidar</text>
<text x="742.6" y="80.0" text-anchor="end">10</text><text class="s" x="743" y="75.0">-</text><text class="s" x="747.3" y="75.0">4</text>
<text x="742.6" y="133.3" text-anchor="end">10</text><text class="s" x="743" y="128.3">-</text><text class="s" x="747.3" y="128.3">5</text>
<text x="742.6" y="186.7" text-anchor="end">10</text><text class="s" x="743" y="181.7">-</text><text class="s" x="747.3" y="181.7">6</text>
<text x="742.6" y="240.0" text-anchor="end">10</text><text class="s" x="743" y="235.0">-</text><text class="s" x="747.3" y="235.0">7</text>
<g transform="translate(723 154.8) rotate(-90)"><text x="-19" y="0">sr</text><text class="s" x="-8.8" y="-5">-1</text><text x="2.3" y="0" textLength="8.4" lengthAdjust="spacingAndGlyphs">m</text><text class="s" x="10.8" y="-5">-</text><text class="s" x="15" y="-5">1</text></g>
<text x="750.6" y="348.8" text-anchor="end">2</text>
<text x="750.6" y="368.8" text-anchor="end">1.5</text>
<text x="750.6" y="388.8" text-anchor="end">1</text>
<text x="750.6" y="408.8" text-anchor="end">0.5</text>
<text x="750.6" y="428.8" text-anchor="end">0</text>
<text x="750.6" y="448.8" text-anchor="end">−0.5</text>
<text x="750.6" y="468.8" text-anchor="end">−1</text>
<text x="750.6" y="488.8" text-anchor="end">−1.5</text>
<text x="750.6" y="508.8" text-anchor="end">−2</text>
<g transform="translate(723 424.5) rotate(-90)"><text x="-14" y="0" textLength="8.2" lengthAdjust="spacingAndGlyphs">m</text><text x="-0.9" y="0">s</text><text class="s" x="5" y="-5">-</text><text class="s" x="8.7" y="-5">1</text></g>
</svg></body></html>
